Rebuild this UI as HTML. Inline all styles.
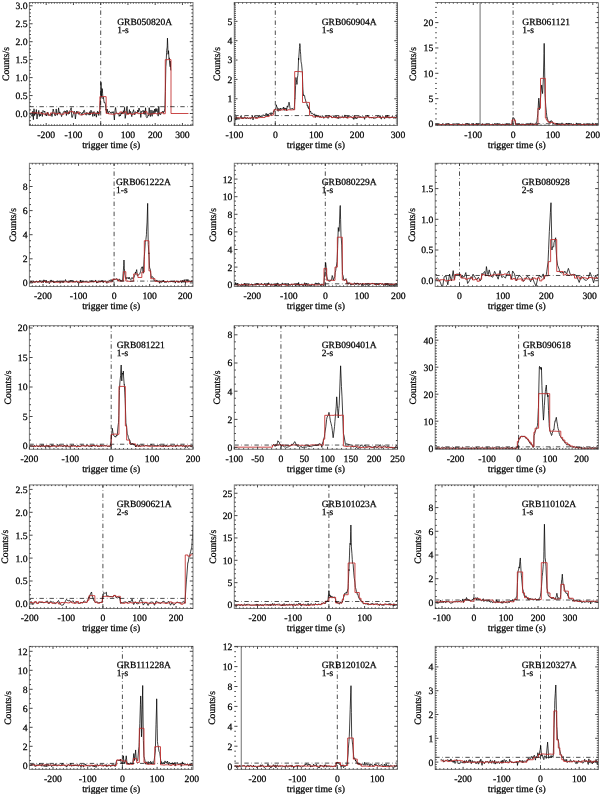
<!DOCTYPE html>
<html><head><meta charset="utf-8"><style>
html,body{margin:0;padding:0;background:#fff;}
svg{display:block;font-family:"Liberation Serif", serif;will-change:transform;}
text{fill:#000;stroke:#000;stroke-width:0.25px;text-rendering:geometricPrecision;}
</style></head><body>
<svg width="600" height="794" viewBox="0 0 600 794">
<rect width="600" height="794" fill="#fff"/>
<clipPath id="cGRB050820A"><rect x="29.4" y="2.5" width="163.6" height="123.0"/></clipPath>
<g clip-path="url(#cGRB050820A)"><path d="M30.40,113.50 L31.00,115.15 L31.59,114.92 L32.19,116.39 L32.79,111.17 L33.39,119.70 L33.99,108.80 L34.59,115.55 L35.19,112.64 L35.79,114.17 L36.39,109.56 L36.99,119.05 L37.59,114.37 L38.19,114.53 L38.79,110.45 L39.39,116.46 L39.99,113.96 L40.59,115.86 L41.19,113.39 L41.79,111.93 L42.39,116.46 L42.99,110.42 L43.59,111.07 L44.19,112.15 L44.79,111.07 L45.39,115.34 L45.99,113.83 L46.59,116.02 L47.19,114.22 L47.79,112.07 L48.39,115.36 L48.99,114.57 L49.59,115.35 L50.19,115.78 L50.79,115.31 L51.39,113.53 L51.99,116.51 L52.59,112.87 L53.19,109.03 L53.79,111.50 L54.39,114.02 L54.99,115.89 L55.59,115.51 L56.19,108.94 L56.79,113.36 L57.39,115.22 L57.99,112.99 L58.59,107.85 L59.19,113.18 L59.79,111.84 L60.39,112.69 L60.99,114.45 L61.59,116.58 L62.19,114.44 L62.79,114.06 L63.39,111.92 L63.99,111.24 L64.59,110.99 L65.19,112.73 L65.79,111.12 L66.39,115.53 L66.99,110.13 L67.59,112.12 L68.19,114.30 L68.79,112.18 L69.39,113.70 L69.99,110.45 L70.59,109.41 L71.19,107.62 L71.79,117.26 L72.39,117.39 L72.99,114.86 L73.59,113.07 L74.19,111.14 L74.79,112.65 L75.39,118.94 L75.99,114.32 L76.59,111.27 L77.19,112.88 L77.79,111.45 L78.39,114.10 L78.99,114.04 L79.59,113.00 L80.19,112.40 L80.79,112.97 L81.39,113.18 L81.99,115.31 L82.59,112.48 L83.19,113.17 L83.79,110.46 L84.39,110.27 L84.99,113.00 L85.59,114.51 L86.19,115.22 L86.79,112.36 L87.39,113.29 L87.99,114.43 L88.59,113.38 L89.19,115.17 L89.79,111.62 L90.39,114.70 L90.99,110.20 L91.59,112.41 L92.19,111.90 L92.79,116.45 L93.39,113.04 L93.99,111.51 L94.59,116.07 L95.19,114.22 L95.79,113.41 L96.39,117.20 L96.99,112.65 L97.59,111.22 L97.97,113.50 L98.19,112.14 L98.79,115.49 L99.39,110.93 L99.88,109.91 L99.99,105.40 L100.59,99.41 L100.70,99.14 L100.97,82.27 L101.19,86.93 L101.38,97.34 L101.79,91.96 L101.79,88.55 L102.39,88.80 L102.61,93.75 L102.99,98.75 L103.43,97.34 L103.59,98.68 L104.19,102.79 L104.51,102.73 L104.79,102.35 L105.39,104.07 L105.99,110.26 L106.15,109.19 L106.59,113.15 L107.19,109.10 L107.79,112.32 L108.33,113.50 L108.39,113.77 L108.99,111.15 L109.59,111.46 L110.19,112.05 L110.79,113.10 L111.39,113.25 L111.99,111.79 L112.59,112.82 L113.19,111.60 L113.79,114.26 L114.39,119.98 L114.99,110.62 L115.59,107.52 L116.19,112.21 L116.79,113.66 L117.39,113.75 L117.99,113.69 L118.59,113.32 L119.19,116.38 L119.79,114.74 L120.39,116.03 L120.99,112.66 L121.59,114.13 L122.19,111.99 L122.79,113.78 L123.39,110.65 L123.99,112.72 L124.59,107.39 L125.19,118.39 L125.79,115.01 L126.39,110.84 L126.99,106.45 L127.59,113.92 L128.19,113.12 L128.79,113.84 L129.39,109.64 L129.99,113.99 L130.59,111.38 L131.19,114.06 L131.79,116.62 L132.39,112.34 L132.99,111.82 L133.59,109.69 L134.19,113.46 L134.79,114.82 L135.39,111.63 L135.99,112.49 L136.59,112.38 L137.19,113.32 L137.79,109.99 L138.39,112.11 L138.99,107.97 L139.59,110.10 L140.19,111.31 L140.79,117.46 L141.39,111.45 L141.99,111.93 L142.59,110.87 L143.19,110.23 L143.79,114.12 L144.39,110.81 L144.99,114.54 L145.59,107.75 L146.19,116.59 L146.79,117.74 L147.39,117.44 L147.99,115.38 L148.59,115.99 L149.19,107.70 L149.79,113.84 L150.39,116.57 L150.99,109.94 L151.59,114.51 L152.19,116.26 L152.79,110.56 L153.39,111.23 L153.99,114.08 L154.59,109.11 L155.19,112.54 L155.79,108.53 L156.39,111.52 L156.99,108.67 L157.59,112.56 L158.19,116.13 L158.79,106.25 L159.39,114.30 L159.99,113.36 L160.59,114.70 L161.19,113.36 L161.79,112.15 L162.39,112.25 L162.99,111.01 L163.38,112.78 L163.59,112.00 L164.19,111.97 L164.79,108.81 L165.01,104.52 L165.39,91.48 L165.83,66.83 L165.99,65.06 L166.59,52.68 L166.65,50.68 L167.19,47.02 L167.46,38.11 L167.79,45.72 L168.01,54.26 L168.39,53.16 L168.55,50.68 L168.99,58.77 L169.37,57.85 L169.59,61.05 L170.19,66.83 L170.19,61.00 L170.73,70.42" fill="none" stroke="#000" stroke-width="0.75" stroke-linejoin="round"/><path d="M30.40,112.84 L32.64,112.84 L32.64,112.99 L34.88,112.99 L34.88,112.77 L37.12,112.77 L37.12,113.09 L39.36,113.09 L39.36,112.97 L41.60,112.97 L41.60,113.76 L43.84,113.76 L43.84,114.19 L46.09,114.19 L46.09,113.01 L48.33,113.01 L48.33,115.13 L50.57,115.13 L50.57,112.90 L52.81,112.90 L52.81,113.07 L55.05,113.07 L55.05,113.98 L57.29,113.98 L57.29,113.35 L59.53,113.35 L59.53,114.11 L61.78,114.11 L61.78,114.25 L64.02,114.25 L64.02,112.73 L66.26,112.73 L66.26,113.35 L68.50,113.35 L68.50,111.90 L70.74,111.90 L70.74,111.40 L72.98,111.40 L72.98,112.95 L75.23,112.95 L75.23,113.26 L77.47,113.26 L77.47,112.13 L79.71,112.13 L79.71,114.88 L81.95,114.88 L81.95,114.44 L84.19,114.44 L84.19,113.61 L86.43,113.61 L86.43,113.18 L88.67,113.18 L88.67,113.37 L90.92,113.37 L90.92,113.35 L93.16,113.35 L93.16,112.85 L95.40,112.85 L95.40,113.44 L97.64,113.44 L97.64,113.35 L99.88,113.35 L99.88,96.63 L106.15,96.63 L106.15,113.42 L108.42,113.42 L108.42,113.90 L110.70,113.90 L110.70,114.11 L112.97,114.11 L112.97,114.26 L115.25,114.26 L115.25,113.11 L117.52,113.11 L117.52,113.59 L119.80,113.59 L119.80,111.96 L122.07,111.96 L122.07,113.31 L124.34,113.31 L124.34,111.89 L126.62,111.89 L126.62,114.30 L128.89,114.30 L128.89,113.34 L131.17,113.34 L131.17,114.42 L133.44,114.42 L133.44,113.50 L135.72,113.50 L135.72,112.67 L137.99,112.67 L137.99,113.63 L140.26,113.63 L140.26,113.53 L142.54,113.53 L142.54,112.98 L144.81,112.98 L144.81,111.76 L147.09,111.76 L147.09,113.99 L149.36,113.99 L149.36,114.11 L151.64,114.11 L151.64,113.78 L153.91,113.78 L153.91,113.38 L156.19,113.38 L156.19,113.89 L158.46,113.89 L158.46,113.05 L160.73,113.05 L160.73,112.67 L163.01,112.67 L163.01,113.72 L165.28,113.72 L165.28,59.65 L171.01,59.65 L171.01,113.50 L188.45,113.50" fill="none" stroke="#c02828" stroke-width="0.85"/><line x1="100.70" y1="125.5" x2="100.70" y2="2.5" stroke="#000" stroke-width="0.7" stroke-dasharray="4.4,2.6,0.6,2.46"/><line x1="29.4" y1="106.68" x2="193.0" y2="106.68" stroke="#000" stroke-width="0.7" stroke-dasharray="4.4,2.6,0.6,2.46"/></g>
<rect x="29.4" y="2.5" width="163.6" height="123.0" stroke="#7a7a7a" stroke-width="1" fill="none"/>
<path d="M29.85,125.5v-1.2M29.85,2.5v1.2M32.58,125.5v-1.2M32.58,2.5v1.2M35.30,125.5v-1.2M35.30,2.5v1.2M38.03,125.5v-1.2M38.03,2.5v1.2M40.75,125.5v-1.2M40.75,2.5v1.2M43.48,125.5v-1.2M43.48,2.5v1.2M46.20,125.5v-2.5M46.20,2.5v2.5M48.92,125.5v-1.2M48.92,2.5v1.2M51.65,125.5v-1.2M51.65,2.5v1.2M54.38,125.5v-1.2M54.38,2.5v1.2M57.10,125.5v-1.2M57.10,2.5v1.2M59.83,125.5v-1.2M59.83,2.5v1.2M62.55,125.5v-1.2M62.55,2.5v1.2M65.28,125.5v-1.2M65.28,2.5v1.2M68.00,125.5v-1.2M68.00,2.5v1.2M70.72,125.5v-1.2M70.72,2.5v1.2M73.45,125.5v-2.5M73.45,2.5v2.5M76.18,125.5v-1.2M76.18,2.5v1.2M78.90,125.5v-1.2M78.90,2.5v1.2M81.62,125.5v-1.2M81.62,2.5v1.2M84.35,125.5v-1.2M84.35,2.5v1.2M87.07,125.5v-1.2M87.07,2.5v1.2M89.80,125.5v-1.2M89.80,2.5v1.2M92.53,125.5v-1.2M92.53,2.5v1.2M95.25,125.5v-1.2M95.25,2.5v1.2M97.97,125.5v-1.2M97.97,2.5v1.2M100.70,125.5v-2.5M100.70,2.5v2.5M103.43,125.5v-1.2M103.43,2.5v1.2M106.15,125.5v-1.2M106.15,2.5v1.2M108.88,125.5v-1.2M108.88,2.5v1.2M111.60,125.5v-1.2M111.60,2.5v1.2M114.32,125.5v-1.2M114.32,2.5v1.2M117.05,125.5v-1.2M117.05,2.5v1.2M119.78,125.5v-1.2M119.78,2.5v1.2M122.50,125.5v-1.2M122.50,2.5v1.2M125.22,125.5v-1.2M125.22,2.5v1.2M127.95,125.5v-2.5M127.95,2.5v2.5M130.68,125.5v-1.2M130.68,2.5v1.2M133.40,125.5v-1.2M133.40,2.5v1.2M136.12,125.5v-1.2M136.12,2.5v1.2M138.85,125.5v-1.2M138.85,2.5v1.2M141.57,125.5v-1.2M141.57,2.5v1.2M144.30,125.5v-1.2M144.30,2.5v1.2M147.03,125.5v-1.2M147.03,2.5v1.2M149.75,125.5v-1.2M149.75,2.5v1.2M152.47,125.5v-1.2M152.47,2.5v1.2M155.20,125.5v-2.5M155.20,2.5v2.5M157.93,125.5v-1.2M157.93,2.5v1.2M160.65,125.5v-1.2M160.65,2.5v1.2M163.38,125.5v-1.2M163.38,2.5v1.2M166.10,125.5v-1.2M166.10,2.5v1.2M168.83,125.5v-1.2M168.83,2.5v1.2M171.55,125.5v-1.2M171.55,2.5v1.2M174.28,125.5v-1.2M174.28,2.5v1.2M177.00,125.5v-1.2M177.00,2.5v1.2M179.73,125.5v-1.2M179.73,2.5v1.2M182.45,125.5v-2.5M182.45,2.5v2.5M185.18,125.5v-1.2M185.18,2.5v1.2M187.90,125.5v-1.2M187.90,2.5v1.2M190.63,125.5v-1.2M190.63,2.5v1.2M29.4,124.27h1.6M193.0,124.27h-1.6M29.4,120.68h1.6M193.0,120.68h-1.6M29.4,117.09h1.6M193.0,117.09h-1.6M29.4,113.50h3.2M193.0,113.50h-3.2M29.4,109.91h1.6M193.0,109.91h-1.6M29.4,106.32h1.6M193.0,106.32h-1.6M29.4,102.73h1.6M193.0,102.73h-1.6M29.4,99.14h1.6M193.0,99.14h-1.6M29.4,95.55h3.2M193.0,95.55h-3.2M29.4,91.96h1.6M193.0,91.96h-1.6M29.4,88.37h1.6M193.0,88.37h-1.6M29.4,84.78h1.6M193.0,84.78h-1.6M29.4,81.19h1.6M193.0,81.19h-1.6M29.4,77.60h3.2M193.0,77.60h-3.2M29.4,74.01h1.6M193.0,74.01h-1.6M29.4,70.42h1.6M193.0,70.42h-1.6M29.4,66.83h1.6M193.0,66.83h-1.6M29.4,63.24h1.6M193.0,63.24h-1.6M29.4,59.65h3.2M193.0,59.65h-3.2M29.4,56.06h1.6M193.0,56.06h-1.6M29.4,52.47h1.6M193.0,52.47h-1.6M29.4,48.88h1.6M193.0,48.88h-1.6M29.4,45.29h1.6M193.0,45.29h-1.6M29.4,41.70h3.2M193.0,41.70h-3.2M29.4,38.11h1.6M193.0,38.11h-1.6M29.4,34.52h1.6M193.0,34.52h-1.6M29.4,30.93h1.6M193.0,30.93h-1.6M29.4,27.34h1.6M193.0,27.34h-1.6M29.4,23.75h3.2M193.0,23.75h-3.2M29.4,20.16h1.6M193.0,20.16h-1.6M29.4,16.57h1.6M193.0,16.57h-1.6M29.4,12.98h1.6M193.0,12.98h-1.6M29.4,9.39h1.6M193.0,9.39h-1.6M29.4,5.80h3.2M193.0,5.80h-3.2" stroke="#333" stroke-width="0.9" fill="none"/>
<g font-size="9.7"><text x="46.20" y="138.30" text-anchor="middle">-200</text><text x="73.45" y="138.30" text-anchor="middle">-100</text><text x="100.70" y="138.30" text-anchor="middle">0</text><text x="127.95" y="138.30" text-anchor="middle">100</text><text x="155.20" y="138.30" text-anchor="middle">200</text><text x="182.45" y="138.30" text-anchor="middle">300</text><text x="27.50" y="116.90" text-anchor="end">0.0</text><text x="27.50" y="98.95" text-anchor="end">0.5</text><text x="27.50" y="81.00" text-anchor="end">1.0</text><text x="27.50" y="63.05" text-anchor="end">1.5</text><text x="27.50" y="45.10" text-anchor="end">2.0</text><text x="27.50" y="27.15" text-anchor="end">2.5</text><text x="27.50" y="9.20" text-anchor="end">3.0</text></g>
<text x="111.20" y="148.20" text-anchor="middle" font-size="9.7">trigger time (s)</text>
<text transform="translate(9.30,64.00) rotate(-90)" text-anchor="middle" font-size="9.7">Counts/s</text>
<text x="117.2" y="24.90" font-size="9.5">GRB050820A</text>
<text x="117.2" y="32.90" font-size="9.5">1-s</text>
<clipPath id="cGRB060904A"><rect x="234.3" y="2.5" width="163.2" height="123.0"/></clipPath>
<g clip-path="url(#cGRB060904A)"><path d="M234.40,118.10 L235.00,118.14 L235.60,120.14 L236.20,116.47 L236.80,119.78 L237.40,118.84 L238.00,117.53 L238.60,119.21 L239.20,119.01 L239.80,118.85 L240.40,117.42 L241.00,115.73 L241.60,117.89 L242.20,119.00 L242.80,117.38 L243.40,118.46 L244.00,117.89 L244.60,116.72 L245.20,118.57 L245.80,117.82 L246.40,118.67 L247.00,117.95 L247.60,117.54 L248.20,118.73 L248.80,118.09 L249.40,117.97 L250.00,118.35 L250.60,118.87 L250.76,117.71 L251.20,117.83 L251.80,117.90 L252.40,115.44 L253.00,119.91 L253.60,117.40 L254.20,117.11 L254.80,116.11 L255.40,116.90 L256.00,118.16 L256.60,117.30 L257.20,116.73 L257.80,117.52 L258.40,116.42 L258.94,117.13 L259.00,115.44 L259.60,115.48 L260.20,117.01 L260.80,115.88 L261.40,116.21 L262.00,116.85 L262.60,115.75 L263.20,114.65 L263.80,115.78 L264.40,115.56 L265.00,115.05 L265.60,114.35 L266.20,113.31 L266.80,114.96 L267.12,114.23 L267.40,113.93 L268.00,115.77 L268.60,114.17 L269.20,113.70 L269.80,113.42 L270.40,112.88 L271.00,115.00 L271.60,112.77 L272.20,113.29 L272.80,113.85 L273.25,112.29 L273.40,111.37 L274.00,111.88 L274.60,109.55 L275.20,109.92 L275.30,109.39 L275.80,109.17 L276.40,104.81 L276.53,106.10 L277.00,106.98 L277.35,107.46 L277.60,110.71 L278.16,111.33 L278.20,111.27 L278.80,108.24 L278.98,108.42 L279.40,109.16 L280.00,110.62 L280.21,109.39 L280.60,108.05 L281.20,109.56 L281.80,108.57 L282.40,108.36 L283.00,108.00 L283.48,108.42 L283.60,107.05 L284.20,110.46 L284.80,107.90 L285.40,108.80 L285.93,109.39 L286.00,108.10 L286.60,110.58 L287.20,105.96 L287.57,106.49 L287.80,107.23 L288.40,104.47 L288.80,104.17 L289.00,102.17 L289.60,105.08 L290.02,108.42 L290.20,109.15 L290.80,109.01 L291.40,108.75 L292.00,108.99 L292.48,108.42 L292.60,109.09 L293.20,109.13 L293.80,109.73 L294.11,109.39 L294.40,106.63 L294.93,98.75 L295.00,98.97 L295.60,85.70 L295.91,77.47 L296.20,79.83 L296.80,82.67 L296.98,84.43 L297.40,77.93 L297.80,75.53 L298.00,73.34 L298.60,58.09 L298.61,60.05 L299.20,51.97 L299.43,48.44 L299.80,46.65 L299.84,43.60 L300.40,51.30 L300.66,54.24 L301.00,61.31 L301.48,63.92 L301.60,64.17 L302.20,70.55 L302.29,71.66 L302.80,86.37 L302.91,89.07 L303.40,95.73 L303.60,94.88 L304.00,94.85 L304.60,95.60 L304.99,98.75 L305.20,98.79 L305.80,101.18 L305.98,102.62 L306.40,103.02 L307.00,103.59 L307.00,105.79 L307.60,105.24 L308.02,107.46 L308.20,106.64 L308.80,109.12 L309.40,108.17 L309.66,110.36 L310.00,112.21 L310.60,111.11 L311.20,113.56 L311.29,113.26 L311.80,113.48 L312.40,113.27 L313.00,114.18 L313.60,114.34 L314.15,115.20 L314.20,114.41 L314.80,113.89 L315.40,117.48 L316.00,115.37 L316.60,115.14 L317.20,116.42 L317.80,117.08 L318.40,116.02 L319.00,116.88 L319.60,117.32 L320.20,115.80 L320.29,116.94 L320.80,116.65 L321.40,117.38 L322.00,116.45 L322.60,116.14 L323.20,116.34 L323.80,118.35 L324.40,117.28 L325.00,116.60 L325.60,116.35 L326.20,116.02 L326.80,116.22 L327.40,118.05 L328.00,117.64 L328.60,118.14 L329.20,115.21 L329.80,116.79 L330.40,116.43 L331.00,115.97 L331.60,117.29 L332.20,118.08 L332.80,117.38 L333.40,117.12 L334.00,115.52 L334.60,116.13 L335.20,118.03 L335.80,116.33 L336.40,116.27 L337.00,118.01 L337.60,117.09 L338.20,118.78 L338.80,116.67 L339.40,117.29 L340.00,118.30 L340.60,117.67 L341.20,116.76 L341.80,117.53 L342.40,116.70 L343.00,116.46 L343.60,117.81 L344.20,117.30 L344.80,114.92 L345.40,116.88 L346.00,117.82 L346.60,116.95 L347.20,118.30 L347.80,115.91 L348.40,116.65 L349.00,115.96 L349.60,116.14 L350.20,116.64 L350.80,116.07 L351.40,116.83 L352.00,117.66 L352.60,118.01 L353.20,117.46 L353.80,119.45 L354.40,115.26 L355.00,118.69 L355.60,117.10 L356.20,118.30 L356.80,118.99 L357.40,117.11 L358.00,117.33 L358.60,117.19 L359.20,116.51 L359.80,117.64 L360.40,116.67 L361.00,116.54 L361.60,117.37 L362.20,117.32 L362.80,116.52 L363.40,116.99 L364.00,116.89 L364.60,119.35 L365.20,116.99 L365.80,116.69 L366.40,117.19 L367.00,116.73 L367.60,115.21 L368.20,116.98 L368.80,116.42 L369.40,117.88 L370.00,117.89 L370.60,117.53 L371.20,118.05 L371.80,117.08 L372.40,117.97 L373.00,117.24 L373.60,118.46 L374.20,118.67 L374.80,117.73 L375.40,118.11 L376.00,117.71 L376.60,117.67 L377.20,117.42 L377.80,116.07 L378.40,115.76 L379.00,116.38 L379.60,117.44 L380.20,115.64 L380.80,118.57 L381.40,119.05 L382.00,116.83 L382.60,117.10 L383.20,117.23 L383.80,117.07 L384.40,118.69 L385.00,118.22 L385.60,115.91 L386.20,116.11 L386.80,117.80 L387.40,115.24 L388.00,118.14 L388.60,117.66 L389.20,116.83 L389.80,118.27 L390.40,117.59 L391.00,117.28 L391.60,117.50 L392.20,116.28 L392.80,116.55 L393.40,118.19 L394.00,117.78 L394.60,116.95 L395.20,117.19 L395.80,117.89 L396.40,116.72 L397.00,116.34 L397.59,117.13" fill="none" stroke="#000" stroke-width="0.75" stroke-linejoin="round"/><path d="M234.40,117.95 L236.74,117.95 L236.74,117.83 L239.07,117.83 L239.07,117.79 L241.41,117.79 L241.41,118.37 L243.75,118.37 L243.75,117.72 L246.09,117.72 L246.09,118.00 L248.42,118.00 L248.42,118.14 L250.76,118.14 L250.76,117.79 L253.11,117.79 L253.11,117.75 L255.46,117.75 L255.46,118.36 L257.82,118.36 L257.82,117.63 L260.17,117.63 L260.17,117.52 L265.07,117.52 L265.07,116.55 L269.17,116.55 L269.17,115.20 L273.25,115.20 L273.25,114.23 L273.83,114.23 L273.83,109.78 L276.15,109.78 L276.15,109.92 L278.46,109.92 L278.46,110.10 L280.78,110.10 L280.78,109.94 L283.10,109.94 L283.10,109.48 L285.42,109.48 L285.42,110.28 L287.73,110.28 L287.73,109.74 L290.05,109.74 L290.05,109.91 L292.37,109.91 L292.37,109.78 L294.69,109.78 L294.69,71.53 L297.29,71.53 L297.29,71.49 L299.89,71.49 L299.89,71.73 L302.50,71.73 L302.50,102.48 L304.83,102.48 L304.83,102.17 L307.16,102.17 L307.16,102.41 L309.49,102.41 L309.49,115.39 L312.93,115.39 L312.93,116.96 L315.38,116.96 L315.38,116.63 L317.84,116.63 L317.84,116.68 L320.29,116.68 L320.29,117.32 L322.50,117.32 L322.50,117.41 L324.71,117.41 L324.71,117.23 L326.92,117.23 L326.92,117.04 L329.12,117.04 L329.12,116.33 L331.33,116.33 L331.33,117.49 L333.54,117.49 L333.54,117.39 L335.75,117.39 L335.75,117.87 L337.96,117.87 L337.96,116.91 L340.17,116.91 L340.17,117.21 L342.38,117.21 L342.38,117.53 L344.58,117.53 L344.58,116.99 L346.79,116.99 L346.79,117.78 L349.00,117.78 L349.00,117.09 L351.21,117.09 L351.21,117.49 L353.42,117.49 L353.42,116.88 L355.63,116.88 L355.63,117.12 L357.84,117.12 L357.84,117.03 L360.04,117.03 L360.04,117.36 L362.25,117.36 L362.25,117.63 L364.46,117.63 L364.46,116.98 L366.67,116.98 L366.67,116.93 L368.88,116.93 L368.88,117.56 L371.09,117.56 L371.09,117.70 L373.30,117.70 L373.30,117.16 L375.50,117.16 L375.50,117.34 L377.71,117.34 L377.71,117.26 L379.92,117.26 L379.92,117.61 L382.13,117.61 L382.13,117.01 L384.34,117.01 L384.34,117.69 L386.55,117.69 L386.55,116.90 L388.76,116.90 L388.76,117.39 L390.97,117.39 L390.97,117.34 L393.17,117.34 L393.17,117.38 L395.38,117.38 L395.38,117.52 L397.59,117.52" fill="none" stroke="#c02828" stroke-width="0.85"/><line x1="275.30" y1="125.5" x2="275.30" y2="2.5" stroke="#000" stroke-width="0.7" stroke-dasharray="4.4,2.6,0.6,2.46"/><line x1="234.3" y1="115.58" x2="397.5" y2="115.58" stroke="#000" stroke-width="0.7" stroke-dasharray="4.4,2.6,0.6,2.46"/></g>
<rect x="234.3" y="2.5" width="163.2" height="123.0" stroke="#7a7a7a" stroke-width="1" fill="none"/>
<path d="M234.40,125.5v-2.5M234.40,2.5v2.5M238.49,125.5v-1.2M238.49,2.5v1.2M242.58,125.5v-1.2M242.58,2.5v1.2M246.67,125.5v-1.2M246.67,2.5v1.2M250.76,125.5v-1.2M250.76,2.5v1.2M254.85,125.5v-1.2M254.85,2.5v1.2M258.94,125.5v-1.2M258.94,2.5v1.2M263.03,125.5v-1.2M263.03,2.5v1.2M267.12,125.5v-1.2M267.12,2.5v1.2M271.21,125.5v-1.2M271.21,2.5v1.2M275.30,125.5v-2.5M275.30,2.5v2.5M279.39,125.5v-1.2M279.39,2.5v1.2M283.48,125.5v-1.2M283.48,2.5v1.2M287.57,125.5v-1.2M287.57,2.5v1.2M291.66,125.5v-1.2M291.66,2.5v1.2M295.75,125.5v-1.2M295.75,2.5v1.2M299.84,125.5v-1.2M299.84,2.5v1.2M303.93,125.5v-1.2M303.93,2.5v1.2M308.02,125.5v-1.2M308.02,2.5v1.2M312.11,125.5v-1.2M312.11,2.5v1.2M316.20,125.5v-2.5M316.20,2.5v2.5M320.29,125.5v-1.2M320.29,2.5v1.2M324.38,125.5v-1.2M324.38,2.5v1.2M328.47,125.5v-1.2M328.47,2.5v1.2M332.56,125.5v-1.2M332.56,2.5v1.2M336.65,125.5v-1.2M336.65,2.5v1.2M340.74,125.5v-1.2M340.74,2.5v1.2M344.83,125.5v-1.2M344.83,2.5v1.2M348.92,125.5v-1.2M348.92,2.5v1.2M353.01,125.5v-1.2M353.01,2.5v1.2M357.10,125.5v-2.5M357.10,2.5v2.5M361.19,125.5v-1.2M361.19,2.5v1.2M365.28,125.5v-1.2M365.28,2.5v1.2M369.37,125.5v-1.2M369.37,2.5v1.2M373.46,125.5v-1.2M373.46,2.5v1.2M377.55,125.5v-1.2M377.55,2.5v1.2M381.64,125.5v-1.2M381.64,2.5v1.2M385.73,125.5v-1.2M385.73,2.5v1.2M389.82,125.5v-1.2M389.82,2.5v1.2M393.91,125.5v-1.2M393.91,2.5v1.2M234.3,123.91h1.6M397.5,123.91h-1.6M234.3,121.97h1.6M397.5,121.97h-1.6M234.3,120.03h1.6M397.5,120.03h-1.6M234.3,118.10h3.2M397.5,118.10h-3.2M234.3,116.16h1.6M397.5,116.16h-1.6M234.3,114.23h1.6M397.5,114.23h-1.6M234.3,112.29h1.6M397.5,112.29h-1.6M234.3,110.36h1.6M397.5,110.36h-1.6M234.3,108.42h1.6M397.5,108.42h-1.6M234.3,106.49h1.6M397.5,106.49h-1.6M234.3,104.55h1.6M397.5,104.55h-1.6M234.3,102.62h1.6M397.5,102.62h-1.6M234.3,100.69h1.6M397.5,100.69h-1.6M234.3,98.75h3.2M397.5,98.75h-3.2M234.3,96.81h1.6M397.5,96.81h-1.6M234.3,94.88h1.6M397.5,94.88h-1.6M234.3,92.94h1.6M397.5,92.94h-1.6M234.3,91.01h1.6M397.5,91.01h-1.6M234.3,89.07h1.6M397.5,89.07h-1.6M234.3,87.14h1.6M397.5,87.14h-1.6M234.3,85.20h1.6M397.5,85.20h-1.6M234.3,83.27h1.6M397.5,83.27h-1.6M234.3,81.33h1.6M397.5,81.33h-1.6M234.3,79.40h3.2M397.5,79.40h-3.2M234.3,77.46h1.6M397.5,77.46h-1.6M234.3,75.53h1.6M397.5,75.53h-1.6M234.3,73.59h1.6M397.5,73.59h-1.6M234.3,71.66h1.6M397.5,71.66h-1.6M234.3,69.72h1.6M397.5,69.72h-1.6M234.3,67.79h1.6M397.5,67.79h-1.6M234.3,65.85h1.6M397.5,65.85h-1.6M234.3,63.92h1.6M397.5,63.92h-1.6M234.3,61.98h1.6M397.5,61.98h-1.6M234.3,60.05h3.2M397.5,60.05h-3.2M234.3,58.11h1.6M397.5,58.11h-1.6M234.3,56.18h1.6M397.5,56.18h-1.6M234.3,54.24h1.6M397.5,54.24h-1.6M234.3,52.31h1.6M397.5,52.31h-1.6M234.3,50.37h1.6M397.5,50.37h-1.6M234.3,48.44h1.6M397.5,48.44h-1.6M234.3,46.50h1.6M397.5,46.50h-1.6M234.3,44.57h1.6M397.5,44.57h-1.6M234.3,42.63h1.6M397.5,42.63h-1.6M234.3,40.70h3.2M397.5,40.70h-3.2M234.3,38.76h1.6M397.5,38.76h-1.6M234.3,36.83h1.6M397.5,36.83h-1.6M234.3,34.89h1.6M397.5,34.89h-1.6M234.3,32.96h1.6M397.5,32.96h-1.6M234.3,31.02h1.6M397.5,31.02h-1.6M234.3,29.09h1.6M397.5,29.09h-1.6M234.3,27.16h1.6M397.5,27.16h-1.6M234.3,25.22h1.6M397.5,25.22h-1.6M234.3,23.29h1.6M397.5,23.29h-1.6M234.3,21.35h3.2M397.5,21.35h-3.2M234.3,19.42h1.6M397.5,19.42h-1.6M234.3,17.48h1.6M397.5,17.48h-1.6M234.3,15.55h1.6M397.5,15.55h-1.6M234.3,13.61h1.6M397.5,13.61h-1.6M234.3,11.68h1.6M397.5,11.68h-1.6M234.3,9.74h1.6M397.5,9.74h-1.6M234.3,7.81h1.6M397.5,7.81h-1.6M234.3,5.87h1.6M397.5,5.87h-1.6M234.3,3.94h1.6M397.5,3.94h-1.6" stroke="#333" stroke-width="0.9" fill="none"/>
<g font-size="9.7"><text x="234.40" y="138.30" text-anchor="middle">-100</text><text x="275.30" y="138.30" text-anchor="middle">0</text><text x="316.20" y="138.30" text-anchor="middle">100</text><text x="357.10" y="138.30" text-anchor="middle">200</text><text x="398.00" y="138.30" text-anchor="middle">300</text><text x="232.40" y="121.50" text-anchor="end">0</text><text x="232.40" y="102.15" text-anchor="end">1</text><text x="232.40" y="82.80" text-anchor="end">2</text><text x="232.40" y="63.45" text-anchor="end">3</text><text x="232.40" y="44.10" text-anchor="end">4</text><text x="232.40" y="24.75" text-anchor="end">5</text></g>
<text x="315.90" y="148.20" text-anchor="middle" font-size="9.7">trigger time (s)</text>
<text transform="translate(220.40,64.00) rotate(-90)" text-anchor="middle" font-size="9.7">Counts/s</text>
<text x="321.7" y="24.90" font-size="9.5">GRB060904A</text>
<text x="321.7" y="32.90" font-size="9.5">1-s</text>
<clipPath id="cGRB061121"><rect x="435.2" y="2.5" width="163.2" height="123.0"/></clipPath>
<g clip-path="url(#cGRB061121)"><path d="M435.39,124.61 L435.99,124.34 L436.59,124.55 L437.19,125.74 L437.79,124.77 L438.39,124.82 L438.99,124.65 L439.59,124.98 L440.19,124.63 L440.79,124.89 L441.39,125.40 L441.99,124.06 L442.59,124.06 L443.19,123.56 L443.79,124.57 L444.39,124.84 L444.99,124.93 L445.59,125.54 L446.19,124.00 L446.79,125.26 L447.39,125.31 L447.99,124.72 L448.59,123.69 L449.19,124.45 L449.79,125.21 L450.39,125.02 L450.99,124.21 L451.59,124.68 L452.19,125.05 L452.79,124.73 L453.39,124.13 L453.99,123.38 L454.59,125.34 L455.19,124.96 L455.79,125.07 L456.39,126.05 L456.99,125.14 L457.59,125.20 L458.19,123.89 L458.79,124.66 L459.39,125.56 L459.99,124.18 L460.59,124.79 L461.19,125.64 L461.79,124.94 L462.39,124.93 L462.99,125.10 L463.59,124.55 L464.19,125.94 L464.79,124.73 L465.39,123.95 L465.99,124.05 L466.59,123.89 L467.19,123.88 L467.79,123.66 L468.39,125.25 L468.99,124.05 L469.59,125.70 L470.19,124.93 L470.79,125.73 L471.39,123.92 L471.99,123.75 L472.59,124.68 L473.19,123.48 L473.79,124.97 L474.39,124.47 L474.99,124.46 L475.59,125.20 L476.19,124.29 L476.79,123.37 L477.39,125.18 L477.99,124.00 L478.59,124.65 L479.19,123.47 L479.79,124.26 L480.39,124.14 L480.99,124.16 L481.59,124.40 L482.19,125.40 L482.79,123.70 L483.39,125.38 L483.99,124.40 L484.59,124.17 L485.19,125.05 L485.79,124.45 L486.39,123.83 L486.99,124.55 L487.59,125.08 L488.19,126.31 L488.79,125.13 L489.39,124.90 L489.99,124.85 L490.59,125.12 L491.19,124.30 L491.79,124.88 L492.39,124.60 L492.99,124.12 L493.59,125.05 L494.19,124.71 L494.79,123.22 L495.39,124.00 L495.99,125.32 L496.59,124.58 L497.19,124.18 L497.79,123.78 L498.39,124.43 L498.99,124.85 L499.59,124.97 L500.19,124.13 L500.79,124.33 L501.39,124.84 L501.99,124.64 L502.59,124.77 L503.19,124.08 L503.79,124.94 L504.39,124.22 L504.99,124.00 L505.59,124.22 L506.19,125.02 L506.79,123.70 L507.39,124.93 L507.99,124.25 L508.59,124.97 L509.19,125.57 L509.79,124.37 L510.39,124.33 L510.99,124.56 L511.59,124.34 L511.90,124.51 L512.19,122.94 L512.70,118.93 L512.79,117.65 L513.39,117.83 L513.90,117.92 L513.99,117.85 L514.59,120.28 L515.09,121.47 L515.19,121.32 L515.79,124.46 L515.89,124.51 L516.39,125.06 L516.99,124.45 L517.59,124.43 L518.19,123.75 L518.79,124.94 L519.39,124.06 L519.99,124.25 L520.59,124.60 L521.19,124.00 L521.79,124.21 L522.39,125.03 L522.99,123.85 L523.59,125.25 L524.19,124.47 L524.79,124.51 L525.39,124.25 L525.99,124.95 L526.59,124.53 L527.19,124.59 L527.79,123.90 L528.39,124.99 L528.99,124.46 L529.59,124.67 L530.19,125.30 L530.79,122.88 L531.39,124.55 L531.99,125.41 L532.59,123.65 L533.19,125.16 L533.79,124.28 L534.39,123.98 L534.99,124.90 L535.02,124.51 L535.59,123.81 L536.19,122.49 L536.79,122.34 L537.01,120.96 L537.39,117.64 L537.81,113.86 L537.99,110.59 L538.59,100.39 L538.84,98.14 L539.19,105.87 L539.40,109.80 L539.79,107.24 L540.20,101.19 L540.39,100.08 L540.99,92.37 L541.59,85.41 L541.71,84.96 L542.19,90.39 L542.59,93.58 L542.79,89.85 L543.39,78.37 L543.39,77.41 L543.99,53.51 L544.18,43.39 L544.59,67.08 L544.98,93.58 L545.19,97.49 L545.78,106.25 L545.79,106.28 L546.39,112.27 L546.97,117.92 L546.99,117.49 L547.59,118.91 L548.17,121.47 L548.19,121.55 L548.79,121.62 L549.39,122.48 L549.76,122.48 L549.99,121.20 L550.59,122.34 L551.19,120.53 L551.75,121.47 L551.79,121.36 L552.39,121.61 L552.99,123.03 L553.59,123.56 L553.75,124.00 L554.19,124.32 L554.79,124.17 L555.39,124.51 L555.99,123.17 L556.59,124.30 L557.19,123.20 L557.79,125.92 L558.39,124.32 L558.99,124.03 L559.59,124.59 L560.19,123.79 L560.79,124.11 L560.92,124.51 L561.39,124.24 L561.99,122.80 L562.59,124.36 L563.19,124.33 L563.79,124.78 L564.39,124.44 L564.99,125.30 L565.59,124.64 L566.19,123.03 L566.79,123.87 L567.39,124.13 L567.99,123.85 L568.59,123.38 L569.19,124.17 L569.79,123.27 L570.39,123.88 L570.99,124.43 L571.59,123.49 L572.19,125.97 L572.79,124.89 L573.39,124.38 L573.99,125.10 L574.59,124.64 L575.19,124.93 L575.79,124.95 L576.39,122.90 L576.99,124.17 L577.59,124.58 L578.19,123.75 L578.79,124.70 L579.39,124.02 L579.99,124.35 L580.59,123.57 L581.19,125.43 L581.79,124.10 L582.39,124.49 L582.99,125.27 L583.59,123.92 L584.19,125.10 L584.79,123.59 L585.39,124.26 L585.99,124.15 L586.59,124.53 L587.19,124.03 L587.79,125.72 L588.39,124.54 L588.99,124.97 L589.59,124.41 L590.19,124.61 L590.79,124.21 L591.39,125.10 L591.99,123.47 L592.59,123.18 L593.19,124.72 L593.79,124.61 L594.39,124.42 L594.99,123.83 L595.59,123.45 L596.19,125.34 L596.79,124.98 L597.39,125.25 L597.99,125.28 L598.38,124.61" fill="none" stroke="#000" stroke-width="0.75" stroke-linejoin="round"/><path d="M435.39,124.68 L437.65,124.68 L437.65,124.66 L439.90,124.66 L439.90,124.54 L442.15,124.54 L442.15,124.68 L444.40,124.68 L444.40,124.81 L446.66,124.81 L446.66,124.18 L448.91,124.18 L448.91,124.53 L451.16,124.53 L451.16,124.53 L453.41,124.53 L453.41,124.79 L455.67,124.79 L455.67,124.72 L457.92,124.72 L457.92,124.50 L460.17,124.50 L460.17,124.63 L462.42,124.63 L462.42,124.43 L464.68,124.43 L464.68,124.32 L466.93,124.32 L466.93,124.83 L469.18,124.83 L469.18,124.86 L471.44,124.86 L471.44,124.42 L473.69,124.42 L473.69,124.62 L475.94,124.62 L475.94,124.48 L478.19,124.48 L478.19,124.37 L480.45,124.37 L480.45,124.37 L482.70,124.37 L482.70,124.93 L484.95,124.93 L484.95,124.50 L487.20,124.50 L487.20,124.33 L489.46,124.33 L489.46,124.64 L491.71,124.64 L491.71,124.76 L493.96,124.76 L493.96,124.78 L496.22,124.78 L496.22,124.57 L498.47,124.57 L498.47,124.72 L500.72,124.72 L500.72,124.64 L502.97,124.64 L502.97,124.83 L505.23,124.83 L505.23,124.55 L507.48,124.55 L507.48,124.78 L509.73,124.78 L509.73,124.71 L511.98,124.71 L511.98,119.94 L515.29,119.94 L515.29,124.46 L517.56,124.46 L517.56,124.64 L519.83,124.64 L519.83,124.59 L522.11,124.59 L522.11,124.50 L524.38,124.50 L524.38,124.55 L526.65,124.55 L526.65,124.48 L528.92,124.48 L528.92,124.39 L531.19,124.39 L531.19,124.20 L533.46,124.20 L533.46,124.31 L535.73,124.31 L535.73,124.49 L538.01,124.49 L538.01,108.28 L540.52,108.28 L540.52,78.37 L545.34,78.37 L545.34,117.92 L546.18,117.92 L546.18,119.44 L546.97,119.44 L546.97,120.96 L548.17,120.96 L548.17,122.23 L549.76,122.23 L549.76,122.99 L550.96,122.99 L550.96,122.23 L552.95,122.23 L552.95,123.24 L555.34,123.24 L555.34,124.25 L557.73,124.25 L557.73,124.55 L559.99,124.55 L559.99,124.49 L562.25,124.49 L562.25,124.46 L564.51,124.46 L564.51,124.19 L566.76,124.19 L566.76,124.58 L569.02,124.58 L569.02,124.89 L571.28,124.89 L571.28,124.62 L573.54,124.62 L573.54,124.60 L575.80,124.60 L575.80,124.91 L578.06,124.91 L578.06,124.58 L580.31,124.58 L580.31,124.56 L582.57,124.56 L582.57,124.46 L584.83,124.46 L584.83,124.59 L587.09,124.59 L587.09,124.42 L589.35,124.42 L589.35,124.69 L591.60,124.69 L591.60,124.48 L593.86,124.48 L593.86,124.40 L596.12,124.40 L596.12,124.52 L598.38,124.52" fill="none" stroke="#c02828" stroke-width="0.85"/><line x1="513.10" y1="125.5" x2="513.10" y2="2.5" stroke="#000" stroke-width="0.7" stroke-dasharray="4.4,2.6,0.6,2.46"/><line x1="435.2" y1="123.75" x2="598.4" y2="123.75" stroke="#000" stroke-width="0.7" stroke-dasharray="4.4,2.6,0.6,2.46"/><line x1="480.10" y1="2.5" x2="480.10" y2="125.5" stroke="#888" stroke-width="1.2"/></g>
<path d="M435.2,2.5 L598.4,2.5 L598.4,125.5 L435.2,125.5" stroke="#7a7a7a" stroke-width="1" fill="none"/>
<path d="M437.39,125.5v-1.2M437.39,2.5v1.2M441.37,125.5v-1.2M441.37,2.5v1.2M445.36,125.5v-1.2M445.36,2.5v1.2M449.34,125.5v-1.2M449.34,2.5v1.2M453.33,125.5v-1.2M453.33,2.5v1.2M457.31,125.5v-1.2M457.31,2.5v1.2M461.30,125.5v-1.2M461.30,2.5v1.2M465.28,125.5v-1.2M465.28,2.5v1.2M469.27,125.5v-1.2M469.27,2.5v1.2M473.25,125.5v-2.5M473.25,2.5v2.5M477.24,125.5v-1.2M477.24,2.5v1.2M481.22,125.5v-1.2M481.22,2.5v1.2M485.21,125.5v-1.2M485.21,2.5v1.2M489.19,125.5v-1.2M489.19,2.5v1.2M493.18,125.5v-1.2M493.18,2.5v1.2M497.16,125.5v-1.2M497.16,2.5v1.2M501.15,125.5v-1.2M501.15,2.5v1.2M505.13,125.5v-1.2M505.13,2.5v1.2M509.12,125.5v-1.2M509.12,2.5v1.2M513.10,125.5v-2.5M513.10,2.5v2.5M517.09,125.5v-1.2M517.09,2.5v1.2M521.07,125.5v-1.2M521.07,2.5v1.2M525.06,125.5v-1.2M525.06,2.5v1.2M529.04,125.5v-1.2M529.04,2.5v1.2M533.03,125.5v-1.2M533.03,2.5v1.2M537.01,125.5v-1.2M537.01,2.5v1.2M541.00,125.5v-1.2M541.00,2.5v1.2M544.98,125.5v-1.2M544.98,2.5v1.2M548.97,125.5v-1.2M548.97,2.5v1.2M552.95,125.5v-2.5M552.95,2.5v2.5M556.94,125.5v-1.2M556.94,2.5v1.2M560.92,125.5v-1.2M560.92,2.5v1.2M564.90,125.5v-1.2M564.90,2.5v1.2M568.89,125.5v-1.2M568.89,2.5v1.2M572.88,125.5v-1.2M572.88,2.5v1.2M576.86,125.5v-1.2M576.86,2.5v1.2M580.85,125.5v-1.2M580.85,2.5v1.2M584.83,125.5v-1.2M584.83,2.5v1.2M588.82,125.5v-1.2M588.82,2.5v1.2M592.80,125.5v-2.5M592.80,2.5v2.5M596.79,125.5v-1.2M596.79,2.5v1.2M435.2,124.00h3.2M598.4,124.00h-3.2M435.2,118.93h1.6M598.4,118.93h-1.6M435.2,113.86h1.6M598.4,113.86h-1.6M435.2,108.79h1.6M598.4,108.79h-1.6M435.2,103.72h1.6M598.4,103.72h-1.6M435.2,98.65h3.2M598.4,98.65h-3.2M435.2,93.58h1.6M598.4,93.58h-1.6M435.2,88.51h1.6M598.4,88.51h-1.6M435.2,83.44h1.6M598.4,83.44h-1.6M435.2,78.37h1.6M598.4,78.37h-1.6M435.2,73.30h3.2M598.4,73.30h-3.2M435.2,68.23h1.6M598.4,68.23h-1.6M435.2,63.16h1.6M598.4,63.16h-1.6M435.2,58.09h1.6M598.4,58.09h-1.6M435.2,53.02h1.6M598.4,53.02h-1.6M435.2,47.95h3.2M598.4,47.95h-3.2M435.2,42.88h1.6M598.4,42.88h-1.6M435.2,37.81h1.6M598.4,37.81h-1.6M435.2,32.74h1.6M598.4,32.74h-1.6M435.2,27.67h1.6M598.4,27.67h-1.6M435.2,22.60h3.2M598.4,22.60h-3.2M435.2,17.53h1.6M598.4,17.53h-1.6M435.2,12.46h1.6M598.4,12.46h-1.6M435.2,7.39h1.6M598.4,7.39h-1.6" stroke="#333" stroke-width="0.9" fill="none"/>
<g font-size="9.7"><text x="473.25" y="138.30" text-anchor="middle">-100</text><text x="513.10" y="138.30" text-anchor="middle">0</text><text x="552.95" y="138.30" text-anchor="middle">100</text><text x="592.80" y="138.30" text-anchor="middle">200</text><text x="433.30" y="127.40" text-anchor="end">0</text><text x="433.30" y="102.05" text-anchor="end">5</text><text x="433.30" y="76.70" text-anchor="end">10</text><text x="433.30" y="51.35" text-anchor="end">15</text><text x="433.30" y="26.00" text-anchor="end">20</text></g>
<text x="516.80" y="148.20" text-anchor="middle" font-size="9.7">trigger time (s)</text>
<text transform="translate(416.20,64.00) rotate(-90)" text-anchor="middle" font-size="9.7">Counts/s</text>
<text x="522.3" y="24.50" font-size="9.5">GRB061121</text>
<text x="522.3" y="32.50" font-size="9.5">1-s</text>
<clipPath id="cGRB061222A"><rect x="29.4" y="163.3" width="163.6" height="123.19999999999999"/></clipPath>
<g clip-path="url(#cGRB061222A)"><path d="M29.49,281.69 L30.09,281.27 L30.69,282.54 L31.29,281.11 L31.89,282.05 L32.49,283.03 L33.09,282.24 L33.69,281.19 L34.29,281.41 L34.89,282.66 L35.49,281.17 L36.09,281.77 L36.69,281.34 L37.29,281.41 L37.89,282.67 L38.49,281.40 L39.09,282.21 L39.69,280.39 L40.29,281.08 L40.89,281.66 L41.49,282.52 L42.09,281.65 L42.69,281.56 L43.29,282.72 L43.89,279.82 L44.49,281.36 L45.09,280.27 L45.69,282.63 L46.29,280.31 L46.89,282.84 L47.49,282.24 L48.09,281.24 L48.69,281.65 L49.29,283.69 L49.89,282.63 L50.49,280.99 L51.09,279.93 L51.69,280.92 L52.29,281.93 L52.89,281.02 L53.49,282.66 L54.09,281.26 L54.69,282.83 L55.29,281.70 L55.89,281.81 L56.49,281.02 L57.09,281.95 L57.69,280.68 L58.29,281.86 L58.89,280.99 L59.49,281.03 L60.09,283.25 L60.69,281.66 L61.29,281.66 L61.89,282.35 L62.49,281.54 L63.09,282.92 L63.69,281.23 L64.29,281.26 L64.89,281.44 L65.49,279.60 L66.09,281.40 L66.69,281.64 L67.29,282.31 L67.89,281.44 L68.49,282.51 L69.09,280.62 L69.69,282.24 L70.29,281.56 L70.89,280.01 L71.49,280.71 L72.09,281.49 L72.69,280.53 L73.29,281.74 L73.89,281.02 L74.49,281.68 L75.09,282.46 L75.69,281.33 L76.29,280.91 L76.89,281.99 L77.49,282.62 L78.09,282.14 L78.69,283.70 L79.29,282.21 L79.89,282.60 L80.49,279.99 L81.09,282.17 L81.69,283.00 L82.29,280.96 L82.89,281.84 L83.49,281.65 L84.09,281.54 L84.69,281.52 L85.29,282.01 L85.89,280.89 L86.49,281.25 L87.09,282.11 L87.69,281.84 L88.29,282.49 L88.89,281.46 L89.49,281.07 L90.09,281.15 L90.69,281.18 L91.29,281.80 L91.89,280.36 L92.49,281.87 L93.09,281.67 L93.69,281.98 L94.29,281.63 L94.89,281.90 L95.49,279.98 L96.09,281.34 L96.69,283.12 L97.29,282.06 L97.89,282.89 L98.49,280.95 L99.09,280.53 L99.69,282.08 L100.29,281.18 L100.89,281.87 L101.49,281.35 L102.09,280.23 L102.69,281.99 L103.29,282.74 L103.89,281.09 L104.49,281.26 L105.09,281.13 L105.69,280.83 L106.29,282.27 L106.89,283.35 L106.99,281.69 L107.49,281.87 L108.09,282.34 L108.69,282.11 L109.29,279.96 L109.89,280.56 L110.49,280.25 L111.09,279.58 L111.69,280.68 L112.29,280.85 L112.32,279.89 L112.89,280.44 L113.49,279.34 L114.09,279.45 L114.10,278.68 L114.69,279.39 L115.29,279.36 L115.89,279.04 L116.49,278.71 L117.09,278.88 L117.66,280.49 L117.69,280.31 L118.29,280.92 L118.89,279.64 L119.49,279.19 L120.09,280.99 L120.69,279.84 L121.29,280.77 L121.89,280.63 L122.49,280.33 L122.63,280.49 L123.09,273.48 L123.34,270.85 L123.69,265.65 L123.98,260.00 L124.29,267.12 L124.41,268.44 L124.89,274.69 L125.12,275.67 L125.49,278.17 L126.09,279.08 L126.19,279.28 L126.69,277.33 L127.29,278.19 L127.89,277.63 L128.49,278.86 L129.09,277.01 L129.69,278.93 L130.29,278.84 L130.89,279.62 L131.49,278.24 L132.09,277.43 L132.69,278.78 L133.29,278.46 L133.65,278.08 L133.89,277.56 L134.49,275.75 L135.09,274.41 L135.43,272.05 L135.69,273.34 L136.29,271.24 L136.67,269.64 L136.89,271.18 L137.21,275.67 L137.49,275.72 L138.09,275.03 L138.69,274.89 L138.98,274.46 L139.29,274.27 L139.89,273.51 L140.49,271.83 L140.76,270.85 L141.09,268.95 L141.69,267.20 L142.29,267.71 L142.54,266.75 L142.89,271.25 L143.25,273.26 L143.49,269.84 L144.09,259.47 L144.32,256.39 L144.69,251.77 L145.29,242.38 L145.38,240.72 L145.89,239.61 L146.45,234.70 L146.49,231.84 L147.09,222.07 L147.66,203.37 L147.69,206.24 L148.23,244.34 L148.29,244.81 L148.89,253.84 L148.94,252.77 L149.49,265.93 L149.65,268.44 L150.09,268.52 L150.69,273.31 L151.29,277.25 L151.43,276.88 L151.89,277.60 L152.49,276.67 L153.09,277.21 L153.69,278.19 L153.92,279.89 L154.29,280.88 L154.89,280.83 L155.49,280.59 L156.09,281.52 L156.69,279.96 L157.29,280.65 L157.89,281.47 L158.49,282.01 L158.54,281.69 L159.09,280.53 L159.69,283.32 L160.29,281.50 L160.89,281.95 L161.49,282.32 L162.09,281.98 L162.69,281.58 L163.29,280.12 L163.89,281.65 L164.49,282.06 L165.09,282.73 L165.69,281.04 L166.29,282.33 L166.89,281.79 L167.49,281.09 L168.09,281.65 L168.69,282.02 L169.29,281.84 L169.89,280.94 L170.49,281.71 L171.09,281.49 L171.69,281.34 L172.29,281.98 L172.89,281.42 L173.49,281.93 L174.09,280.74 L174.69,281.27 L175.29,283.16 L175.89,281.87 L176.49,280.76 L177.09,281.87 L177.69,282.05 L178.29,280.86 L178.89,282.61 L179.49,281.64 L180.09,281.20 L180.69,280.98 L181.29,282.57 L181.89,282.75 L182.49,280.43 L183.09,282.35 L183.69,281.77 L184.29,279.64 L184.89,282.09 L185.49,283.55 L186.09,279.34 L186.69,280.84 L187.29,281.39 L187.89,279.35 L188.49,281.76 L189.09,280.47 L189.69,281.68 L190.29,281.93 L190.89,281.16 L191.49,280.95 L192.09,280.61 L192.69,280.69 L193.02,281.69" fill="none" stroke="#000" stroke-width="0.75" stroke-linejoin="round"/><path d="M29.49,281.97 L31.73,281.97 L31.73,282.07 L33.97,282.07 L33.97,282.09 L36.21,282.09 L36.21,281.70 L38.45,281.70 L38.45,281.79 L40.68,281.79 L40.68,282.10 L42.92,282.10 L42.92,281.39 L45.16,281.39 L45.16,281.99 L47.40,281.99 L47.40,282.02 L49.64,282.02 L49.64,281.92 L51.88,281.92 L51.88,281.68 L54.12,281.68 L54.12,282.07 L56.36,282.07 L56.36,282.32 L58.59,282.32 L58.59,282.02 L60.83,282.02 L60.83,281.76 L63.07,281.76 L63.07,281.97 L65.31,281.97 L65.31,281.81 L67.55,281.81 L67.55,282.10 L69.79,282.10 L69.79,281.85 L72.03,281.85 L72.03,282.14 L74.26,282.14 L74.26,281.68 L76.50,281.68 L76.50,281.61 L78.74,281.61 L78.74,282.35 L80.98,282.35 L80.98,282.06 L83.22,282.06 L83.22,282.10 L85.46,282.10 L85.46,282.10 L87.70,282.10 L87.70,282.18 L89.94,282.18 L89.94,281.92 L92.17,281.92 L92.17,281.62 L94.41,281.62 L94.41,281.53 L96.65,281.53 L96.65,281.98 L98.89,281.98 L98.89,281.86 L101.13,281.86 L101.13,281.54 L103.37,281.54 L103.37,281.64 L105.61,281.64 L105.61,282.07 L107.85,282.07 L107.85,281.99 L110.08,281.99 L110.08,281.88 L112.32,281.88 L112.32,279.28 L118.37,279.28 L118.37,281.09 L123.56,281.09 L123.56,271.69 L125.83,271.69 L125.83,281.06 L128.44,281.06 L128.44,281.35 L131.05,281.35 L131.05,281.15 L133.65,281.15 L133.65,273.98 L137.92,273.98 L137.92,277.48 L141.83,277.48 L141.83,272.05 L144.32,272.05 L144.32,240.72 L148.94,240.72 L148.94,270.85 L150.72,270.85 L150.72,278.68 L154.98,278.68 L154.98,281.38 L157.22,281.38 L157.22,281.64 L159.46,281.64 L159.46,281.63 L161.70,281.63 L161.70,281.49 L163.93,281.49 L163.93,281.53 L166.17,281.53 L166.17,281.68 L168.41,281.68 L168.41,281.60 L170.65,281.60 L170.65,281.51 L172.88,281.51 L172.88,281.63 L175.12,281.63 L175.12,281.35 L177.36,281.35 L177.36,282.02 L179.60,282.02 L179.60,281.31 L181.83,281.31 L181.83,281.22 L184.07,281.22 L184.07,281.31 L186.31,281.31 L186.31,282.01 L188.55,282.01 L188.55,281.63 L190.78,281.63 L190.78,281.45 L193.02,281.45" fill="none" stroke="#c02828" stroke-width="0.85"/><line x1="114.10" y1="286.5" x2="114.10" y2="163.3" stroke="#000" stroke-width="0.7" stroke-dasharray="4.4,2.6,0.6,2.46"/><line x1="29.4" y1="281.09" x2="193.0" y2="281.09" stroke="#000" stroke-width="0.7" stroke-dasharray="4.4,2.6,0.6,2.46"/></g>
<rect x="29.4" y="163.3" width="163.6" height="123.19999999999999" stroke="#7a7a7a" stroke-width="1" fill="none"/>
<path d="M32.33,286.5v-1.2M32.33,163.3v1.2M35.89,286.5v-1.2M35.89,163.3v1.2M39.44,286.5v-1.2M39.44,163.3v1.2M43.00,286.5v-2.5M43.00,163.3v2.5M46.55,286.5v-1.2M46.55,163.3v1.2M50.11,286.5v-1.2M50.11,163.3v1.2M53.66,286.5v-1.2M53.66,163.3v1.2M57.22,286.5v-1.2M57.22,163.3v1.2M60.77,286.5v-1.2M60.77,163.3v1.2M64.33,286.5v-1.2M64.33,163.3v1.2M67.88,286.5v-1.2M67.88,163.3v1.2M71.44,286.5v-1.2M71.44,163.3v1.2M75.00,286.5v-1.2M75.00,163.3v1.2M78.55,286.5v-2.5M78.55,163.3v2.5M82.10,286.5v-1.2M82.10,163.3v1.2M85.66,286.5v-1.2M85.66,163.3v1.2M89.21,286.5v-1.2M89.21,163.3v1.2M92.77,286.5v-1.2M92.77,163.3v1.2M96.32,286.5v-1.2M96.32,163.3v1.2M99.88,286.5v-1.2M99.88,163.3v1.2M103.44,286.5v-1.2M103.44,163.3v1.2M106.99,286.5v-1.2M106.99,163.3v1.2M110.54,286.5v-1.2M110.54,163.3v1.2M114.10,286.5v-2.5M114.10,163.3v2.5M117.66,286.5v-1.2M117.66,163.3v1.2M121.21,286.5v-1.2M121.21,163.3v1.2M124.76,286.5v-1.2M124.76,163.3v1.2M128.32,286.5v-1.2M128.32,163.3v1.2M131.88,286.5v-1.2M131.88,163.3v1.2M135.43,286.5v-1.2M135.43,163.3v1.2M138.98,286.5v-1.2M138.98,163.3v1.2M142.54,286.5v-1.2M142.54,163.3v1.2M146.09,286.5v-1.2M146.09,163.3v1.2M149.65,286.5v-2.5M149.65,163.3v2.5M153.20,286.5v-1.2M153.20,163.3v1.2M156.76,286.5v-1.2M156.76,163.3v1.2M160.31,286.5v-1.2M160.31,163.3v1.2M163.87,286.5v-1.2M163.87,163.3v1.2M167.43,286.5v-1.2M167.43,163.3v1.2M170.98,286.5v-1.2M170.98,163.3v1.2M174.53,286.5v-1.2M174.53,163.3v1.2M178.09,286.5v-1.2M178.09,163.3v1.2M181.64,286.5v-1.2M181.64,163.3v1.2M185.20,286.5v-2.5M185.20,163.3v2.5M188.75,286.5v-1.2M188.75,163.3v1.2M192.31,286.5v-1.2M192.31,163.3v1.2M29.4,282.90h3.2M193.0,282.90h-3.2M29.4,276.88h1.6M193.0,276.88h-1.6M29.4,270.85h1.6M193.0,270.85h-1.6M29.4,264.82h1.6M193.0,264.82h-1.6M29.4,258.80h3.2M193.0,258.80h-3.2M29.4,252.77h1.6M193.0,252.77h-1.6M29.4,246.75h1.6M193.0,246.75h-1.6M29.4,240.72h1.6M193.0,240.72h-1.6M29.4,234.70h3.2M193.0,234.70h-3.2M29.4,228.67h1.6M193.0,228.67h-1.6M29.4,222.65h1.6M193.0,222.65h-1.6M29.4,216.62h1.6M193.0,216.62h-1.6M29.4,210.60h3.2M193.0,210.60h-3.2M29.4,204.57h1.6M193.0,204.57h-1.6M29.4,198.55h1.6M193.0,198.55h-1.6M29.4,192.52h1.6M193.0,192.52h-1.6M29.4,186.50h3.2M193.0,186.50h-3.2M29.4,180.47h1.6M193.0,180.47h-1.6M29.4,174.45h1.6M193.0,174.45h-1.6M29.4,168.42h1.6M193.0,168.42h-1.6" stroke="#333" stroke-width="0.9" fill="none"/>
<g font-size="9.7"><text x="43.00" y="299.30" text-anchor="middle">-200</text><text x="78.55" y="299.30" text-anchor="middle">-100</text><text x="114.10" y="299.30" text-anchor="middle">0</text><text x="149.65" y="299.30" text-anchor="middle">100</text><text x="185.20" y="299.30" text-anchor="middle">200</text><text x="27.50" y="286.30" text-anchor="end">0</text><text x="27.50" y="262.20" text-anchor="end">2</text><text x="27.50" y="238.10" text-anchor="end">4</text><text x="27.50" y="214.00" text-anchor="end">6</text><text x="27.50" y="189.90" text-anchor="end">8</text></g>
<text x="111.20" y="309.20" text-anchor="middle" font-size="9.7">trigger time (s)</text>
<text transform="translate(15.60,224.90) rotate(-90)" text-anchor="middle" font-size="9.7">Counts/s</text>
<text x="116.0" y="185.10" font-size="9.5">GRB061222A</text>
<text x="116.0" y="193.10" font-size="9.5">1-s</text>
<clipPath id="cGRB080229A"><rect x="234.3" y="163.3" width="163.2" height="123.19999999999999"/></clipPath>
<g clip-path="url(#cGRB080229A)"><path d="M234.42,284.70 L235.02,284.99 L235.62,282.56 L236.22,284.92 L236.82,284.60 L237.42,283.31 L238.02,285.50 L238.62,285.22 L239.22,284.53 L239.82,284.99 L240.42,285.75 L241.02,284.88 L241.62,285.02 L242.22,284.17 L242.82,286.17 L243.42,285.32 L244.02,283.69 L244.62,283.07 L245.22,286.03 L245.82,284.13 L246.42,285.56 L247.02,285.45 L247.62,285.47 L248.22,285.07 L248.82,283.82 L249.42,284.07 L250.02,284.65 L250.62,285.02 L251.22,284.70 L251.82,284.79 L252.42,284.00 L253.02,285.26 L253.62,284.71 L254.22,284.79 L254.82,284.75 L255.42,284.48 L256.02,284.53 L256.62,283.53 L257.22,284.78 L257.82,283.33 L258.42,284.97 L259.02,285.12 L259.62,284.61 L260.22,284.39 L260.82,284.46 L261.42,283.56 L262.02,283.70 L262.62,284.26 L263.22,285.00 L263.82,284.79 L264.42,283.46 L265.02,284.51 L265.62,285.85 L266.22,285.31 L266.82,285.21 L267.42,283.69 L268.02,284.79 L268.62,282.71 L269.22,284.12 L269.82,284.59 L270.42,285.08 L271.02,283.84 L271.62,284.91 L272.22,285.43 L272.82,284.20 L273.42,284.69 L274.02,283.65 L274.62,284.76 L275.22,287.22 L275.82,284.01 L276.42,286.35 L277.02,283.35 L277.62,283.10 L278.22,285.08 L278.82,285.72 L279.42,285.93 L280.02,283.93 L280.62,284.88 L281.22,285.23 L281.82,284.91 L282.42,282.86 L283.02,284.39 L283.62,284.04 L284.22,284.02 L284.82,283.80 L285.42,283.77 L286.02,285.33 L286.62,284.89 L287.22,285.37 L287.82,285.33 L288.42,283.70 L289.02,285.14 L289.62,284.77 L290.22,285.31 L290.82,285.22 L291.42,284.01 L292.02,285.09 L292.62,285.12 L293.22,284.27 L293.82,284.26 L294.42,284.00 L295.02,284.55 L295.62,286.24 L296.22,284.15 L296.82,284.26 L297.42,283.80 L298.02,285.44 L298.62,282.48 L299.22,285.78 L299.82,284.06 L300.42,284.66 L301.02,285.13 L301.62,283.98 L302.22,284.95 L302.82,286.76 L303.42,285.73 L304.02,284.30 L304.62,282.73 L305.22,286.00 L305.82,284.71 L306.42,283.42 L307.02,284.17 L307.62,285.03 L308.22,285.95 L308.82,286.27 L309.42,285.36 L310.02,285.02 L310.62,286.68 L311.22,286.19 L311.82,284.43 L312.42,285.06 L313.02,285.36 L313.62,285.06 L314.22,285.42 L314.82,283.88 L315.42,283.26 L316.02,282.88 L316.62,284.08 L317.22,284.04 L317.82,283.41 L318.42,283.17 L319.02,283.41 L319.62,283.63 L320.22,285.26 L320.82,286.11 L321.42,283.93 L322.02,284.78 L322.62,284.75 L323.22,285.48 L323.82,285.84 L323.84,284.70 L324.42,277.35 L324.94,271.50 L325.02,270.15 L325.62,262.97 L325.67,262.70 L326.22,267.79 L326.39,272.38 L326.82,276.27 L327.42,278.91 L327.49,279.42 L328.02,279.56 L328.62,280.59 L328.95,281.18 L329.22,281.58 L329.82,280.47 L330.42,281.04 L331.02,279.89 L331.14,280.30 L331.62,279.40 L332.22,275.52 L332.24,275.90 L332.82,276.93 L333.33,280.30 L333.42,279.68 L334.02,278.56 L334.62,277.26 L334.79,276.78 L335.22,272.56 L335.82,270.17 L335.88,268.86 L336.42,266.12 L336.98,261.82 L337.02,261.27 L337.62,248.76 L337.71,245.10 L338.22,228.99 L338.29,227.50 L338.82,231.46 L339.17,230.14 L339.42,224.13 L340.02,208.40 L340.26,205.50 L340.62,219.66 L341.00,236.30 L341.22,237.47 L341.73,245.10 L341.82,249.01 L342.42,271.68 L342.45,274.14 L343.02,275.57 L343.62,279.09 L344.22,280.62 L344.28,280.30 L344.82,279.87 L345.42,279.73 L346.02,278.63 L346.11,279.42 L346.62,280.98 L347.20,282.06 L347.22,282.98 L347.82,283.54 L348.42,283.18 L349.02,282.47 L349.62,283.53 L350.22,283.90 L350.82,284.79 L350.85,283.82 L351.42,284.38 L352.02,284.79 L352.62,283.96 L353.22,284.58 L353.82,284.08 L354.42,282.71 L355.02,284.29 L355.62,283.95 L356.22,284.25 L356.82,284.10 L357.42,283.22 L358.02,283.49 L358.62,284.27 L359.22,284.80 L359.82,284.11 L360.42,283.27 L361.02,284.03 L361.62,284.14 L362.22,285.63 L362.82,283.17 L363.42,285.37 L364.02,285.20 L364.62,284.41 L365.22,284.06 L365.82,284.06 L366.42,284.79 L367.02,284.40 L367.62,284.67 L368.22,285.74 L368.82,284.39 L369.42,284.78 L370.02,283.81 L370.62,284.32 L371.22,283.36 L371.82,283.61 L372.42,283.44 L373.02,283.18 L373.62,283.64 L374.22,284.41 L374.82,283.08 L375.42,285.10 L376.02,284.33 L376.62,283.55 L377.22,284.57 L377.82,283.70 L378.42,285.05 L379.02,284.83 L379.62,283.89 L380.22,283.75 L380.82,283.34 L381.42,284.46 L382.02,284.15 L382.62,283.87 L383.22,284.02 L383.82,285.59 L384.42,284.96 L385.02,283.20 L385.62,285.57 L386.22,283.94 L386.82,284.88 L387.42,283.63 L388.02,285.21 L388.62,284.49 L389.22,286.33 L389.82,284.60 L390.42,283.63 L391.02,285.90 L391.62,283.55 L392.22,285.23 L392.82,284.66 L393.42,287.07 L394.02,283.69 L394.62,285.42 L395.22,285.14 L395.82,285.80 L396.42,285.56 L397.02,283.69 L397.20,284.70" fill="none" stroke="#000" stroke-width="0.75" stroke-linejoin="round"/><path d="M234.42,284.72 L236.65,284.72 L236.65,284.86 L238.89,284.86 L238.89,284.89 L241.13,284.89 L241.13,284.68 L243.37,284.68 L243.37,284.43 L245.61,284.43 L245.61,284.73 L247.85,284.73 L247.85,285.10 L250.09,285.10 L250.09,284.58 L252.33,284.58 L252.33,284.85 L254.57,284.85 L254.57,284.75 L256.81,284.75 L256.81,284.25 L259.05,284.25 L259.05,284.02 L261.29,284.02 L261.29,284.55 L263.53,284.55 L263.53,284.45 L265.76,284.45 L265.76,285.07 L268.00,285.07 L268.00,284.33 L270.24,284.33 L270.24,285.04 L272.48,285.04 L272.48,284.66 L274.72,284.66 L274.72,284.52 L276.96,284.52 L276.96,284.78 L279.20,284.78 L279.20,285.12 L281.44,285.12 L281.44,284.62 L283.68,284.62 L283.68,284.46 L285.92,284.46 L285.92,285.16 L288.16,285.16 L288.16,284.72 L290.40,284.72 L290.40,284.32 L292.64,284.32 L292.64,284.22 L294.88,284.22 L294.88,284.29 L297.11,284.29 L297.11,284.54 L299.35,284.54 L299.35,284.53 L301.59,284.53 L301.59,284.66 L303.83,284.66 L303.83,284.15 L306.07,284.15 L306.07,285.04 L308.31,285.04 L308.31,284.66 L310.55,284.66 L310.55,284.53 L312.79,284.53 L312.79,284.63 L315.03,284.63 L315.03,285.05 L317.27,285.05 L317.27,284.66 L319.51,284.66 L319.51,284.66 L321.75,284.66 L321.75,284.77 L323.99,284.77 L323.99,268.33 L326.69,268.33 L326.69,280.33 L329.46,280.33 L329.46,280.21 L332.24,280.21 L332.24,280.35 L335.01,280.35 L335.01,267.10 L337.35,267.10 L337.35,237.18 L342.31,237.18 L342.31,280.04 L346.69,280.04 L346.69,283.80 L348.99,283.80 L348.99,283.31 L351.28,283.31 L351.28,284.11 L353.58,284.11 L353.58,283.86 L355.87,283.86 L355.87,283.41 L358.17,283.41 L358.17,284.07 L360.47,284.07 L360.47,284.04 L362.76,284.04 L362.76,283.76 L365.06,283.76 L365.06,283.92 L367.35,283.92 L367.35,283.45 L369.65,283.45 L369.65,283.79 L371.95,283.79 L371.95,283.57 L374.24,283.57 L374.24,284.22 L376.54,284.22 L376.54,284.45 L378.84,284.45 L378.84,283.51 L381.13,283.51 L381.13,283.98 L383.43,283.98 L383.43,284.17 L385.72,284.17 L385.72,283.75 L388.02,283.75 L388.02,284.04 L390.32,284.04 L390.32,284.37 L392.61,284.37 L392.61,284.28 L394.91,284.28 L394.91,283.85 L397.20,283.85" fill="none" stroke="#c02828" stroke-width="0.85"/><line x1="325.30" y1="286.5" x2="325.30" y2="163.3" stroke="#000" stroke-width="0.7" stroke-dasharray="4.4,2.6,0.6,2.46"/><line x1="234.3" y1="283.82" x2="397.5" y2="283.82" stroke="#000" stroke-width="0.7" stroke-dasharray="4.4,2.6,0.6,2.46"/></g>
<rect x="234.3" y="163.3" width="163.2" height="123.19999999999999" stroke="#7a7a7a" stroke-width="1" fill="none"/>
<path d="M237.70,286.5v-1.2M237.70,163.3v1.2M241.35,286.5v-1.2M241.35,163.3v1.2M245.00,286.5v-1.2M245.00,163.3v1.2M248.65,286.5v-1.2M248.65,163.3v1.2M252.30,286.5v-2.5M252.30,163.3v2.5M255.95,286.5v-1.2M255.95,163.3v1.2M259.60,286.5v-1.2M259.60,163.3v1.2M263.25,286.5v-1.2M263.25,163.3v1.2M266.90,286.5v-1.2M266.90,163.3v1.2M270.55,286.5v-1.2M270.55,163.3v1.2M274.20,286.5v-1.2M274.20,163.3v1.2M277.85,286.5v-1.2M277.85,163.3v1.2M281.50,286.5v-1.2M281.50,163.3v1.2M285.15,286.5v-1.2M285.15,163.3v1.2M288.80,286.5v-2.5M288.80,163.3v2.5M292.45,286.5v-1.2M292.45,163.3v1.2M296.10,286.5v-1.2M296.10,163.3v1.2M299.75,286.5v-1.2M299.75,163.3v1.2M303.40,286.5v-1.2M303.40,163.3v1.2M307.05,286.5v-1.2M307.05,163.3v1.2M310.70,286.5v-1.2M310.70,163.3v1.2M314.35,286.5v-1.2M314.35,163.3v1.2M318.00,286.5v-1.2M318.00,163.3v1.2M321.65,286.5v-1.2M321.65,163.3v1.2M325.30,286.5v-2.5M325.30,163.3v2.5M328.95,286.5v-1.2M328.95,163.3v1.2M332.60,286.5v-1.2M332.60,163.3v1.2M336.25,286.5v-1.2M336.25,163.3v1.2M339.90,286.5v-1.2M339.90,163.3v1.2M343.55,286.5v-1.2M343.55,163.3v1.2M347.20,286.5v-1.2M347.20,163.3v1.2M350.85,286.5v-1.2M350.85,163.3v1.2M354.50,286.5v-1.2M354.50,163.3v1.2M358.15,286.5v-1.2M358.15,163.3v1.2M361.80,286.5v-2.5M361.80,163.3v2.5M365.45,286.5v-1.2M365.45,163.3v1.2M369.10,286.5v-1.2M369.10,163.3v1.2M372.75,286.5v-1.2M372.75,163.3v1.2M376.40,286.5v-1.2M376.40,163.3v1.2M380.05,286.5v-1.2M380.05,163.3v1.2M383.70,286.5v-1.2M383.70,163.3v1.2M387.35,286.5v-1.2M387.35,163.3v1.2M391.00,286.5v-1.2M391.00,163.3v1.2M394.65,286.5v-1.2M394.65,163.3v1.2M234.3,284.70h3.2M397.5,284.70h-3.2M234.3,280.30h1.6M397.5,280.30h-1.6M234.3,275.90h1.6M397.5,275.90h-1.6M234.3,271.50h1.6M397.5,271.50h-1.6M234.3,267.10h3.2M397.5,267.10h-3.2M234.3,262.70h1.6M397.5,262.70h-1.6M234.3,258.30h1.6M397.5,258.30h-1.6M234.3,253.90h1.6M397.5,253.90h-1.6M234.3,249.50h3.2M397.5,249.50h-3.2M234.3,245.10h1.6M397.5,245.10h-1.6M234.3,240.70h1.6M397.5,240.70h-1.6M234.3,236.30h1.6M397.5,236.30h-1.6M234.3,231.90h3.2M397.5,231.90h-3.2M234.3,227.50h1.6M397.5,227.50h-1.6M234.3,223.10h1.6M397.5,223.10h-1.6M234.3,218.70h1.6M397.5,218.70h-1.6M234.3,214.30h3.2M397.5,214.30h-3.2M234.3,209.90h1.6M397.5,209.90h-1.6M234.3,205.50h1.6M397.5,205.50h-1.6M234.3,201.10h1.6M397.5,201.10h-1.6M234.3,196.70h3.2M397.5,196.70h-3.2M234.3,192.30h1.6M397.5,192.30h-1.6M234.3,187.90h1.6M397.5,187.90h-1.6M234.3,183.50h1.6M397.5,183.50h-1.6M234.3,179.10h3.2M397.5,179.10h-3.2M234.3,174.70h1.6M397.5,174.70h-1.6M234.3,170.30h1.6M397.5,170.30h-1.6M234.3,165.90h1.6M397.5,165.90h-1.6" stroke="#333" stroke-width="0.9" fill="none"/>
<g font-size="9.7"><text x="252.30" y="299.30" text-anchor="middle">-200</text><text x="288.80" y="299.30" text-anchor="middle">-100</text><text x="325.30" y="299.30" text-anchor="middle">0</text><text x="361.80" y="299.30" text-anchor="middle">100</text><text x="398.30" y="299.30" text-anchor="middle">200</text><text x="232.40" y="288.10" text-anchor="end">0</text><text x="232.40" y="270.50" text-anchor="end">2</text><text x="232.40" y="252.90" text-anchor="end">4</text><text x="232.40" y="235.30" text-anchor="end">6</text><text x="232.40" y="217.70" text-anchor="end">8</text><text x="232.40" y="200.10" text-anchor="end">10</text><text x="232.40" y="182.50" text-anchor="end">12</text></g>
<text x="315.90" y="309.20" text-anchor="middle" font-size="9.7">trigger time (s)</text>
<text transform="translate(216.00,224.90) rotate(-90)" text-anchor="middle" font-size="9.7">Counts/s</text>
<text x="321.7" y="185.10" font-size="9.5">GRB080229A</text>
<text x="321.7" y="193.10" font-size="9.5">1-s</text>
<clipPath id="cGRB080928"><rect x="435.2" y="163.3" width="163.2" height="123.19999999999999"/></clipPath>
<g clip-path="url(#cGRB080928)"><path d="M435.20,280.09 L437.00,277.57 L438.80,279.23 L440.60,282.95 L442.40,288.25 L444.20,276.71 L446.00,275.93 L447.80,284.79 L449.60,274.09 L451.40,281.02 L453.20,270.62 L454.29,279.47 L455.00,276.62 L455.16,274.56 L456.80,274.18 L458.60,274.12 L460.40,274.30 L460.80,274.56 L462.10,278.24 L462.20,275.52 L464.00,277.27 L465.80,272.56 L467.60,283.47 L469.40,280.67 L471.20,276.53 L472.52,279.47 L473.00,274.15 L474.80,276.90 L476.60,279.79 L478.40,277.25 L480.20,280.91 L481.20,278.86 L482.00,273.33 L482.50,274.56 L483.80,272.34 L484.67,271.49 L485.60,276.10 L486.41,266.58 L487.40,272.70 L488.14,274.56 L489.20,269.88 L491.00,276.32 L492.80,277.20 L494.60,271.33 L496.40,274.99 L498.20,279.19 L500.00,270.44 L501.80,277.46 L503.60,276.46 L505.40,278.06 L507.20,273.35 L509.00,270.93 L509.41,274.56 L510.80,275.97 L511.58,278.86 L512.60,270.97 L514.40,273.78 L516.20,280.87 L518.00,277.07 L519.80,275.68 L521.60,277.42 L523.40,281.42 L525.20,279.41 L527.00,276.40 L528.80,277.36 L530.60,281.75 L532.40,277.35 L534.20,282.28 L536.00,286.06 L537.80,278.27 L539.60,275.65 L541.40,277.37 L543.20,273.90 L544.13,278.86 L545.00,275.95 L546.30,274.56 L546.80,271.21 L548.04,262.28 L548.60,249.20 L549.34,231.58 L550.40,212.37 L550.99,202.72 L551.94,250.00 L552.20,246.92 L553.68,246.93 L554.00,242.66 L555.67,237.72 L555.80,243.94 L556.72,259.21 L557.60,265.27 L559.32,269.65 L559.40,271.72 L561.20,272.86 L563.00,272.39 L563.66,273.33 L564.80,271.14 L566.60,273.81 L568.40,268.38 L570.20,274.15 L572.00,275.52 L572.34,274.56 L573.80,274.30 L575.60,274.86 L577.40,277.94 L579.20,282.48 L581.00,276.87 L581.02,276.40 L582.80,277.86 L584.60,279.88 L586.40,280.41 L588.20,278.55 L590.00,272.43 L591.80,276.65 L593.60,282.81 L595.40,275.25 L597.20,279.06 L598.38,277.63" fill="none" stroke="#000" stroke-width="0.75" stroke-linejoin="round"/><path d="M435.20,279.61 L437.64,279.61 L437.64,280.82 L440.08,280.82 L440.08,279.75 L442.52,279.75 L442.52,279.60 L444.96,279.60 L444.96,280.95 L447.40,280.95 L447.40,280.53 L449.84,280.53 L449.84,279.90 L452.28,279.90 L452.28,280.05 L454.73,280.05 L454.73,274.56 L460.80,274.56 L460.80,277.89 L463.15,277.89 L463.15,278.20 L465.49,278.20 L465.49,279.33 L467.83,279.33 L467.83,278.30 L470.18,278.30 L470.18,277.90 L472.52,277.90 L472.52,279.91 L474.80,279.91 L474.80,279.25 L477.08,279.25 L477.08,281.28 L479.36,281.28 L479.36,279.21 L481.63,279.21 L481.63,274.47 L483.87,274.47 L483.87,275.07 L486.11,275.07 L486.11,275.24 L488.34,275.24 L488.34,276.06 L490.58,276.06 L490.58,275.24 L492.82,275.24 L492.82,274.75 L495.05,274.75 L495.05,274.90 L497.29,274.90 L497.29,274.12 L499.53,274.12 L499.53,274.96 L501.76,274.96 L501.76,274.60 L504.00,274.60 L504.00,273.98 L506.24,273.98 L506.24,274.48 L508.48,274.48 L508.48,274.64 L510.71,274.64 L510.71,279.29 L512.94,279.29 L512.94,278.57 L515.17,278.57 L515.17,280.15 L517.40,280.15 L517.40,279.09 L519.62,279.09 L519.62,278.92 L521.85,278.92 L521.85,280.83 L524.08,280.83 L524.08,278.29 L526.31,278.29 L526.31,278.91 L528.53,278.91 L528.53,279.08 L530.76,279.08 L530.76,279.45 L532.99,279.45 L532.99,277.99 L535.22,277.99 L535.22,279.03 L537.45,279.03 L537.45,277.95 L539.67,277.95 L539.67,280.88 L541.90,280.88 L541.90,279.08 L544.13,279.08 L544.13,275.79 L548.30,275.79 L548.30,261.67 L550.64,261.67 L550.64,239.56 L556.72,239.56 L556.72,271.49 L563.23,271.49 L563.23,274.89 L565.48,274.89 L565.48,274.09 L567.74,274.09 L567.74,275.31 L570.00,275.31 L570.00,274.81 L572.25,274.81 L572.25,274.87 L574.51,274.87 L574.51,278.12 L576.90,278.12 L576.90,276.80 L579.28,276.80 L579.28,278.77 L581.67,278.77 L581.67,277.37 L584.06,277.37 L584.06,277.94 L586.44,277.94 L586.44,278.49 L588.83,278.49 L588.83,277.50 L591.22,277.50 L591.22,277.85 L593.61,277.85 L593.61,278.28 L595.99,278.28 L595.99,277.75 L598.38,277.75" fill="none" stroke="#c02828" stroke-width="0.85"/><line x1="459.50" y1="286.5" x2="459.50" y2="163.3" stroke="#000" stroke-width="0.7" stroke-dasharray="4.4,2.6,0.6,2.46"/><line x1="435.2" y1="275.48" x2="598.4" y2="275.48" stroke="#000" stroke-width="0.7" stroke-dasharray="4.4,2.6,0.6,2.46"/></g>
<rect x="435.2" y="163.3" width="163.2" height="123.19999999999999" stroke="#7a7a7a" stroke-width="1" fill="none"/>
<path d="M437.80,286.5v-1.2M437.80,163.3v1.2M442.14,286.5v-1.2M442.14,163.3v1.2M446.48,286.5v-1.2M446.48,163.3v1.2M450.82,286.5v-1.2M450.82,163.3v1.2M455.16,286.5v-1.2M455.16,163.3v1.2M459.50,286.5v-2.5M459.50,163.3v2.5M463.84,286.5v-1.2M463.84,163.3v1.2M468.18,286.5v-1.2M468.18,163.3v1.2M472.52,286.5v-1.2M472.52,163.3v1.2M476.86,286.5v-1.2M476.86,163.3v1.2M481.20,286.5v-1.2M481.20,163.3v1.2M485.54,286.5v-1.2M485.54,163.3v1.2M489.88,286.5v-1.2M489.88,163.3v1.2M494.22,286.5v-1.2M494.22,163.3v1.2M498.56,286.5v-1.2M498.56,163.3v1.2M502.90,286.5v-2.5M502.90,163.3v2.5M507.24,286.5v-1.2M507.24,163.3v1.2M511.58,286.5v-1.2M511.58,163.3v1.2M515.92,286.5v-1.2M515.92,163.3v1.2M520.26,286.5v-1.2M520.26,163.3v1.2M524.60,286.5v-1.2M524.60,163.3v1.2M528.94,286.5v-1.2M528.94,163.3v1.2M533.28,286.5v-1.2M533.28,163.3v1.2M537.62,286.5v-1.2M537.62,163.3v1.2M541.96,286.5v-1.2M541.96,163.3v1.2M546.30,286.5v-2.5M546.30,163.3v2.5M550.64,286.5v-1.2M550.64,163.3v1.2M554.98,286.5v-1.2M554.98,163.3v1.2M559.32,286.5v-1.2M559.32,163.3v1.2M563.66,286.5v-1.2M563.66,163.3v1.2M568.00,286.5v-1.2M568.00,163.3v1.2M572.34,286.5v-1.2M572.34,163.3v1.2M576.68,286.5v-1.2M576.68,163.3v1.2M581.02,286.5v-1.2M581.02,163.3v1.2M585.36,286.5v-1.2M585.36,163.3v1.2M589.70,286.5v-2.5M589.70,163.3v2.5M594.04,286.5v-1.2M594.04,163.3v1.2M598.38,286.5v-1.2M598.38,163.3v1.2M435.2,280.70h3.2M598.4,280.70h-3.2M435.2,274.56h1.6M598.4,274.56h-1.6M435.2,268.42h1.6M598.4,268.42h-1.6M435.2,262.28h1.6M598.4,262.28h-1.6M435.2,256.14h1.6M598.4,256.14h-1.6M435.2,250.00h3.2M598.4,250.00h-3.2M435.2,243.86h1.6M598.4,243.86h-1.6M435.2,237.72h1.6M598.4,237.72h-1.6M435.2,231.58h1.6M598.4,231.58h-1.6M435.2,225.44h1.6M598.4,225.44h-1.6M435.2,219.30h3.2M598.4,219.30h-3.2M435.2,213.16h1.6M598.4,213.16h-1.6M435.2,207.02h1.6M598.4,207.02h-1.6M435.2,200.88h1.6M598.4,200.88h-1.6M435.2,194.74h1.6M598.4,194.74h-1.6M435.2,188.60h3.2M598.4,188.60h-3.2M435.2,182.46h1.6M598.4,182.46h-1.6M435.2,176.32h1.6M598.4,176.32h-1.6M435.2,170.18h1.6M598.4,170.18h-1.6M435.2,164.04h1.6M598.4,164.04h-1.6" stroke="#333" stroke-width="0.9" fill="none"/>
<g font-size="9.7"><text x="459.50" y="299.30" text-anchor="middle">0</text><text x="502.90" y="299.30" text-anchor="middle">100</text><text x="546.30" y="299.30" text-anchor="middle">200</text><text x="589.70" y="299.30" text-anchor="middle">300</text><text x="433.30" y="284.10" text-anchor="end">0.0</text><text x="433.30" y="253.40" text-anchor="end">0.5</text><text x="433.30" y="222.70" text-anchor="end">1.0</text><text x="433.30" y="192.00" text-anchor="end">1.5</text></g>
<text x="516.80" y="309.20" text-anchor="middle" font-size="9.7">trigger time (s)</text>
<text transform="translate(414.70,224.90) rotate(-90)" text-anchor="middle" font-size="9.7">Counts/s</text>
<text x="521.7" y="185.10" font-size="9.5">GRB080928</text>
<text x="521.7" y="193.10" font-size="9.5">2-s</text>
<clipPath id="cGRB081221"><rect x="29.4" y="325.7" width="163.6" height="123.60000000000002"/></clipPath>
<g clip-path="url(#cGRB081221)"><path d="M29.40,446.00 L30.00,446.33 L30.60,445.98 L31.20,445.71 L31.80,446.56 L32.40,446.00 L33.00,446.00 L33.60,447.24 L34.20,445.28 L34.80,445.57 L35.40,446.44 L36.00,446.12 L36.60,445.64 L37.20,446.19 L37.80,446.17 L38.40,447.03 L39.00,445.61 L39.60,445.91 L40.20,445.81 L40.80,447.08 L41.40,444.83 L42.00,445.89 L42.60,446.27 L43.20,444.56 L43.80,446.03 L44.40,447.03 L45.00,446.29 L45.60,447.62 L46.20,445.26 L46.80,446.29 L47.40,446.53 L48.00,445.24 L48.60,447.17 L49.20,445.62 L49.80,447.46 L50.40,446.47 L51.00,446.85 L51.60,444.96 L52.20,444.75 L52.80,446.23 L53.40,445.40 L54.00,446.13 L54.60,445.60 L55.20,446.53 L55.80,447.21 L56.40,447.28 L57.00,445.73 L57.60,444.41 L58.20,445.81 L58.80,446.37 L59.40,444.65 L60.00,445.83 L60.60,445.93 L61.20,445.82 L61.80,446.09 L62.40,446.22 L63.00,447.02 L63.60,445.64 L64.20,446.07 L64.80,445.16 L65.40,446.26 L66.00,447.35 L66.60,446.07 L67.20,444.80 L67.80,446.27 L68.40,446.63 L69.00,446.85 L69.60,446.74 L70.20,446.21 L70.80,446.84 L71.40,444.94 L72.00,446.20 L72.60,445.92 L73.20,444.98 L73.80,444.94 L74.40,446.15 L75.00,445.76 L75.60,445.48 L76.20,446.14 L76.80,447.26 L77.40,445.54 L78.00,445.37 L78.60,445.71 L79.20,446.65 L79.80,446.14 L80.40,446.42 L81.00,446.21 L81.60,445.08 L82.20,444.92 L82.80,445.53 L83.40,445.61 L84.00,445.52 L84.60,446.01 L85.20,446.05 L85.80,446.48 L86.40,446.04 L87.00,444.40 L87.60,445.38 L88.20,446.24 L88.80,446.33 L89.40,446.61 L90.00,445.73 L90.60,445.72 L91.20,447.02 L91.80,445.66 L92.40,446.40 L93.00,444.99 L93.60,445.89 L94.20,444.78 L94.80,446.32 L95.40,446.20 L96.00,445.79 L96.60,445.25 L97.20,445.60 L97.80,446.87 L98.40,445.87 L99.00,445.98 L99.60,446.30 L100.20,446.46 L100.80,444.76 L101.40,446.28 L102.00,446.60 L102.60,445.55 L103.20,445.91 L103.80,446.05 L104.40,445.45 L105.00,445.65 L105.60,445.74 L106.20,445.32 L106.80,445.80 L107.40,446.44 L108.00,446.26 L108.60,446.37 L109.20,445.85 L109.80,446.76 L110.38,446.00 L110.40,445.78 L111.00,441.62 L111.20,438.92 L111.60,434.92 L112.20,430.26 L112.35,428.30 L112.80,431.73 L113.24,434.20 L113.40,435.36 L114.00,435.47 L114.60,435.97 L115.20,437.09 L115.29,436.56 L115.80,437.15 L116.40,435.27 L117.00,436.00 L117.33,434.20 L117.60,431.07 L118.20,424.87 L118.56,422.40 L118.80,415.68 L119.38,392.90 L119.40,390.47 L120.00,381.08 L120.60,375.67 L121.02,366.94 L121.20,364.99 L121.80,380.93 L121.83,378.15 L122.40,373.02 L123.00,374.30 L123.35,371.07 L123.60,376.97 L124.20,384.48 L124.29,384.05 L124.80,392.95 L125.11,398.80 L125.40,405.98 L125.92,422.40 L126.00,423.19 L126.60,427.40 L127.15,433.02 L127.20,434.26 L127.80,434.75 L128.40,437.70 L129.00,439.14 L129.20,440.10 L129.60,439.80 L130.20,441.46 L130.80,443.74 L131.40,444.26 L131.65,443.64 L132.00,443.98 L132.60,443.24 L133.20,444.12 L133.80,445.10 L134.40,444.06 L135.00,445.66 L135.60,446.80 L135.74,445.41 L136.20,446.77 L136.80,444.97 L137.40,444.76 L138.00,445.33 L138.60,446.63 L139.20,444.73 L139.80,446.47 L140.40,446.41 L141.00,445.72 L141.60,444.91 L142.20,445.26 L142.80,444.91 L143.40,445.80 L144.00,445.62 L144.60,446.31 L145.20,445.73 L145.80,445.09 L146.40,445.73 L147.00,445.19 L147.60,445.94 L148.20,445.96 L148.80,445.52 L149.40,445.69 L150.00,445.14 L150.60,445.44 L151.20,444.34 L151.80,445.73 L152.40,445.74 L153.00,446.32 L153.60,445.58 L154.20,445.12 L154.80,446.13 L155.40,445.65 L156.00,445.11 L156.60,445.71 L157.20,446.00 L157.80,444.95 L158.40,445.57 L159.00,445.37 L159.60,444.83 L160.20,444.85 L160.80,445.91 L161.40,446.05 L162.00,445.48 L162.60,445.78 L163.20,447.04 L163.80,444.80 L164.40,445.69 L165.00,445.19 L165.60,446.55 L166.20,444.81 L166.80,446.15 L167.40,445.81 L168.00,446.73 L168.60,445.87 L169.20,445.92 L169.80,445.89 L170.40,445.46 L171.00,445.73 L171.60,445.09 L172.20,446.12 L172.80,446.50 L173.40,445.81 L174.00,445.36 L174.60,444.93 L175.20,445.24 L175.80,447.07 L176.40,445.56 L177.00,444.80 L177.60,445.80 L178.20,446.21 L178.80,445.63 L179.40,446.22 L180.00,445.41 L180.60,445.88 L181.20,444.89 L181.80,445.53 L182.40,446.40 L183.00,445.47 L183.60,445.24 L184.20,446.31 L184.80,446.22 L185.40,447.55 L186.00,445.29 L186.60,446.35 L187.20,447.44 L187.80,447.20 L188.40,446.11 L189.00,445.42 L189.60,446.03 L190.20,445.64 L190.80,446.76 L191.40,446.93 L192.00,445.36 L192.60,445.65 L193.00,446.00" fill="none" stroke="#000" stroke-width="0.75" stroke-linejoin="round"/><path d="M29.40,445.97 L31.61,445.97 L31.61,446.14 L33.82,446.14 L33.82,446.31 L36.03,446.31 L36.03,445.93 L38.24,445.93 L38.24,446.20 L40.45,446.20 L40.45,446.09 L42.66,446.09 L42.66,446.07 L44.88,446.07 L44.88,446.02 L47.09,446.02 L47.09,445.88 L49.30,445.88 L49.30,446.31 L51.51,446.31 L51.51,446.19 L53.72,446.19 L53.72,445.87 L55.93,445.87 L55.93,446.31 L58.14,446.31 L58.14,446.00 L60.35,446.00 L60.35,445.88 L62.56,445.88 L62.56,445.89 L64.77,445.89 L64.77,445.98 L66.98,445.98 L66.98,446.18 L69.19,446.18 L69.19,446.02 L71.41,446.02 L71.41,446.18 L73.62,446.18 L73.62,446.05 L75.83,446.05 L75.83,446.51 L78.04,446.51 L78.04,446.36 L80.25,446.36 L80.25,446.04 L82.46,446.04 L82.46,445.83 L84.67,445.83 L84.67,446.03 L86.88,446.03 L86.88,445.80 L89.09,445.80 L89.09,445.99 L91.30,445.99 L91.30,445.49 L93.51,445.49 L93.51,445.85 L95.72,445.85 L95.72,445.74 L97.94,445.74 L97.94,446.24 L100.15,446.24 L100.15,445.61 L102.36,445.61 L102.36,445.91 L104.57,445.91 L104.57,445.89 L106.78,445.89 L106.78,446.06 L108.99,446.06 L108.99,445.97 L111.20,445.97 L111.20,434.39 L113.79,434.39 L113.79,434.05 L116.38,434.05 L116.38,434.31 L118.97,434.31 L118.97,386.41 L125.35,386.41 L125.35,425.94 L126.66,425.94 L126.66,440.10 L129.60,440.10 L129.60,443.94 L135.74,443.94 L135.74,445.98 L137.94,445.98 L137.94,446.10 L140.14,446.10 L140.14,446.17 L142.35,446.17 L142.35,446.06 L144.55,446.06 L144.55,445.71 L146.75,445.71 L146.75,446.06 L148.95,446.06 L148.95,446.34 L151.16,446.34 L151.16,445.95 L153.36,445.95 L153.36,446.28 L155.56,446.28 L155.56,446.33 L157.76,446.33 L157.76,446.09 L159.97,446.09 L159.97,446.22 L162.17,446.22 L162.17,446.01 L164.37,446.01 L164.37,446.15 L166.57,446.15 L166.57,446.24 L168.77,446.24 L168.77,445.91 L170.98,445.91 L170.98,446.13 L173.18,446.13 L173.18,446.04 L175.38,446.04 L175.38,445.70 L177.58,445.70 L177.58,445.98 L179.79,445.98 L179.79,445.81 L181.99,445.81 L181.99,446.13 L184.19,446.13 L184.19,445.91 L186.39,445.91 L186.39,445.95 L188.60,445.95 L188.60,445.72 L190.80,445.72 L190.80,446.05 L193.00,446.05" fill="none" stroke="#c02828" stroke-width="0.85"/><line x1="111.20" y1="449.3" x2="111.20" y2="325.7" stroke="#000" stroke-width="0.7" stroke-dasharray="4.4,2.6,0.6,2.46"/><line x1="29.4" y1="444.23" x2="193.0" y2="444.23" stroke="#000" stroke-width="0.7" stroke-dasharray="4.4,2.6,0.6,2.46"/></g>
<rect x="29.4" y="325.7" width="163.6" height="123.60000000000002" stroke="#7a7a7a" stroke-width="1" fill="none"/>
<path d="M29.40,449.3v-2.5M29.40,325.7v2.5M33.49,449.3v-1.2M33.49,325.7v1.2M37.58,449.3v-1.2M37.58,325.7v1.2M41.67,449.3v-1.2M41.67,325.7v1.2M45.76,449.3v-1.2M45.76,325.7v1.2M49.85,449.3v-1.2M49.85,325.7v1.2M53.94,449.3v-1.2M53.94,325.7v1.2M58.03,449.3v-1.2M58.03,325.7v1.2M62.12,449.3v-1.2M62.12,325.7v1.2M66.21,449.3v-1.2M66.21,325.7v1.2M70.30,449.3v-2.5M70.30,325.7v2.5M74.39,449.3v-1.2M74.39,325.7v1.2M78.48,449.3v-1.2M78.48,325.7v1.2M82.57,449.3v-1.2M82.57,325.7v1.2M86.66,449.3v-1.2M86.66,325.7v1.2M90.75,449.3v-1.2M90.75,325.7v1.2M94.84,449.3v-1.2M94.84,325.7v1.2M98.93,449.3v-1.2M98.93,325.7v1.2M103.02,449.3v-1.2M103.02,325.7v1.2M107.11,449.3v-1.2M107.11,325.7v1.2M111.20,449.3v-2.5M111.20,325.7v2.5M115.29,449.3v-1.2M115.29,325.7v1.2M119.38,449.3v-1.2M119.38,325.7v1.2M123.47,449.3v-1.2M123.47,325.7v1.2M127.56,449.3v-1.2M127.56,325.7v1.2M131.65,449.3v-1.2M131.65,325.7v1.2M135.74,449.3v-1.2M135.74,325.7v1.2M139.83,449.3v-1.2M139.83,325.7v1.2M143.92,449.3v-1.2M143.92,325.7v1.2M148.01,449.3v-1.2M148.01,325.7v1.2M152.10,449.3v-2.5M152.10,325.7v2.5M156.19,449.3v-1.2M156.19,325.7v1.2M160.28,449.3v-1.2M160.28,325.7v1.2M164.37,449.3v-1.2M164.37,325.7v1.2M168.46,449.3v-1.2M168.46,325.7v1.2M172.55,449.3v-1.2M172.55,325.7v1.2M176.64,449.3v-1.2M176.64,325.7v1.2M180.73,449.3v-1.2M180.73,325.7v1.2M184.82,449.3v-1.2M184.82,325.7v1.2M188.91,449.3v-1.2M188.91,325.7v1.2M193.00,449.3v-2.5M193.00,325.7v2.5M29.4,446.00h3.2M193.0,446.00h-3.2M29.4,440.10h1.6M193.0,440.10h-1.6M29.4,434.20h1.6M193.0,434.20h-1.6M29.4,428.30h1.6M193.0,428.30h-1.6M29.4,422.40h1.6M193.0,422.40h-1.6M29.4,416.50h3.2M193.0,416.50h-3.2M29.4,410.60h1.6M193.0,410.60h-1.6M29.4,404.70h1.6M193.0,404.70h-1.6M29.4,398.80h1.6M193.0,398.80h-1.6M29.4,392.90h1.6M193.0,392.90h-1.6M29.4,387.00h3.2M193.0,387.00h-3.2M29.4,381.10h1.6M193.0,381.10h-1.6M29.4,375.20h1.6M193.0,375.20h-1.6M29.4,369.30h1.6M193.0,369.30h-1.6M29.4,363.40h1.6M193.0,363.40h-1.6M29.4,357.50h3.2M193.0,357.50h-3.2M29.4,351.60h1.6M193.0,351.60h-1.6M29.4,345.70h1.6M193.0,345.70h-1.6M29.4,339.80h1.6M193.0,339.80h-1.6M29.4,333.90h1.6M193.0,333.90h-1.6M29.4,328.00h3.2M193.0,328.00h-3.2" stroke="#333" stroke-width="0.9" fill="none"/>
<g font-size="9.7"><text x="29.40" y="462.10" text-anchor="middle">-200</text><text x="70.30" y="462.10" text-anchor="middle">-100</text><text x="111.20" y="462.10" text-anchor="middle">0</text><text x="152.10" y="462.10" text-anchor="middle">100</text><text x="193.00" y="462.10" text-anchor="middle">200</text><text x="27.50" y="449.40" text-anchor="end">0</text><text x="27.50" y="419.90" text-anchor="end">5</text><text x="27.50" y="390.40" text-anchor="end">10</text><text x="27.50" y="360.90" text-anchor="end">15</text><text x="27.50" y="331.40" text-anchor="end">20</text></g>
<text x="111.20" y="472.00" text-anchor="middle" font-size="9.7">trigger time (s)</text>
<text transform="translate(10.60,387.50) rotate(-90)" text-anchor="middle" font-size="9.7">Counts/s</text>
<text x="116.7" y="348.40" font-size="9.5">GRB081221</text>
<text x="116.7" y="356.40" font-size="9.5">1-s</text>
<clipPath id="cGRB090401A"><rect x="234.3" y="325.7" width="163.2" height="123.60000000000002"/></clipPath>
<g clip-path="url(#cGRB090401A)"><path d="M272.54,445.49 L273.84,444.23 L275.14,446.48 L275.33,444.78 L276.44,445.54 L277.66,442.24 L277.74,440.83 L279.04,441.85 L280.00,444.78 L280.34,444.10 L281.64,446.49 L282.94,444.43 L283.26,446.19 L284.24,446.90 L285.54,446.85 L286.84,447.40 L287.92,446.90 L288.14,446.99 L289.44,446.26 L290.74,445.80 L292.04,443.89 L292.59,444.78 L293.34,443.93 L294.64,441.69 L294.92,441.68 L295.94,444.06 L297.24,445.71 L297.25,446.19 L298.54,446.44 L299.84,447.54 L301.14,446.14 L301.91,447.60 L302.44,447.47 L303.74,447.08 L305.04,447.02 L306.34,447.17 L307.64,446.04 L308.91,446.19 L308.94,446.61 L310.24,446.39 L311.54,446.70 L312.84,445.69 L314.14,445.50 L315.44,445.42 L316.74,445.48 L318.04,444.74 L319.34,443.62 L320.64,444.07 L321.94,447.45 L321.96,444.78 L323.24,441.29 L324.54,436.06 L324.76,433.50 L325.84,426.82 L326.62,419.40 L327.14,417.00 L328.44,414.99 L328.96,412.35 L329.74,416.65 L330.35,420.81 L331.04,423.45 L331.75,426.45 L332.34,430.62 L333.15,437.73 L333.64,434.12 L334.55,426.45 L334.94,421.41 L336.24,406.18 L336.70,396.84 L337.54,408.25 L338.28,417.99 L338.84,408.59 L339.21,405.30 L340.14,378.82 L340.61,365.82 L341.44,386.46 L342.01,396.84 L342.74,415.34 L343.41,433.50 L344.04,435.96 L345.28,443.37 L345.34,444.20 L346.64,443.71 L347.94,444.28 L349.24,444.45 L350.54,444.86 L351.84,445.02 L353.14,447.09 L354.44,446.52 L355.53,446.90 L355.74,446.48 L357.04,448.02 L358.34,448.75 L359.64,447.26 L360.94,444.74 L362.24,445.92 L363.54,446.82 L364.84,444.79 L366.14,447.06 L367.44,447.05 L368.74,446.17 L370.04,446.63 L371.34,446.96 L372.64,447.29 L373.94,446.95 L375.24,446.00 L376.54,448.00 L377.84,447.46 L379.14,445.76 L380.44,444.75 L381.74,448.45 L383.04,446.55 L384.34,445.51 L385.64,447.08 L386.94,447.38 L388.24,445.84 L389.54,447.36 L390.84,447.51 L392.14,447.38 L393.44,448.07 L394.74,448.92 L396.04,445.92 L397.34,445.47 L397.50,446.90" fill="none" stroke="#000" stroke-width="0.75" stroke-linejoin="round"/><path d="M234.30,447.18 L272.54,447.18 L272.54,445.28 L274.75,445.28 L274.75,445.15 L276.96,445.15 L276.96,444.92 L279.16,444.92 L279.16,444.91 L281.37,444.91 L281.37,445.35 L283.58,445.35 L283.58,445.17 L285.79,445.17 L285.79,445.33 L288.00,445.33 L288.00,445.70 L290.21,445.70 L290.21,445.18 L292.42,445.18 L292.42,444.97 L294.63,444.97 L294.63,444.87 L296.84,444.87 L296.84,445.01 L299.05,445.01 L299.05,445.34 L301.26,445.34 L301.26,445.28 L303.47,445.28 L303.47,445.43 L305.68,445.43 L305.68,445.10 L307.89,445.10 L307.89,445.49 L310.10,445.49 L310.10,445.06 L312.31,445.06 L312.31,444.83 L314.52,444.83 L314.52,444.89 L316.73,444.89 L316.73,445.15 L318.94,445.15 L318.94,444.74 L321.15,444.74 L321.15,445.18 L323.36,445.18 L323.36,439.14 L324.76,439.14 L324.76,415.33 L327.09,415.33 L327.09,415.22 L329.42,415.22 L329.42,415.35 L331.75,415.35 L331.75,415.34 L334.09,415.34 L334.09,415.06 L336.42,415.06 L336.42,415.12 L338.75,415.12 L338.75,415.34 L341.08,415.34 L341.08,415.21 L343.41,415.21 L343.41,446.07 L345.82,446.07 L345.82,446.55 L348.23,446.55 L348.23,446.18 L350.64,446.18 L350.64,446.43 L353.05,446.43 L353.05,446.19 L355.46,446.19 L355.46,446.15 L357.87,446.15 L357.87,447.27 L360.07,447.27 L360.07,447.48 L362.27,447.48 L362.27,447.44 L364.47,447.44 L364.47,447.39 L366.67,447.39 L366.67,446.98 L368.88,446.98 L368.88,446.97 L371.08,446.97 L371.08,447.54 L373.28,447.54 L373.28,446.98 L375.48,446.98 L375.48,447.01 L377.68,447.01 L377.68,446.89 L379.88,446.89 L379.88,447.21 L382.09,447.21 L382.09,447.02 L384.29,447.02 L384.29,446.99 L386.49,446.99 L386.49,447.39 L388.69,447.39 L388.69,447.39 L390.89,447.39 L390.89,447.37 L393.10,447.37 L393.10,447.58 L395.30,447.58 L395.30,447.36 L397.50,447.36" fill="none" stroke="#c02828" stroke-width="0.85"/><line x1="280.93" y1="449.3" x2="280.93" y2="325.7" stroke="#000" stroke-width="0.7" stroke-dasharray="4.4,2.6,0.6,2.46"/><line x1="234.3" y1="445.06" x2="397.5" y2="445.06" stroke="#000" stroke-width="0.7" stroke-dasharray="4.4,2.6,0.6,2.46"/></g>
<rect x="234.3" y="325.7" width="163.2" height="123.60000000000002" stroke="#7a7a7a" stroke-width="1" fill="none"/>
<path d="M234.30,449.3v-2.5M234.30,325.7v2.5M238.96,449.3v-1.2M238.96,325.7v1.2M243.63,449.3v-1.2M243.63,325.7v1.2M248.29,449.3v-1.2M248.29,325.7v1.2M252.95,449.3v-1.2M252.95,325.7v1.2M257.61,449.3v-2.5M257.61,325.7v2.5M262.28,449.3v-1.2M262.28,325.7v1.2M266.94,449.3v-1.2M266.94,325.7v1.2M271.60,449.3v-1.2M271.60,325.7v1.2M276.27,449.3v-1.2M276.27,325.7v1.2M280.93,449.3v-2.5M280.93,325.7v2.5M285.59,449.3v-1.2M285.59,325.7v1.2M290.25,449.3v-1.2M290.25,325.7v1.2M294.92,449.3v-1.2M294.92,325.7v1.2M299.58,449.3v-1.2M299.58,325.7v1.2M304.24,449.3v-2.5M304.24,325.7v2.5M308.91,449.3v-1.2M308.91,325.7v1.2M313.57,449.3v-1.2M313.57,325.7v1.2M318.23,449.3v-1.2M318.23,325.7v1.2M322.89,449.3v-1.2M322.89,325.7v1.2M327.56,449.3v-2.5M327.56,325.7v2.5M332.22,449.3v-1.2M332.22,325.7v1.2M336.88,449.3v-1.2M336.88,325.7v1.2M341.55,449.3v-1.2M341.55,325.7v1.2M346.21,449.3v-1.2M346.21,325.7v1.2M350.87,449.3v-2.5M350.87,325.7v2.5M355.53,449.3v-1.2M355.53,325.7v1.2M360.20,449.3v-1.2M360.20,325.7v1.2M364.86,449.3v-1.2M364.86,325.7v1.2M369.52,449.3v-1.2M369.52,325.7v1.2M374.19,449.3v-2.5M374.19,325.7v2.5M378.85,449.3v-1.2M378.85,325.7v1.2M383.51,449.3v-1.2M383.51,325.7v1.2M388.17,449.3v-1.2M388.17,325.7v1.2M392.84,449.3v-1.2M392.84,325.7v1.2M397.50,449.3v-2.5M397.50,325.7v2.5M234.3,447.60h3.2M397.5,447.60h-3.2M234.3,440.55h1.6M397.5,440.55h-1.6M234.3,433.50h1.6M397.5,433.50h-1.6M234.3,426.45h1.6M397.5,426.45h-1.6M234.3,419.40h3.2M397.5,419.40h-3.2M234.3,412.35h1.6M397.5,412.35h-1.6M234.3,405.30h1.6M397.5,405.30h-1.6M234.3,398.25h1.6M397.5,398.25h-1.6M234.3,391.20h3.2M397.5,391.20h-3.2M234.3,384.15h1.6M397.5,384.15h-1.6M234.3,377.10h1.6M397.5,377.10h-1.6M234.3,370.05h1.6M397.5,370.05h-1.6M234.3,363.00h3.2M397.5,363.00h-3.2M234.3,355.95h1.6M397.5,355.95h-1.6M234.3,348.90h1.6M397.5,348.90h-1.6M234.3,341.85h1.6M397.5,341.85h-1.6M234.3,334.80h3.2M397.5,334.80h-3.2M234.3,327.75h1.6M397.5,327.75h-1.6" stroke="#333" stroke-width="0.9" fill="none"/>
<g font-size="9.7"><text x="234.30" y="462.10" text-anchor="middle">-100</text><text x="257.61" y="462.10" text-anchor="middle">-50</text><text x="280.93" y="462.10" text-anchor="middle">0</text><text x="304.24" y="462.10" text-anchor="middle">50</text><text x="327.56" y="462.10" text-anchor="middle">100</text><text x="350.87" y="462.10" text-anchor="middle">150</text><text x="374.19" y="462.10" text-anchor="middle">200</text><text x="397.50" y="462.10" text-anchor="middle">250</text><text x="232.40" y="451.00" text-anchor="end">0</text><text x="232.40" y="422.80" text-anchor="end">2</text><text x="232.40" y="394.60" text-anchor="end">4</text><text x="232.40" y="366.40" text-anchor="end">6</text><text x="232.40" y="338.20" text-anchor="end">8</text></g>
<text x="315.90" y="472.00" text-anchor="middle" font-size="9.7">trigger time (s)</text>
<text transform="translate(220.10,387.50) rotate(-90)" text-anchor="middle" font-size="9.7">Counts/s</text>
<text x="321.7" y="348.40" font-size="9.5">GRB090401A</text>
<text x="321.7" y="356.40" font-size="9.5">2-s</text>
<clipPath id="cGRB090618"><rect x="435.2" y="325.7" width="163.2" height="123.60000000000002"/></clipPath>
<g clip-path="url(#cGRB090618)"><path d="M435.12,448.20 L435.73,448.32 L436.33,448.65 L436.93,448.21 L437.53,448.35 L438.13,448.39 L438.73,448.81 L439.33,448.40 L439.93,448.30 L440.53,448.46 L441.13,447.94 L441.73,447.50 L442.33,448.08 L442.93,447.91 L443.53,447.46 L444.13,448.03 L444.73,447.58 L445.33,448.56 L445.93,448.26 L446.53,447.67 L447.13,447.93 L447.73,448.19 L448.33,447.83 L448.93,448.05 L449.53,447.99 L450.13,448.34 L450.73,448.12 L451.33,448.07 L451.93,448.40 L452.53,449.05 L453.13,448.23 L453.73,447.21 L454.33,449.28 L454.93,448.57 L455.53,448.29 L456.13,448.09 L456.73,447.74 L457.33,447.78 L457.93,447.67 L458.53,447.64 L459.13,448.47 L459.73,448.22 L460.33,448.40 L460.93,448.02 L461.53,448.35 L462.13,448.57 L462.73,447.42 L463.33,448.26 L463.93,448.46 L464.53,447.87 L465.13,448.69 L465.73,448.40 L466.33,448.48 L466.93,449.00 L467.53,449.28 L468.13,448.22 L468.73,448.47 L469.33,448.47 L469.93,447.89 L470.53,448.56 L471.13,447.51 L471.73,448.89 L472.33,449.33 L472.93,448.29 L473.53,448.04 L474.13,447.53 L474.73,448.40 L475.33,448.35 L475.93,448.27 L476.53,447.22 L477.13,448.93 L477.73,448.06 L478.33,448.21 L478.93,448.59 L479.53,448.36 L480.13,448.16 L480.73,448.55 L481.33,448.20 L481.93,447.93 L482.53,447.90 L483.13,448.39 L483.73,448.31 L484.33,448.19 L484.93,447.86 L485.53,448.13 L486.13,447.71 L486.73,448.00 L487.33,448.84 L487.93,447.79 L488.53,448.46 L489.13,447.98 L489.73,448.20 L490.33,447.83 L490.93,448.18 L491.53,448.14 L492.13,448.87 L492.73,447.65 L493.33,448.19 L493.93,448.36 L494.53,447.68 L495.13,447.97 L495.73,448.10 L496.33,448.01 L496.93,448.17 L497.53,448.63 L498.13,448.72 L498.73,447.83 L499.33,447.77 L499.93,447.98 L500.53,448.07 L501.13,447.81 L501.73,447.73 L502.33,448.03 L502.93,447.80 L503.53,447.84 L504.13,448.41 L504.73,447.87 L505.33,448.61 L505.93,449.11 L506.53,447.92 L507.13,448.36 L507.73,447.41 L508.33,448.70 L508.93,447.82 L509.53,448.30 L510.13,448.09 L510.73,448.64 L511.33,447.23 L511.93,448.31 L512.53,447.38 L513.13,448.23 L513.73,448.69 L514.33,448.53 L514.93,447.67 L515.53,448.43 L516.13,448.17 L516.71,448.20 L516.73,447.72 L517.33,446.86 L517.65,445.50 L517.93,443.45 L518.53,441.28 L518.60,440.64 L519.13,439.41 L519.73,438.86 L519.86,437.94 L520.33,437.75 L520.93,436.73 L521.12,436.59 L521.53,436.07 L522.13,436.19 L522.38,436.05 L522.73,436.79 L523.33,436.55 L523.93,436.15 L524.27,436.86 L524.53,436.51 L525.13,437.03 L525.73,438.27 L526.16,438.21 L526.33,438.05 L526.93,438.85 L527.53,439.24 L528.05,440.10 L528.13,439.82 L528.73,441.09 L529.33,442.12 L529.93,443.16 L529.94,442.53 L530.53,443.95 L531.13,444.79 L531.51,444.96 L531.73,444.38 L532.33,445.23 L532.77,446.58 L532.93,447.37 L533.53,447.11 L533.72,446.85 L534.03,436.05 L534.13,435.46 L534.73,433.72 L534.98,432.00 L535.33,431.01 L535.93,429.73 L536.24,429.30 L536.53,428.81 L537.13,426.60 L537.50,425.25 L537.73,422.28 L538.33,408.79 L538.45,407.70 L538.93,384.02 L539.33,367.47 L539.53,366.36 L540.13,368.65 L540.34,367.20 L540.73,367.59 L541.33,369.98 L541.44,367.47 L541.93,385.69 L542.23,394.20 L542.53,402.06 L543.13,414.22 L543.45,420.12 L543.73,416.69 L544.33,405.50 L544.43,405.00 L544.93,396.06 L545.38,391.50 L545.53,389.54 L546.13,386.62 L546.32,385.02 L546.73,391.76 L546.95,394.20 L547.33,393.13 L547.89,396.90 L547.93,395.02 L548.52,410.40 L548.53,410.71 L549.13,423.56 L549.28,426.60 L549.73,429.23 L550.33,432.18 L550.73,433.35 L550.93,433.27 L551.53,435.53 L551.99,434.70 L552.13,433.37 L552.73,431.84 L553.33,429.80 L553.88,429.30 L553.93,429.77 L554.53,423.88 L555.13,420.95 L555.14,421.20 L555.73,419.37 L556.33,417.28 L556.40,417.69 L556.93,421.88 L557.53,424.91 L557.66,426.60 L558.13,428.62 L558.73,430.61 L559.33,434.22 L559.55,434.70 L559.93,435.82 L560.53,436.52 L561.12,437.40 L561.13,437.90 L561.73,438.07 L562.33,439.19 L562.70,440.10 L562.93,439.64 L563.53,440.95 L564.13,441.09 L564.73,442.62 L565.33,442.33 L565.85,443.34 L565.93,443.86 L566.53,444.76 L567.13,444.27 L567.73,444.70 L568.33,444.12 L568.93,444.52 L569.00,445.50 L569.53,445.31 L570.13,446.03 L570.73,446.30 L571.33,447.03 L571.93,446.87 L572.15,446.85 L572.53,447.17 L573.13,446.75 L573.73,447.07 L574.33,446.51 L574.93,447.00 L575.30,447.39 L575.53,447.36 L576.13,447.66 L576.73,447.20 L577.33,447.91 L577.93,447.46 L578.53,447.86 L579.13,447.87 L579.73,447.21 L580.03,448.06 L580.33,447.75 L580.93,448.23 L581.53,448.06 L582.13,448.00 L582.73,448.38 L583.33,448.47 L583.93,447.99 L584.53,447.57 L585.13,448.58 L585.73,448.05 L586.33,448.39 L586.93,447.92 L587.53,447.98 L588.13,448.64 L588.73,448.61 L589.33,447.95 L589.93,448.07 L590.53,448.00 L591.13,447.90 L591.73,447.89 L592.33,447.24 L592.93,448.00 L593.53,448.14 L594.13,448.29 L594.73,447.53 L595.33,447.75 L595.93,448.44 L596.53,448.61 L597.13,448.62 L597.73,447.83 L598.29,448.20" fill="none" stroke="#000" stroke-width="0.75" stroke-linejoin="round"/><path d="M435.12,448.21 L437.35,448.21 L437.35,447.90 L439.57,447.90 L439.57,448.31 L441.79,448.31 L441.79,448.13 L444.01,448.13 L444.01,448.11 L446.24,448.11 L446.24,448.08 L448.46,448.08 L448.46,448.17 L450.68,448.17 L450.68,448.21 L452.90,448.21 L452.90,448.22 L455.12,448.22 L455.12,448.30 L457.35,448.30 L457.35,448.22 L459.57,448.22 L459.57,448.24 L461.79,448.24 L461.79,448.10 L464.01,448.10 L464.01,448.21 L466.23,448.21 L466.23,448.14 L468.46,448.14 L468.46,448.41 L470.68,448.41 L470.68,448.24 L472.90,448.24 L472.90,448.20 L475.12,448.20 L475.12,448.22 L477.34,448.22 L477.34,448.16 L479.57,448.16 L479.57,447.98 L481.79,447.98 L481.79,448.03 L484.01,448.03 L484.01,448.26 L486.23,448.26 L486.23,448.10 L488.45,448.10 L488.45,448.17 L490.68,448.17 L490.68,448.14 L492.90,448.14 L492.90,448.01 L495.12,448.01 L495.12,448.18 L497.34,448.18 L497.34,448.11 L499.56,448.11 L499.56,448.30 L501.79,448.30 L501.79,448.27 L504.01,448.27 L504.01,448.04 L506.23,448.04 L506.23,448.06 L508.45,448.06 L508.45,448.26 L510.67,448.26 L510.67,448.16 L512.90,448.16 L512.90,448.32 L515.12,448.32 L515.12,448.21 L517.34,448.21 L517.34,441.45 L518.60,441.45 L518.60,438.21 L520.18,438.21 L520.18,436.59 L523.33,436.59 L523.33,436.32 L525.22,436.32 L525.22,437.40 L526.79,437.40 L526.79,439.02 L528.37,439.02 L528.37,440.91 L529.94,440.91 L529.94,442.80 L531.51,442.80 L531.51,444.96 L532.77,444.96 L532.77,446.85 L533.91,446.85 L533.91,432.27 L535.11,432.27 L535.11,428.22 L538.60,428.22 L538.60,393.64 L540.82,393.64 L540.82,393.65 L543.04,393.65 L543.04,393.65 L545.26,393.65 L545.26,393.74 L547.47,393.74 L547.47,393.65 L549.69,393.65 L549.69,431.19 L551.91,431.19 L551.91,431.15 L554.14,431.15 L554.14,431.19 L556.36,431.19 L556.36,431.33 L558.59,431.33 L558.59,431.20 L560.81,431.20 L560.81,437.40 L562.70,437.40 L562.70,440.10 L564.90,440.10 L564.90,442.80 L567.42,442.80 L567.42,444.69 L569.95,444.69 L569.95,446.04 L572.78,446.04 L572.78,447.12 L576.88,447.12 L576.88,447.93 L581.60,447.93 L581.60,448.20 L583.99,448.20 L583.99,448.26 L586.37,448.26 L586.37,448.23 L588.75,448.23 L588.75,448.02 L591.14,448.02 L591.14,448.40 L593.52,448.40 L593.52,448.13 L595.91,448.13 L595.91,448.15 L598.29,448.15" fill="none" stroke="#c02828" stroke-width="0.85"/><line x1="518.60" y1="449.3" x2="518.60" y2="325.7" stroke="#000" stroke-width="0.7" stroke-dasharray="4.4,2.6,0.6,2.46"/><line x1="435.2" y1="446.85" x2="598.4" y2="446.85" stroke="#000" stroke-width="0.7" stroke-dasharray="4.4,2.6,0.6,2.46"/></g>
<rect x="435.2" y="325.7" width="163.2" height="123.60000000000002" stroke="#7a7a7a" stroke-width="1" fill="none"/>
<path d="M436.70,449.3v-1.2M436.70,325.7v1.2M439.85,449.3v-1.2M439.85,325.7v1.2M443.00,449.3v-1.2M443.00,325.7v1.2M446.15,449.3v-1.2M446.15,325.7v1.2M449.30,449.3v-1.2M449.30,325.7v1.2M452.45,449.3v-1.2M452.45,325.7v1.2M455.60,449.3v-2.5M455.60,325.7v2.5M458.75,449.3v-1.2M458.75,325.7v1.2M461.90,449.3v-1.2M461.90,325.7v1.2M465.05,449.3v-1.2M465.05,325.7v1.2M468.20,449.3v-1.2M468.20,325.7v1.2M471.35,449.3v-1.2M471.35,325.7v1.2M474.50,449.3v-1.2M474.50,325.7v1.2M477.65,449.3v-1.2M477.65,325.7v1.2M480.80,449.3v-1.2M480.80,325.7v1.2M483.95,449.3v-1.2M483.95,325.7v1.2M487.10,449.3v-2.5M487.10,325.7v2.5M490.25,449.3v-1.2M490.25,325.7v1.2M493.40,449.3v-1.2M493.40,325.7v1.2M496.55,449.3v-1.2M496.55,325.7v1.2M499.70,449.3v-1.2M499.70,325.7v1.2M502.85,449.3v-1.2M502.85,325.7v1.2M506.00,449.3v-1.2M506.00,325.7v1.2M509.15,449.3v-1.2M509.15,325.7v1.2M512.30,449.3v-1.2M512.30,325.7v1.2M515.45,449.3v-1.2M515.45,325.7v1.2M518.60,449.3v-2.5M518.60,325.7v2.5M521.75,449.3v-1.2M521.75,325.7v1.2M524.90,449.3v-1.2M524.90,325.7v1.2M528.05,449.3v-1.2M528.05,325.7v1.2M531.20,449.3v-1.2M531.20,325.7v1.2M534.35,449.3v-1.2M534.35,325.7v1.2M537.50,449.3v-1.2M537.50,325.7v1.2M540.65,449.3v-1.2M540.65,325.7v1.2M543.80,449.3v-1.2M543.80,325.7v1.2M546.95,449.3v-1.2M546.95,325.7v1.2M550.10,449.3v-2.5M550.10,325.7v2.5M553.25,449.3v-1.2M553.25,325.7v1.2M556.40,449.3v-1.2M556.40,325.7v1.2M559.55,449.3v-1.2M559.55,325.7v1.2M562.70,449.3v-1.2M562.70,325.7v1.2M565.85,449.3v-1.2M565.85,325.7v1.2M569.00,449.3v-1.2M569.00,325.7v1.2M572.15,449.3v-1.2M572.15,325.7v1.2M575.30,449.3v-1.2M575.30,325.7v1.2M578.45,449.3v-1.2M578.45,325.7v1.2M581.60,449.3v-2.5M581.60,325.7v2.5M584.75,449.3v-1.2M584.75,325.7v1.2M587.90,449.3v-1.2M587.90,325.7v1.2M591.05,449.3v-1.2M591.05,325.7v1.2M594.20,449.3v-1.2M594.20,325.7v1.2M597.35,449.3v-1.2M597.35,325.7v1.2M435.2,448.20h3.2M598.4,448.20h-3.2M435.2,445.50h1.6M598.4,445.50h-1.6M435.2,442.80h1.6M598.4,442.80h-1.6M435.2,440.10h1.6M598.4,440.10h-1.6M435.2,437.40h1.6M598.4,437.40h-1.6M435.2,434.70h1.6M598.4,434.70h-1.6M435.2,432.00h1.6M598.4,432.00h-1.6M435.2,429.30h1.6M598.4,429.30h-1.6M435.2,426.60h1.6M598.4,426.60h-1.6M435.2,423.90h1.6M598.4,423.90h-1.6M435.2,421.20h3.2M598.4,421.20h-3.2M435.2,418.50h1.6M598.4,418.50h-1.6M435.2,415.80h1.6M598.4,415.80h-1.6M435.2,413.10h1.6M598.4,413.10h-1.6M435.2,410.40h1.6M598.4,410.40h-1.6M435.2,407.70h1.6M598.4,407.70h-1.6M435.2,405.00h1.6M598.4,405.00h-1.6M435.2,402.30h1.6M598.4,402.30h-1.6M435.2,399.60h1.6M598.4,399.60h-1.6M435.2,396.90h1.6M598.4,396.90h-1.6M435.2,394.20h3.2M598.4,394.20h-3.2M435.2,391.50h1.6M598.4,391.50h-1.6M435.2,388.80h1.6M598.4,388.80h-1.6M435.2,386.10h1.6M598.4,386.10h-1.6M435.2,383.40h1.6M598.4,383.40h-1.6M435.2,380.70h1.6M598.4,380.70h-1.6M435.2,378.00h1.6M598.4,378.00h-1.6M435.2,375.30h1.6M598.4,375.30h-1.6M435.2,372.60h1.6M598.4,372.60h-1.6M435.2,369.90h1.6M598.4,369.90h-1.6M435.2,367.20h3.2M598.4,367.20h-3.2M435.2,364.50h1.6M598.4,364.50h-1.6M435.2,361.80h1.6M598.4,361.80h-1.6M435.2,359.10h1.6M598.4,359.10h-1.6M435.2,356.40h1.6M598.4,356.40h-1.6M435.2,353.70h1.6M598.4,353.70h-1.6M435.2,351.00h1.6M598.4,351.00h-1.6M435.2,348.30h1.6M598.4,348.30h-1.6M435.2,345.60h1.6M598.4,345.60h-1.6M435.2,342.90h1.6M598.4,342.90h-1.6M435.2,340.20h3.2M598.4,340.20h-3.2M435.2,337.50h1.6M598.4,337.50h-1.6M435.2,334.80h1.6M598.4,334.80h-1.6M435.2,332.10h1.6M598.4,332.10h-1.6M435.2,329.40h1.6M598.4,329.40h-1.6M435.2,326.70h1.6M598.4,326.70h-1.6" stroke="#333" stroke-width="0.9" fill="none"/>
<g font-size="9.7"><text x="455.60" y="462.10" text-anchor="middle">-200</text><text x="487.10" y="462.10" text-anchor="middle">-100</text><text x="518.60" y="462.10" text-anchor="middle">0</text><text x="550.10" y="462.10" text-anchor="middle">100</text><text x="581.60" y="462.10" text-anchor="middle">200</text><text x="433.30" y="451.60" text-anchor="end">0</text><text x="433.30" y="424.60" text-anchor="end">10</text><text x="433.30" y="397.60" text-anchor="end">20</text><text x="433.30" y="370.60" text-anchor="end">30</text><text x="433.30" y="343.60" text-anchor="end">40</text></g>
<text x="516.80" y="472.00" text-anchor="middle" font-size="9.7">trigger time (s)</text>
<text transform="translate(416.20,387.50) rotate(-90)" text-anchor="middle" font-size="9.7">Counts/s</text>
<text x="522.7" y="347.90" font-size="9.5">GRB090618</text>
<text x="522.7" y="355.90" font-size="9.5">1-s</text>
<clipPath id="cGRB090621A"><rect x="29.4" y="484.9" width="163.6" height="123.60000000000002"/></clipPath>
<g clip-path="url(#cGRB090621A)"><path d="M29.70,602.53 L31.30,601.54 L32.90,604.65 L34.50,602.54 L36.10,601.67 L37.70,603.52 L39.30,602.16 L40.90,602.38 L42.50,602.52 L44.10,602.77 L45.70,601.93 L47.30,600.87 L48.90,603.85 L50.50,601.11 L52.10,602.21 L53.70,601.91 L55.30,604.09 L56.90,602.34 L58.50,600.49 L60.10,604.01 L61.70,605.24 L63.30,604.92 L64.90,602.16 L66.50,599.25 L68.10,600.98 L69.70,600.23 L71.30,602.39 L72.90,600.60 L74.50,602.90 L76.10,601.68 L77.70,602.89 L79.30,603.28 L80.90,602.34 L82.50,603.18 L84.10,600.73 L85.70,602.26 L86.43,602.53 L87.30,601.59 L88.90,596.81 L88.99,598.40 L90.50,593.70 L91.55,591.99 L92.10,595.81 L92.65,597.03 L93.70,600.44 L94.12,600.24 L95.30,602.55 L95.58,602.53 L96.90,601.75 L98.50,602.73 L100.10,602.56 L101.70,602.13 L102.17,602.53 L103.30,593.74 L103.63,592.45 L104.90,593.55 L106.50,592.25 L106.56,595.66 L108.10,595.98 L109.70,596.50 L111.30,596.49 L112.90,597.03 L114.50,594.94 L116.10,597.65 L117.70,596.96 L119.30,597.76 L119.37,597.03 L120.90,603.58 L121.20,602.53 L122.50,602.69 L124.10,602.09 L125.70,601.89 L127.30,602.82 L128.90,601.17 L130.50,602.09 L132.10,599.13 L133.70,604.60 L135.30,601.67 L136.90,603.96 L138.50,603.62 L140.10,599.80 L141.70,600.13 L143.30,605.08 L144.90,602.83 L146.50,602.62 L148.10,605.46 L149.70,602.59 L151.30,601.99 L152.90,602.23 L154.50,605.27 L156.10,601.00 L157.70,602.19 L159.30,602.61 L160.90,603.56 L162.50,601.55 L164.10,601.26 L165.70,603.19 L167.30,602.40 L168.90,601.39 L170.50,605.21 L172.10,602.36 L173.70,605.15 L175.30,603.79 L176.90,601.88 L178.50,602.72 L180.10,603.08 L181.70,602.93 L183.30,601.36 L184.88,602.53 L184.90,603.37 L186.35,581.00 L186.50,579.83 L187.81,562.68 L188.10,562.72 L189.28,555.81 L189.70,555.19 L190.74,551.23 L191.30,548.83 L191.84,547.11 L192.90,530.24 L192.94,525.12" fill="none" stroke="#000" stroke-width="0.75" stroke-linejoin="round"/><path d="M29.70,602.47 L31.92,602.47 L31.92,602.96 L34.13,602.96 L34.13,601.75 L36.35,601.75 L36.35,603.38 L38.56,603.38 L38.56,601.88 L40.78,601.88 L40.78,601.90 L42.99,601.90 L42.99,602.45 L45.21,602.45 L45.21,602.29 L47.43,602.29 L47.43,603.00 L49.64,603.00 L49.64,602.51 L51.86,602.51 L51.86,603.36 L54.07,603.36 L54.07,602.97 L56.29,602.97 L56.29,602.65 L58.50,602.65 L58.50,603.97 L60.72,603.97 L60.72,602.50 L62.94,602.50 L62.94,602.73 L65.15,602.73 L65.15,602.62 L67.37,602.62 L67.37,602.94 L69.58,602.94 L69.58,601.94 L71.80,601.94 L71.80,602.93 L74.01,602.93 L74.01,603.33 L76.23,603.33 L76.23,601.54 L78.45,601.54 L78.45,603.44 L80.66,603.44 L80.66,602.56 L82.88,602.56 L82.88,602.39 L85.09,602.39 L85.09,602.27 L87.31,602.27 L87.31,600.24 L88.99,600.24 L88.99,595.66 L94.85,595.66 L94.85,602.27 L97.34,602.27 L97.34,603.21 L99.83,603.21 L99.83,602.44 L102.31,602.44 L102.31,596.48 L104.57,596.48 L104.57,596.29 L106.82,596.29 L106.82,596.61 L109.07,596.61 L109.07,596.70 L111.32,596.70 L111.32,596.76 L113.57,596.76 L113.57,595.48 L115.82,595.48 L115.82,596.75 L118.07,596.75 L118.07,596.31 L120.32,596.31 L120.32,602.96 L122.56,602.96 L122.56,603.36 L124.80,603.36 L124.80,602.67 L127.04,602.67 L127.04,603.22 L129.28,603.22 L129.28,602.58 L131.52,602.58 L131.52,603.00 L133.76,603.00 L133.76,602.44 L135.99,602.44 L135.99,602.48 L138.23,602.48 L138.23,602.99 L140.47,602.99 L140.47,602.61 L142.71,602.61 L142.71,602.35 L144.95,602.35 L144.95,602.36 L147.19,602.36 L147.19,603.17 L149.43,603.17 L149.43,603.36 L151.67,603.36 L151.67,603.07 L153.91,603.07 L153.91,603.58 L156.14,603.58 L156.14,602.74 L158.38,602.74 L158.38,603.15 L160.62,603.15 L160.62,602.75 L162.86,602.75 L162.86,602.92 L165.10,602.92 L165.10,603.43 L167.34,603.43 L167.34,602.92 L169.58,602.92 L169.58,601.92 L171.82,601.92 L171.82,602.94 L174.06,602.94 L174.06,603.09 L176.29,603.09 L176.29,602.56 L178.53,602.56 L178.53,602.56 L180.77,602.56 L180.77,604.22 L183.01,604.22 L183.01,603.05 L185.25,603.05 L185.25,554.97 L187.81,554.97 L187.81,556.17 L190.37,556.17 L190.37,554.80 L192.94,554.80" fill="none" stroke="#c02828" stroke-width="0.85"/><line x1="102.90" y1="608.5" x2="102.90" y2="484.9" stroke="#000" stroke-width="0.7" stroke-dasharray="4.4,2.6,0.6,2.46"/><line x1="29.4" y1="598.40" x2="193.0" y2="598.40" stroke="#000" stroke-width="0.7" stroke-dasharray="4.4,2.6,0.6,2.46"/></g>
<rect x="29.4" y="484.9" width="163.6" height="123.60000000000002" stroke="#7a7a7a" stroke-width="1" fill="none"/>
<path d="M29.70,608.5v-2.5M29.70,484.9v2.5M33.36,608.5v-1.2M33.36,484.9v1.2M37.02,608.5v-1.2M37.02,484.9v1.2M40.68,608.5v-1.2M40.68,484.9v1.2M44.34,608.5v-1.2M44.34,484.9v1.2M48.00,608.5v-1.2M48.00,484.9v1.2M51.66,608.5v-1.2M51.66,484.9v1.2M55.32,608.5v-1.2M55.32,484.9v1.2M58.98,608.5v-1.2M58.98,484.9v1.2M62.64,608.5v-1.2M62.64,484.9v1.2M66.30,608.5v-2.5M66.30,484.9v2.5M69.96,608.5v-1.2M69.96,484.9v1.2M73.62,608.5v-1.2M73.62,484.9v1.2M77.28,608.5v-1.2M77.28,484.9v1.2M80.94,608.5v-1.2M80.94,484.9v1.2M84.60,608.5v-1.2M84.60,484.9v1.2M88.26,608.5v-1.2M88.26,484.9v1.2M91.92,608.5v-1.2M91.92,484.9v1.2M95.58,608.5v-1.2M95.58,484.9v1.2M99.24,608.5v-1.2M99.24,484.9v1.2M102.90,608.5v-2.5M102.90,484.9v2.5M106.56,608.5v-1.2M106.56,484.9v1.2M110.22,608.5v-1.2M110.22,484.9v1.2M113.88,608.5v-1.2M113.88,484.9v1.2M117.54,608.5v-1.2M117.54,484.9v1.2M121.20,608.5v-1.2M121.20,484.9v1.2M124.86,608.5v-1.2M124.86,484.9v1.2M128.52,608.5v-1.2M128.52,484.9v1.2M132.18,608.5v-1.2M132.18,484.9v1.2M135.84,608.5v-1.2M135.84,484.9v1.2M139.50,608.5v-2.5M139.50,484.9v2.5M143.16,608.5v-1.2M143.16,484.9v1.2M146.82,608.5v-1.2M146.82,484.9v1.2M150.48,608.5v-1.2M150.48,484.9v1.2M154.14,608.5v-1.2M154.14,484.9v1.2M157.80,608.5v-1.2M157.80,484.9v1.2M161.46,608.5v-1.2M161.46,484.9v1.2M165.12,608.5v-1.2M165.12,484.9v1.2M168.78,608.5v-1.2M168.78,484.9v1.2M172.44,608.5v-1.2M172.44,484.9v1.2M176.10,608.5v-2.5M176.10,484.9v2.5M179.76,608.5v-1.2M179.76,484.9v1.2M183.42,608.5v-1.2M183.42,484.9v1.2M187.08,608.5v-1.2M187.08,484.9v1.2M190.74,608.5v-1.2M190.74,484.9v1.2M29.4,608.48h1.6M193.0,608.48h-1.6M29.4,603.90h3.2M193.0,603.90h-3.2M29.4,599.32h1.6M193.0,599.32h-1.6M29.4,594.74h1.6M193.0,594.74h-1.6M29.4,590.16h1.6M193.0,590.16h-1.6M29.4,585.58h1.6M193.0,585.58h-1.6M29.4,581.00h3.2M193.0,581.00h-3.2M29.4,576.42h1.6M193.0,576.42h-1.6M29.4,571.84h1.6M193.0,571.84h-1.6M29.4,567.26h1.6M193.0,567.26h-1.6M29.4,562.68h1.6M193.0,562.68h-1.6M29.4,558.10h3.2M193.0,558.10h-3.2M29.4,553.52h1.6M193.0,553.52h-1.6M29.4,548.94h1.6M193.0,548.94h-1.6M29.4,544.36h1.6M193.0,544.36h-1.6M29.4,539.78h1.6M193.0,539.78h-1.6M29.4,535.20h3.2M193.0,535.20h-3.2M29.4,530.62h1.6M193.0,530.62h-1.6M29.4,526.04h1.6M193.0,526.04h-1.6M29.4,521.46h1.6M193.0,521.46h-1.6M29.4,516.88h1.6M193.0,516.88h-1.6M29.4,512.30h3.2M193.0,512.30h-3.2M29.4,507.72h1.6M193.0,507.72h-1.6M29.4,503.14h1.6M193.0,503.14h-1.6M29.4,498.56h1.6M193.0,498.56h-1.6M29.4,493.98h1.6M193.0,493.98h-1.6M29.4,489.40h3.2M193.0,489.40h-3.2" stroke="#333" stroke-width="0.9" fill="none"/>
<g font-size="9.7"><text x="29.70" y="621.30" text-anchor="middle">-200</text><text x="66.30" y="621.30" text-anchor="middle">-100</text><text x="102.90" y="621.30" text-anchor="middle">0</text><text x="139.50" y="621.30" text-anchor="middle">100</text><text x="176.10" y="621.30" text-anchor="middle">200</text><text x="27.50" y="607.30" text-anchor="end">0.0</text><text x="27.50" y="584.40" text-anchor="end">0.5</text><text x="27.50" y="561.50" text-anchor="end">1.0</text><text x="27.50" y="538.60" text-anchor="end">1.5</text><text x="27.50" y="515.70" text-anchor="end">2.0</text><text x="27.50" y="492.80" text-anchor="end">2.5</text></g>
<text x="111.20" y="631.20" text-anchor="middle" font-size="9.7">trigger time (s)</text>
<text transform="translate(8.20,546.70) rotate(-90)" text-anchor="middle" font-size="9.7">Counts/s</text>
<text x="116.7" y="507.10" font-size="9.5">GRB090621A</text>
<text x="116.7" y="515.10" font-size="9.5">2-s</text>
<clipPath id="cGRB101023A"><rect x="234.3" y="484.9" width="163.2" height="123.60000000000002"/></clipPath>
<g clip-path="url(#cGRB101023A)"><path d="M234.29,605.00 L234.90,605.19 L235.50,605.32 L236.10,606.77 L236.70,604.99 L237.30,605.20 L237.90,605.34 L238.50,604.77 L239.10,604.69 L239.70,605.69 L240.30,605.56 L240.90,605.28 L241.50,604.50 L242.10,604.58 L242.70,605.83 L243.30,605.70 L243.90,604.45 L244.50,603.89 L245.10,604.96 L245.70,605.40 L246.30,604.20 L246.90,605.14 L247.50,604.44 L248.10,603.89 L248.70,604.50 L249.30,604.87 L249.90,604.43 L250.50,605.34 L251.10,605.03 L251.70,605.29 L252.30,605.04 L252.90,605.23 L253.50,605.02 L254.10,605.15 L254.70,604.83 L255.30,604.85 L255.90,604.69 L256.50,603.94 L257.10,605.92 L257.70,604.01 L258.30,605.03 L258.90,605.70 L259.50,604.98 L260.10,604.80 L260.70,604.14 L261.30,605.57 L261.90,604.71 L262.50,604.77 L263.10,605.98 L263.70,605.64 L264.30,604.44 L264.90,604.37 L265.50,604.10 L266.10,604.47 L266.70,604.56 L267.30,604.74 L267.90,604.01 L268.50,605.38 L269.10,604.91 L269.70,604.55 L270.30,605.87 L270.90,603.93 L271.50,605.33 L272.10,604.85 L272.70,603.35 L273.30,605.35 L273.90,605.14 L274.50,603.74 L275.10,605.51 L275.70,605.07 L276.30,604.43 L276.90,604.47 L277.50,604.37 L278.10,604.52 L278.70,603.86 L279.30,604.08 L279.90,604.36 L280.50,605.21 L281.10,605.23 L281.70,606.03 L282.30,604.28 L282.90,605.96 L283.50,604.15 L284.10,603.50 L284.70,605.44 L285.30,605.19 L285.90,605.04 L286.50,604.17 L287.10,605.30 L287.70,604.80 L288.30,605.06 L288.90,604.88 L289.50,603.84 L290.10,605.35 L290.70,604.65 L291.30,604.51 L291.90,604.12 L292.50,605.54 L293.10,603.94 L293.70,604.39 L294.30,604.09 L294.90,604.63 L295.50,605.77 L296.10,605.10 L296.70,604.12 L297.30,604.64 L297.90,604.69 L298.50,603.46 L299.10,603.18 L299.70,604.68 L300.30,603.35 L300.90,605.98 L301.50,606.02 L302.10,604.06 L302.70,604.81 L303.30,604.24 L303.90,604.28 L304.50,604.69 L305.10,604.17 L305.70,604.52 L306.30,605.64 L306.90,604.47 L307.50,604.49 L308.10,603.38 L308.70,605.36 L309.30,604.59 L309.90,604.88 L310.50,604.68 L311.10,603.48 L311.70,604.33 L312.30,604.90 L312.90,604.48 L313.50,604.06 L314.10,605.24 L314.70,604.75 L315.30,603.53 L315.90,603.99 L316.50,604.59 L317.10,604.88 L317.70,604.66 L318.19,604.55 L318.30,603.89 L318.90,604.15 L319.50,604.13 L320.10,604.95 L320.70,604.41 L321.30,603.43 L321.90,603.45 L322.50,603.81 L323.10,602.99 L323.70,602.54 L324.30,603.48 L324.90,603.23 L325.33,602.76 L325.50,603.43 L326.10,601.68 L326.70,601.44 L327.30,601.13 L327.83,600.98 L327.90,601.06 L328.50,594.63 L328.90,590.70 L329.10,592.07 L329.61,596.06 L329.70,595.66 L330.30,595.34 L330.69,596.95 L330.90,595.86 L331.50,597.11 L332.10,596.65 L332.47,597.40 L332.70,596.69 L333.30,597.46 L333.90,597.39 L334.25,596.95 L334.50,596.91 L335.10,598.34 L335.68,599.64 L335.70,600.46 L336.30,601.46 L336.75,602.99 L336.90,602.01 L337.50,603.14 L338.10,602.96 L338.70,603.21 L339.30,604.25 L339.61,603.21 L339.90,603.11 L340.50,601.84 L341.10,603.34 L341.70,602.82 L341.75,602.32 L342.30,601.94 L342.90,600.27 L343.18,598.29 L343.50,597.54 L344.10,596.29 L344.70,593.36 L344.96,593.83 L345.30,593.47 L345.90,592.39 L346.50,592.16 L346.75,593.38 L347.10,592.56 L347.70,589.40 L348.00,589.36 L348.30,583.57 L348.89,569.24 L348.90,570.89 L349.50,555.08 L349.71,547.34 L350.10,543.24 L350.32,544.65 L350.70,531.72 L350.89,524.99 L351.30,542.80 L351.39,546.89 L351.90,553.37 L352.28,559.41 L352.50,563.35 L353.10,563.71 L353.18,564.77 L353.70,572.11 L354.25,578.18 L354.30,578.22 L354.90,582.13 L355.32,587.12 L355.50,587.57 L356.10,589.81 L356.39,591.59 L356.70,591.74 L357.30,594.31 L357.46,593.83 L357.90,594.52 L358.50,597.12 L359.10,598.39 L359.25,598.29 L359.70,599.54 L360.30,599.42 L360.90,601.07 L361.03,601.42 L361.50,601.02 L362.10,602.27 L362.70,602.94 L363.17,603.21 L363.30,603.78 L363.90,603.91 L364.50,603.27 L365.10,604.24 L365.70,603.72 L366.30,603.78 L366.90,604.38 L367.50,604.30 L368.10,603.34 L368.17,604.33 L368.70,604.86 L369.30,604.48 L369.90,604.61 L370.50,604.55 L371.10,603.34 L371.70,603.92 L372.30,603.55 L372.90,603.21 L373.50,604.71 L374.10,604.55 L374.70,604.40 L375.30,603.75 L375.90,604.51 L376.50,604.02 L377.10,603.68 L377.70,603.69 L378.30,604.18 L378.90,605.02 L379.50,605.54 L380.10,603.76 L380.70,604.21 L381.30,605.16 L381.90,604.88 L382.50,604.85 L383.10,605.68 L383.70,604.40 L384.30,605.10 L384.90,604.78 L385.50,604.10 L386.10,604.67 L386.70,604.25 L387.30,604.34 L387.90,604.61 L388.50,604.61 L389.10,603.40 L389.70,604.77 L390.30,603.58 L390.90,605.29 L391.50,604.20 L392.10,604.58 L392.70,605.19 L393.30,606.49 L393.90,603.65 L394.50,605.51 L395.10,605.39 L395.70,604.66 L396.30,604.72 L396.90,604.58 L397.44,604.78" fill="none" stroke="#000" stroke-width="0.75" stroke-linejoin="round"/><path d="M234.29,605.07 L236.53,605.07 L236.53,604.92 L238.76,604.92 L238.76,604.70 L240.99,604.70 L240.99,605.07 L243.22,605.07 L243.22,605.16 L245.45,605.16 L245.45,605.09 L247.68,605.09 L247.68,605.01 L249.91,605.01 L249.91,605.07 L252.14,605.07 L252.14,605.15 L254.38,605.15 L254.38,605.24 L256.61,605.24 L256.61,604.95 L258.84,604.95 L258.84,605.12 L261.07,605.12 L261.07,605.29 L263.30,605.29 L263.30,604.84 L265.53,604.84 L265.53,605.21 L267.76,605.21 L267.76,605.02 L270.00,605.02 L270.00,604.90 L272.23,604.90 L272.23,604.91 L274.46,604.91 L274.46,604.74 L276.69,604.74 L276.69,604.94 L278.92,604.94 L278.92,605.08 L281.15,605.08 L281.15,605.01 L283.38,605.01 L283.38,605.19 L285.61,605.19 L285.61,605.02 L287.84,605.02 L287.84,604.89 L290.08,604.89 L290.08,604.82 L292.31,604.82 L292.31,605.34 L294.54,605.34 L294.54,604.90 L296.77,604.90 L296.77,605.06 L299.00,605.06 L299.00,604.52 L301.23,604.52 L301.23,604.69 L303.46,604.69 L303.46,605.13 L305.69,605.13 L305.69,605.19 L307.93,605.19 L307.93,605.33 L310.16,605.33 L310.16,604.93 L312.39,604.93 L312.39,605.01 L314.62,605.01 L314.62,604.52 L317.00,604.52 L317.00,604.56 L319.38,604.56 L319.38,604.66 L321.76,604.66 L321.76,603.21 L325.33,603.21 L325.33,601.20 L328.90,601.20 L328.90,597.45 L331.14,597.45 L331.14,597.66 L333.37,597.66 L333.37,597.39 L335.61,597.39 L335.61,602.99 L342.11,602.99 L342.11,599.64 L343.54,599.64 L343.54,594.72 L348.18,594.72 L348.18,563.00 L350.44,563.00 L350.44,563.04 L352.70,563.04 L352.70,563.00 L354.96,563.00 L354.96,592.48 L359.25,592.48 L359.25,598.29 L361.03,598.29 L361.03,601.42 L363.17,601.42 L363.17,603.44 L368.17,603.44 L368.17,604.43 L370.42,604.43 L370.42,604.41 L372.67,604.41 L372.67,604.32 L374.93,604.32 L374.93,604.13 L377.18,604.13 L377.18,604.81 L379.43,604.81 L379.43,604.44 L381.68,604.44 L381.68,604.56 L383.93,604.56 L383.93,604.03 L386.18,604.03 L386.18,604.56 L388.44,604.56 L388.44,604.74 L390.69,604.74 L390.69,604.44 L392.94,604.44 L392.94,604.56 L395.19,604.56 L395.19,604.49 L397.44,604.49" fill="none" stroke="#c02828" stroke-width="0.85"/><line x1="328.90" y1="608.5" x2="328.90" y2="484.9" stroke="#000" stroke-width="0.7" stroke-dasharray="4.4,2.6,0.6,2.46"/><line x1="234.3" y1="601.51" x2="397.5" y2="601.51" stroke="#000" stroke-width="0.7" stroke-dasharray="4.4,2.6,0.6,2.46"/></g>
<rect x="234.3" y="484.9" width="163.2" height="123.60000000000002" stroke="#7a7a7a" stroke-width="1" fill="none"/>
<path d="M236.08,608.5v-1.2M236.08,484.9v1.2M239.65,608.5v-1.2M239.65,484.9v1.2M243.22,608.5v-1.2M243.22,484.9v1.2M246.79,608.5v-1.2M246.79,484.9v1.2M250.36,608.5v-1.2M250.36,484.9v1.2M253.93,608.5v-1.2M253.93,484.9v1.2M257.50,608.5v-2.5M257.50,484.9v2.5M261.07,608.5v-1.2M261.07,484.9v1.2M264.64,608.5v-1.2M264.64,484.9v1.2M268.21,608.5v-1.2M268.21,484.9v1.2M271.78,608.5v-1.2M271.78,484.9v1.2M275.35,608.5v-1.2M275.35,484.9v1.2M278.92,608.5v-1.2M278.92,484.9v1.2M282.49,608.5v-1.2M282.49,484.9v1.2M286.06,608.5v-1.2M286.06,484.9v1.2M289.63,608.5v-1.2M289.63,484.9v1.2M293.20,608.5v-2.5M293.20,484.9v2.5M296.77,608.5v-1.2M296.77,484.9v1.2M300.34,608.5v-1.2M300.34,484.9v1.2M303.91,608.5v-1.2M303.91,484.9v1.2M307.48,608.5v-1.2M307.48,484.9v1.2M311.05,608.5v-1.2M311.05,484.9v1.2M314.62,608.5v-1.2M314.62,484.9v1.2M318.19,608.5v-1.2M318.19,484.9v1.2M321.76,608.5v-1.2M321.76,484.9v1.2M325.33,608.5v-1.2M325.33,484.9v1.2M328.90,608.5v-2.5M328.90,484.9v2.5M332.47,608.5v-1.2M332.47,484.9v1.2M336.04,608.5v-1.2M336.04,484.9v1.2M339.61,608.5v-1.2M339.61,484.9v1.2M343.18,608.5v-1.2M343.18,484.9v1.2M346.75,608.5v-1.2M346.75,484.9v1.2M350.32,608.5v-1.2M350.32,484.9v1.2M353.89,608.5v-1.2M353.89,484.9v1.2M357.46,608.5v-1.2M357.46,484.9v1.2M361.03,608.5v-1.2M361.03,484.9v1.2M364.60,608.5v-2.5M364.60,484.9v2.5M368.17,608.5v-1.2M368.17,484.9v1.2M371.74,608.5v-1.2M371.74,484.9v1.2M375.31,608.5v-1.2M375.31,484.9v1.2M378.88,608.5v-1.2M378.88,484.9v1.2M382.45,608.5v-1.2M382.45,484.9v1.2M386.02,608.5v-1.2M386.02,484.9v1.2M389.59,608.5v-1.2M389.59,484.9v1.2M393.16,608.5v-1.2M393.16,484.9v1.2M396.73,608.5v-1.2M396.73,484.9v1.2M234.3,605.00h3.2M397.5,605.00h-3.2M234.3,600.53h1.6M397.5,600.53h-1.6M234.3,596.06h1.6M397.5,596.06h-1.6M234.3,591.59h1.6M397.5,591.59h-1.6M234.3,587.12h1.6M397.5,587.12h-1.6M234.3,582.65h3.2M397.5,582.65h-3.2M234.3,578.18h1.6M397.5,578.18h-1.6M234.3,573.71h1.6M397.5,573.71h-1.6M234.3,569.24h1.6M397.5,569.24h-1.6M234.3,564.77h1.6M397.5,564.77h-1.6M234.3,560.30h3.2M397.5,560.30h-3.2M234.3,555.83h1.6M397.5,555.83h-1.6M234.3,551.36h1.6M397.5,551.36h-1.6M234.3,546.89h1.6M397.5,546.89h-1.6M234.3,542.42h1.6M397.5,542.42h-1.6M234.3,537.95h3.2M397.5,537.95h-3.2M234.3,533.48h1.6M397.5,533.48h-1.6M234.3,529.01h1.6M397.5,529.01h-1.6M234.3,524.54h1.6M397.5,524.54h-1.6M234.3,520.07h1.6M397.5,520.07h-1.6M234.3,515.60h3.2M397.5,515.60h-3.2M234.3,511.13h1.6M397.5,511.13h-1.6M234.3,506.66h1.6M397.5,506.66h-1.6M234.3,502.19h1.6M397.5,502.19h-1.6M234.3,497.72h1.6M397.5,497.72h-1.6M234.3,493.25h3.2M397.5,493.25h-3.2M234.3,488.78h1.6M397.5,488.78h-1.6" stroke="#333" stroke-width="0.9" fill="none"/>
<g font-size="9.7"><text x="257.50" y="621.30" text-anchor="middle">-200</text><text x="293.20" y="621.30" text-anchor="middle">-100</text><text x="328.90" y="621.30" text-anchor="middle">0</text><text x="364.60" y="621.30" text-anchor="middle">100</text><text x="232.40" y="608.40" text-anchor="end">0</text><text x="232.40" y="586.05" text-anchor="end">5</text><text x="232.40" y="563.70" text-anchor="end">10</text><text x="232.40" y="541.35" text-anchor="end">15</text><text x="232.40" y="519.00" text-anchor="end">20</text><text x="232.40" y="496.65" text-anchor="end">25</text></g>
<text x="315.90" y="631.20" text-anchor="middle" font-size="9.7">trigger time (s)</text>
<text transform="translate(215.70,546.70) rotate(-90)" text-anchor="middle" font-size="9.7">Counts/s</text>
<text x="321.7" y="507.10" font-size="9.5">GRB101023A</text>
<text x="321.7" y="515.10" font-size="9.5">1-s</text>
<clipPath id="cGRB110102A"><rect x="435.2" y="484.9" width="163.2" height="123.60000000000002"/></clipPath>
<g clip-path="url(#cGRB110102A)"><path d="M435.28,602.40 L435.88,602.86 L436.48,602.17 L437.08,603.53 L437.68,601.75 L438.28,603.35 L438.88,602.23 L439.48,602.29 L440.08,602.75 L440.68,600.11 L441.28,602.55 L441.88,601.76 L442.48,601.29 L443.08,602.91 L443.68,601.06 L444.28,602.08 L444.88,601.24 L445.48,602.58 L446.08,602.64 L446.68,601.02 L447.28,601.49 L447.88,601.73 L448.48,601.34 L449.08,601.39 L449.68,602.56 L450.28,603.29 L450.88,602.88 L451.48,602.93 L452.08,603.21 L452.68,602.07 L453.28,601.95 L453.88,601.58 L454.48,601.37 L455.08,601.77 L455.68,601.65 L456.28,601.39 L456.88,602.12 L457.48,601.89 L458.08,601.33 L458.68,601.81 L459.28,601.71 L459.88,601.35 L460.48,600.30 L461.08,600.99 L461.20,601.22 L461.68,601.43 L462.28,600.85 L462.88,598.92 L463.48,602.52 L464.08,599.65 L464.68,599.62 L465.28,598.91 L465.88,600.11 L466.48,597.52 L466.96,598.85 L467.08,598.96 L467.68,599.17 L468.28,600.17 L468.88,599.99 L469.48,600.50 L470.08,600.10 L470.68,600.89 L470.80,601.22 L471.28,600.29 L471.88,599.82 L472.48,599.50 L473.08,600.20 L473.68,597.81 L474.00,598.25 L474.28,599.03 L474.88,598.49 L475.48,598.16 L476.08,597.62 L476.68,599.96 L477.28,597.80 L477.88,597.80 L478.48,599.41 L479.08,599.34 L479.68,599.71 L480.28,599.85 L480.88,600.49 L481.48,600.85 L482.08,599.89 L482.68,599.68 L483.28,598.66 L483.60,600.03 L483.88,601.58 L484.48,600.09 L485.08,600.64 L485.68,600.16 L486.28,600.81 L486.88,601.54 L487.48,601.24 L488.08,600.29 L488.68,600.78 L489.28,601.77 L489.88,600.57 L490.48,602.33 L491.08,601.80 L491.68,601.39 L492.28,602.61 L492.88,602.60 L493.20,601.81 L493.48,601.88 L494.08,602.03 L494.68,602.28 L495.28,602.69 L495.88,602.49 L496.48,599.80 L497.08,602.43 L497.68,600.94 L498.28,602.46 L498.88,601.10 L499.48,601.22 L500.08,601.81 L500.68,602.61 L501.28,603.16 L501.88,601.52 L502.48,603.15 L503.08,603.17 L503.68,601.21 L504.28,601.28 L504.88,602.32 L505.48,602.55 L506.00,602.40 L506.08,602.13 L506.68,602.59 L507.28,603.19 L507.88,602.53 L508.48,601.67 L509.08,602.85 L509.68,602.28 L510.28,601.36 L510.88,600.11 L511.48,601.06 L512.08,601.03 L512.68,599.54 L513.28,601.54 L513.88,601.17 L514.00,600.62 L514.48,599.16 L515.08,598.74 L515.68,600.09 L516.28,596.80 L516.88,596.48 L517.48,582.36 L517.84,573.96 L518.08,571.02 L518.68,569.23 L519.12,566.85 L519.28,568.09 L519.88,561.20 L520.34,557.96 L520.48,561.19 L521.08,571.80 L521.36,575.14 L521.68,577.96 L522.28,584.99 L522.64,589.37 L522.88,589.39 L523.48,591.71 L524.08,595.69 L524.56,595.29 L524.68,596.91 L525.28,596.80 L525.88,595.74 L526.48,596.59 L527.08,598.09 L527.68,598.82 L527.76,598.25 L528.28,599.61 L528.88,598.09 L529.48,598.66 L530.08,597.99 L530.68,598.68 L531.28,599.44 L531.88,598.58 L532.48,599.05 L533.08,599.89 L533.68,599.77 L534.28,599.73 L534.88,599.04 L535.48,598.60 L536.08,599.24 L536.68,600.15 L537.28,599.63 L537.88,599.02 L538.00,599.44 L538.48,599.67 L539.08,598.23 L539.68,598.16 L539.92,597.66 L540.28,596.62 L540.88,592.76 L541.20,590.55 L541.48,586.74 L542.08,578.14 L542.16,576.33 L542.68,572.32 L543.12,566.85 L543.28,564.40 L543.76,559.74 L543.88,551.78 L544.40,524.19 L544.48,524.98 L545.04,555.00 L545.08,557.39 L545.68,561.94 L546.00,566.85 L546.28,573.97 L546.88,585.06 L546.96,588.18 L547.48,590.12 L547.92,592.92 L548.08,595.03 L548.68,596.20 L549.20,596.48 L549.28,596.14 L549.88,596.90 L550.48,597.49 L551.08,597.19 L551.68,598.70 L552.28,597.47 L552.88,598.68 L553.48,597.32 L554.08,598.37 L554.68,599.28 L554.96,598.85 L555.28,599.42 L555.88,597.02 L556.24,596.48 L556.48,595.36 L556.88,593.28 L557.08,594.18 L557.68,597.57 L557.84,598.85 L558.28,598.14 L558.88,597.56 L559.48,598.27 L560.08,598.67 L560.40,597.66 L560.68,594.40 L561.04,588.18 L561.28,584.55 L561.68,579.88 L561.88,579.20 L562.32,574.20 L562.48,576.60 L562.96,583.44 L563.08,584.61 L563.68,584.20 L563.92,585.81 L564.28,588.01 L564.88,590.55 L565.48,591.91 L566.08,593.35 L566.68,593.34 L566.80,592.92 L567.28,593.40 L567.88,596.15 L568.48,595.92 L569.08,598.05 L569.36,598.25 L569.68,598.55 L570.28,598.73 L570.88,599.01 L571.48,598.99 L572.08,599.58 L572.68,601.17 L573.28,600.88 L573.88,599.56 L574.48,601.13 L574.80,601.22 L575.08,601.11 L575.68,600.05 L576.28,600.46 L576.88,601.28 L577.48,601.20 L578.08,600.92 L578.68,601.52 L579.28,601.79 L579.88,600.31 L580.48,601.79 L581.08,600.82 L581.68,602.69 L582.28,602.16 L582.88,602.45 L583.48,601.36 L584.08,602.14 L584.68,602.18 L585.28,602.40 L585.88,601.68 L586.48,601.11 L587.08,602.26 L587.68,601.44 L588.28,601.91 L588.88,602.37 L589.48,601.71 L590.08,601.04 L590.68,603.87 L591.28,601.56 L591.88,600.83 L592.48,602.24 L593.08,601.60 L593.68,601.48 L594.28,601.84 L594.88,602.06 L595.48,601.34 L596.08,601.50 L596.68,602.19 L597.28,601.88 L597.88,603.03 L598.16,602.40" fill="none" stroke="#000" stroke-width="0.75" stroke-linejoin="round"/><path d="M435.28,601.71 L437.52,601.71 L437.52,602.09 L439.76,602.09 L439.76,601.68 L442.00,601.68 L442.00,601.70 L444.24,601.70 L444.24,601.73 L446.48,601.73 L446.48,601.68 L448.72,601.68 L448.72,601.96 L450.96,601.96 L450.96,601.87 L453.20,601.87 L453.20,601.92 L455.44,601.92 L455.44,601.58 L457.68,601.58 L457.68,601.54 L459.92,601.54 L459.92,601.92 L462.16,601.92 L462.16,601.80 L464.40,601.80 L464.40,600.03 L470.16,600.03 L470.16,601.22 L474.00,601.22 L474.00,598.85 L480.40,598.85 L480.40,600.08 L482.96,600.08 L482.96,600.14 L485.52,600.14 L485.52,600.20 L488.08,600.20 L488.08,600.06 L490.64,600.06 L490.64,600.05 L493.20,600.05 L493.20,602.12 L495.76,602.12 L495.76,602.06 L498.32,602.06 L498.32,602.35 L500.88,602.35 L500.88,602.04 L503.44,602.04 L503.44,602.16 L506.00,602.16 L506.00,601.80 L508.67,601.80 L508.67,601.47 L511.33,601.47 L511.33,601.81 L514.00,601.81 L514.00,599.44 L517.33,599.44 L517.33,571.95 L522.64,571.95 L522.64,592.92 L524.56,592.92 L524.56,597.66 L528.40,597.66 L528.40,599.36 L530.98,599.36 L530.98,599.24 L533.56,599.24 L533.56,599.29 L536.14,599.29 L536.14,599.60 L538.72,599.60 L538.72,599.43 L541.30,599.43 L541.30,562.70 L547.12,562.70 L547.12,592.92 L550.00,592.92 L550.00,597.66 L554.00,597.66 L554.00,598.89 L556.27,598.89 L556.27,599.16 L558.54,599.16 L558.54,598.87 L560.82,598.87 L560.82,584.39 L564.02,584.39 L564.02,591.14 L568.40,591.14 L568.40,598.25 L573.20,598.25 L573.20,601.07 L575.47,601.07 L575.47,600.92 L577.74,600.92 L577.74,601.47 L580.01,601.47 L580.01,601.18 L582.28,601.18 L582.28,601.39 L584.55,601.39 L584.55,601.15 L586.81,601.15 L586.81,601.22 L589.08,601.22 L589.08,601.43 L591.35,601.43 L591.35,601.17 L593.62,601.17 L593.62,601.23 L595.89,601.23 L595.89,601.23 L598.16,601.23" fill="none" stroke="#c02828" stroke-width="0.85"/><line x1="474.00" y1="608.5" x2="474.00" y2="484.9" stroke="#000" stroke-width="0.7" stroke-dasharray="4.4,2.6,0.6,2.46"/><line x1="435.2" y1="600.03" x2="598.4" y2="600.03" stroke="#000" stroke-width="0.7" stroke-dasharray="4.4,2.6,0.6,2.46"/></g>
<rect x="435.2" y="484.9" width="163.2" height="123.60000000000002" stroke="#7a7a7a" stroke-width="1" fill="none"/>
<path d="M435.60,608.5v-1.2M435.60,484.9v1.2M438.80,608.5v-1.2M438.80,484.9v1.2M442.00,608.5v-2.5M442.00,484.9v2.5M445.20,608.5v-1.2M445.20,484.9v1.2M448.40,608.5v-1.2M448.40,484.9v1.2M451.60,608.5v-1.2M451.60,484.9v1.2M454.80,608.5v-1.2M454.80,484.9v1.2M458.00,608.5v-1.2M458.00,484.9v1.2M461.20,608.5v-1.2M461.20,484.9v1.2M464.40,608.5v-1.2M464.40,484.9v1.2M467.60,608.5v-1.2M467.60,484.9v1.2M470.80,608.5v-1.2M470.80,484.9v1.2M474.00,608.5v-2.5M474.00,484.9v2.5M477.20,608.5v-1.2M477.20,484.9v1.2M480.40,608.5v-1.2M480.40,484.9v1.2M483.60,608.5v-1.2M483.60,484.9v1.2M486.80,608.5v-1.2M486.80,484.9v1.2M490.00,608.5v-1.2M490.00,484.9v1.2M493.20,608.5v-1.2M493.20,484.9v1.2M496.40,608.5v-1.2M496.40,484.9v1.2M499.60,608.5v-1.2M499.60,484.9v1.2M502.80,608.5v-1.2M502.80,484.9v1.2M506.00,608.5v-2.5M506.00,484.9v2.5M509.20,608.5v-1.2M509.20,484.9v1.2M512.40,608.5v-1.2M512.40,484.9v1.2M515.60,608.5v-1.2M515.60,484.9v1.2M518.80,608.5v-1.2M518.80,484.9v1.2M522.00,608.5v-1.2M522.00,484.9v1.2M525.20,608.5v-1.2M525.20,484.9v1.2M528.40,608.5v-1.2M528.40,484.9v1.2M531.60,608.5v-1.2M531.60,484.9v1.2M534.80,608.5v-1.2M534.80,484.9v1.2M538.00,608.5v-2.5M538.00,484.9v2.5M541.20,608.5v-1.2M541.20,484.9v1.2M544.40,608.5v-1.2M544.40,484.9v1.2M547.60,608.5v-1.2M547.60,484.9v1.2M550.80,608.5v-1.2M550.80,484.9v1.2M554.00,608.5v-1.2M554.00,484.9v1.2M557.20,608.5v-1.2M557.20,484.9v1.2M560.40,608.5v-1.2M560.40,484.9v1.2M563.60,608.5v-1.2M563.60,484.9v1.2M566.80,608.5v-1.2M566.80,484.9v1.2M570.00,608.5v-2.5M570.00,484.9v2.5M573.20,608.5v-1.2M573.20,484.9v1.2M576.40,608.5v-1.2M576.40,484.9v1.2M579.60,608.5v-1.2M579.60,484.9v1.2M582.80,608.5v-1.2M582.80,484.9v1.2M586.00,608.5v-1.2M586.00,484.9v1.2M589.20,608.5v-1.2M589.20,484.9v1.2M592.40,608.5v-1.2M592.40,484.9v1.2M595.60,608.5v-1.2M595.60,484.9v1.2M435.2,608.32h1.6M598.4,608.32h-1.6M435.2,602.40h3.2M598.4,602.40h-3.2M435.2,596.48h1.6M598.4,596.48h-1.6M435.2,590.55h1.6M598.4,590.55h-1.6M435.2,584.62h1.6M598.4,584.62h-1.6M435.2,578.70h3.2M598.4,578.70h-3.2M435.2,572.77h1.6M598.4,572.77h-1.6M435.2,566.85h1.6M598.4,566.85h-1.6M435.2,560.92h1.6M598.4,560.92h-1.6M435.2,555.00h3.2M598.4,555.00h-3.2M435.2,549.07h1.6M598.4,549.07h-1.6M435.2,543.15h1.6M598.4,543.15h-1.6M435.2,537.22h1.6M598.4,537.22h-1.6M435.2,531.30h3.2M598.4,531.30h-3.2M435.2,525.38h1.6M598.4,525.38h-1.6M435.2,519.45h1.6M598.4,519.45h-1.6M435.2,513.52h1.6M598.4,513.52h-1.6M435.2,507.60h3.2M598.4,507.60h-3.2M435.2,501.67h1.6M598.4,501.67h-1.6M435.2,495.75h1.6M598.4,495.75h-1.6M435.2,489.82h1.6M598.4,489.82h-1.6" stroke="#333" stroke-width="0.9" fill="none"/>
<g font-size="9.7"><text x="442.00" y="621.30" text-anchor="middle">-100</text><text x="474.00" y="621.30" text-anchor="middle">0</text><text x="506.00" y="621.30" text-anchor="middle">100</text><text x="538.00" y="621.30" text-anchor="middle">200</text><text x="570.00" y="621.30" text-anchor="middle">300</text><text x="433.30" y="605.80" text-anchor="end">0</text><text x="433.30" y="582.10" text-anchor="end">2</text><text x="433.30" y="558.40" text-anchor="end">4</text><text x="433.30" y="534.70" text-anchor="end">6</text><text x="433.30" y="511.00" text-anchor="end">8</text></g>
<text x="516.80" y="631.20" text-anchor="middle" font-size="9.7">trigger time (s)</text>
<text transform="translate(420.60,546.70) rotate(-90)" text-anchor="middle" font-size="9.7">Counts/s</text>
<text x="521.7" y="507.10" font-size="9.5">GRB110102A</text>
<text x="521.7" y="515.10" font-size="9.5">1-s</text>
<clipPath id="cGRB111228A"><rect x="29.4" y="646.4" width="163.6" height="123.0"/></clipPath>
<g clip-path="url(#cGRB111228A)"><path d="M29.40,765.30 L30.00,764.58 L30.60,765.34 L31.20,764.87 L31.80,764.02 L32.40,764.79 L33.00,764.02 L33.60,764.48 L34.20,763.90 L34.80,766.29 L35.40,766.05 L36.00,766.50 L36.60,764.77 L37.20,765.53 L37.80,764.43 L38.40,765.00 L39.00,765.18 L39.60,763.26 L40.20,764.72 L40.80,765.33 L41.40,766.23 L42.00,764.17 L42.60,764.39 L43.20,766.33 L43.80,765.44 L44.40,765.07 L45.00,766.86 L45.60,765.56 L46.20,763.97 L46.80,766.83 L47.40,764.83 L48.00,763.50 L48.60,765.89 L49.20,765.73 L49.80,765.09 L50.40,764.81 L51.00,764.92 L51.60,766.74 L52.20,766.03 L52.80,765.20 L53.40,765.60 L54.00,764.22 L54.60,765.61 L55.20,765.65 L55.80,763.54 L56.40,765.38 L57.00,766.23 L57.60,765.30 L58.20,765.52 L58.80,764.62 L59.40,764.87 L60.00,765.62 L60.60,765.67 L61.20,765.80 L61.80,764.02 L62.40,763.39 L63.00,765.35 L63.60,764.76 L64.20,764.96 L64.80,765.79 L65.40,765.80 L66.00,765.76 L66.60,767.13 L67.20,766.02 L67.80,764.87 L68.40,764.42 L69.00,765.50 L69.60,765.66 L70.20,764.69 L70.80,763.35 L71.40,766.18 L72.00,766.04 L72.60,765.72 L73.20,764.78 L73.80,766.11 L74.40,764.86 L75.00,765.98 L75.60,764.77 L76.20,765.60 L76.80,765.71 L77.40,764.53 L78.00,766.43 L78.60,766.03 L79.20,764.61 L79.80,764.57 L80.40,765.10 L81.00,767.38 L81.60,764.61 L82.20,764.97 L82.80,765.62 L83.40,767.15 L84.00,764.51 L84.60,763.64 L85.20,764.82 L85.80,764.04 L86.40,765.92 L87.00,765.12 L87.60,765.92 L88.20,766.36 L88.80,765.63 L89.40,766.17 L90.00,766.01 L90.60,766.03 L91.20,765.69 L91.80,765.58 L92.40,765.18 L93.00,766.48 L93.60,765.00 L94.20,767.03 L94.80,765.25 L95.40,765.22 L96.00,767.50 L96.60,765.62 L97.20,764.26 L97.80,764.87 L98.40,765.77 L99.00,765.82 L99.60,765.02 L100.20,765.15 L100.80,764.52 L101.40,765.16 L102.00,764.44 L102.60,764.92 L103.20,766.03 L103.80,766.27 L104.40,765.80 L105.00,764.91 L105.60,766.12 L106.20,764.45 L106.80,766.76 L107.40,765.55 L108.00,766.19 L108.60,765.00 L109.20,765.17 L109.80,765.44 L110.40,766.47 L111.00,766.14 L111.60,765.93 L112.20,764.36 L112.80,765.91 L113.40,764.82 L114.00,764.43 L114.60,766.10 L114.77,765.30 L115.20,766.50 L115.80,763.55 L116.40,761.26 L116.85,761.02 L117.00,760.63 L117.60,760.01 L118.20,760.22 L118.80,760.78 L119.40,759.93 L119.62,760.07 L120.00,761.00 L120.60,759.13 L121.20,762.72 L121.36,762.45 L121.80,763.11 L122.40,764.35 L122.40,763.60 L123.00,760.12 L123.44,755.80 L123.60,758.54 L124.13,763.40 L124.20,762.31 L124.80,763.51 L125.18,762.45 L125.40,761.02 L126.00,758.10 L126.22,755.80 L126.60,759.13 L126.91,763.40 L127.20,763.25 L127.80,762.89 L128.30,764.35 L128.40,763.27 L129.00,764.05 L129.60,764.31 L130.20,762.72 L130.80,763.23 L131.40,763.27 L132.00,763.34 L132.60,763.34 L132.81,762.45 L133.20,759.45 L133.80,753.52 L133.85,753.90 L134.40,758.92 L134.54,760.55 L135.00,755.89 L135.59,751.05 L135.60,749.95 L136.20,758.41 L136.28,759.60 L136.80,760.08 L137.40,760.79 L137.67,760.55 L138.00,757.08 L138.60,750.04 L139.06,746.30 L139.20,742.52 L139.80,723.69 L140.40,704.60 L140.69,695.95 L141.00,705.87 L141.48,736.80 L141.60,733.54 L142.20,709.27 L142.70,685.50 L142.80,695.74 L143.22,732.05 L143.40,740.49 L143.91,755.80 L144.00,756.69 L144.60,758.72 L145.20,762.09 L145.30,762.45 L145.80,764.20 L146.40,761.88 L147.00,763.23 L147.60,763.34 L148.20,761.53 L148.80,764.29 L149.40,762.53 L150.00,762.80 L150.60,761.31 L151.20,763.84 L151.80,762.12 L152.40,762.00 L153.00,762.47 L153.60,762.35 L153.63,762.45 L154.20,760.10 L154.80,755.27 L155.37,751.05 L155.40,748.51 L156.00,724.28 L156.60,704.95 L156.68,698.80 L157.20,728.20 L157.45,741.55 L157.80,744.67 L158.40,747.04 L158.49,748.20 L159.00,751.45 L159.60,752.11 L159.88,753.90 L160.20,756.43 L160.80,760.83 L161.26,762.45 L161.40,761.66 L162.00,763.52 L162.60,762.86 L163.20,762.90 L163.80,762.54 L164.40,763.78 L165.00,760.90 L165.60,762.59 L166.20,762.06 L166.80,763.27 L167.40,761.01 L168.00,762.64 L168.60,764.84 L169.20,762.22 L169.80,763.27 L170.40,764.29 L171.00,763.39 L171.60,764.24 L172.20,762.77 L172.80,762.91 L173.40,764.87 L174.00,762.97 L174.60,762.66 L175.20,766.08 L175.80,762.52 L176.40,763.19 L177.00,763.09 L177.60,762.57 L178.20,764.03 L178.80,764.86 L179.40,763.73 L180.00,764.29 L180.60,763.77 L181.20,766.46 L181.80,764.70 L182.40,761.89 L183.00,764.06 L183.60,763.52 L184.20,764.20 L184.80,764.91 L185.40,763.83 L186.00,763.98 L186.60,765.07 L187.20,764.97 L187.80,764.21 L188.40,765.66 L189.00,765.76 L189.60,763.89 L190.20,763.97 L190.80,765.30 L191.40,763.68 L192.00,764.41 L192.60,764.89 L192.84,765.30" fill="none" stroke="#000" stroke-width="0.75" stroke-linejoin="round"/><path d="M29.40,765.31 L31.64,765.31 L31.64,765.03 L33.88,765.03 L33.88,765.24 L36.12,765.24 L36.12,765.59 L38.35,765.59 L38.35,765.36 L40.59,765.36 L40.59,764.96 L42.83,764.96 L42.83,764.99 L45.07,764.99 L45.07,764.97 L47.31,764.97 L47.31,765.02 L49.54,765.02 L49.54,765.10 L51.78,765.10 L51.78,765.20 L54.02,765.20 L54.02,765.27 L56.26,765.27 L56.26,765.25 L58.49,765.25 L58.49,765.36 L60.73,765.36 L60.73,765.45 L62.97,765.45 L62.97,765.09 L65.21,765.09 L65.21,765.27 L67.44,765.27 L67.44,764.95 L69.68,764.95 L69.68,765.57 L71.92,765.57 L71.92,765.29 L74.16,765.29 L74.16,765.23 L76.40,765.23 L76.40,765.13 L78.63,765.13 L78.63,765.44 L80.87,765.44 L80.87,765.47 L83.11,765.47 L83.11,766.01 L85.35,766.01 L85.35,765.66 L87.58,765.66 L87.58,765.37 L89.82,765.37 L89.82,765.20 L92.06,765.20 L92.06,765.75 L94.30,765.75 L94.30,765.12 L96.54,765.12 L96.54,765.78 L98.77,765.78 L98.77,765.25 L101.01,765.25 L101.01,765.85 L103.25,765.85 L103.25,765.21 L105.49,765.21 L105.49,765.75 L107.72,765.75 L107.72,765.22 L109.96,765.22 L109.96,765.60 L112.20,765.60 L112.20,765.57 L114.44,765.57 L114.44,765.26 L116.67,765.26 L116.67,759.98 L122.05,759.98 L122.05,761.02 L126.56,761.02 L126.56,764.24 L128.82,764.24 L128.82,764.08 L131.07,764.08 L131.07,764.32 L133.33,764.32 L133.33,758.65 L136.63,758.65 L136.63,762.45 L139.33,762.45 L139.33,728.25 L143.98,728.25 L143.98,762.45 L146.69,762.45 L146.69,764.27 L149.39,764.27 L149.39,764.13 L152.08,764.13 L152.08,764.35 L154.78,764.35 L154.78,746.68 L160.50,746.68 L160.50,764.79 L162.81,764.79 L162.81,765.06 L165.12,765.06 L165.12,764.80 L167.43,764.80 L167.43,764.83 L169.74,764.83 L169.74,765.39 L172.05,765.39 L172.05,764.64 L174.36,764.64 L174.36,765.12 L176.67,765.12 L176.67,764.69 L178.98,764.69 L178.98,764.66 L181.29,764.66 L181.29,765.07 L183.60,765.07 L183.60,764.94 L185.91,764.94 L185.91,764.67 L188.22,764.67 L188.22,765.01 L190.53,765.01 L190.53,764.81 L192.84,764.81" fill="none" stroke="#c02828" stroke-width="0.85"/><line x1="122.40" y1="769.4" x2="122.40" y2="646.4" stroke="#000" stroke-width="0.7" stroke-dasharray="4.4,2.6,0.6,2.46"/><line x1="29.4" y1="763.40" x2="193.0" y2="763.40" stroke="#000" stroke-width="0.7" stroke-dasharray="4.4,2.6,0.6,2.46"/></g>
<rect x="29.4" y="646.4" width="163.6" height="123.0" stroke="#7a7a7a" stroke-width="1" fill="none"/>
<path d="M32.18,769.4v-1.2M32.18,646.4v1.2M35.65,769.4v-1.2M35.65,646.4v1.2M39.12,769.4v-1.2M39.12,646.4v1.2M42.59,769.4v-1.2M42.59,646.4v1.2M46.06,769.4v-1.2M46.06,646.4v1.2M49.53,769.4v-1.2M49.53,646.4v1.2M53.00,769.4v-2.5M53.00,646.4v2.5M56.47,769.4v-1.2M56.47,646.4v1.2M59.94,769.4v-1.2M59.94,646.4v1.2M63.41,769.4v-1.2M63.41,646.4v1.2M66.88,769.4v-1.2M66.88,646.4v1.2M70.35,769.4v-1.2M70.35,646.4v1.2M73.82,769.4v-1.2M73.82,646.4v1.2M77.29,769.4v-1.2M77.29,646.4v1.2M80.76,769.4v-1.2M80.76,646.4v1.2M84.23,769.4v-1.2M84.23,646.4v1.2M87.70,769.4v-2.5M87.70,646.4v2.5M91.17,769.4v-1.2M91.17,646.4v1.2M94.64,769.4v-1.2M94.64,646.4v1.2M98.11,769.4v-1.2M98.11,646.4v1.2M101.58,769.4v-1.2M101.58,646.4v1.2M105.05,769.4v-1.2M105.05,646.4v1.2M108.52,769.4v-1.2M108.52,646.4v1.2M111.99,769.4v-1.2M111.99,646.4v1.2M115.46,769.4v-1.2M115.46,646.4v1.2M118.93,769.4v-1.2M118.93,646.4v1.2M122.40,769.4v-2.5M122.40,646.4v2.5M125.87,769.4v-1.2M125.87,646.4v1.2M129.34,769.4v-1.2M129.34,646.4v1.2M132.81,769.4v-1.2M132.81,646.4v1.2M136.28,769.4v-1.2M136.28,646.4v1.2M139.75,769.4v-1.2M139.75,646.4v1.2M143.22,769.4v-1.2M143.22,646.4v1.2M146.69,769.4v-1.2M146.69,646.4v1.2M150.16,769.4v-1.2M150.16,646.4v1.2M153.63,769.4v-1.2M153.63,646.4v1.2M157.10,769.4v-2.5M157.10,646.4v2.5M160.57,769.4v-1.2M160.57,646.4v1.2M164.04,769.4v-1.2M164.04,646.4v1.2M167.51,769.4v-1.2M167.51,646.4v1.2M170.98,769.4v-1.2M170.98,646.4v1.2M174.45,769.4v-1.2M174.45,646.4v1.2M177.92,769.4v-1.2M177.92,646.4v1.2M181.39,769.4v-1.2M181.39,646.4v1.2M184.86,769.4v-1.2M184.86,646.4v1.2M188.33,769.4v-1.2M188.33,646.4v1.2M191.80,769.4v-2.5M191.80,646.4v2.5M29.4,765.30h3.2M193.0,765.30h-3.2M29.4,760.55h1.6M193.0,760.55h-1.6M29.4,755.80h1.6M193.0,755.80h-1.6M29.4,751.05h1.6M193.0,751.05h-1.6M29.4,746.30h3.2M193.0,746.30h-3.2M29.4,741.55h1.6M193.0,741.55h-1.6M29.4,736.80h1.6M193.0,736.80h-1.6M29.4,732.05h1.6M193.0,732.05h-1.6M29.4,727.30h3.2M193.0,727.30h-3.2M29.4,722.55h1.6M193.0,722.55h-1.6M29.4,717.80h1.6M193.0,717.80h-1.6M29.4,713.05h1.6M193.0,713.05h-1.6M29.4,708.30h3.2M193.0,708.30h-3.2M29.4,703.55h1.6M193.0,703.55h-1.6M29.4,698.80h1.6M193.0,698.80h-1.6M29.4,694.05h1.6M193.0,694.05h-1.6M29.4,689.30h3.2M193.0,689.30h-3.2M29.4,684.55h1.6M193.0,684.55h-1.6M29.4,679.80h1.6M193.0,679.80h-1.6M29.4,675.05h1.6M193.0,675.05h-1.6M29.4,670.30h3.2M193.0,670.30h-3.2M29.4,665.55h1.6M193.0,665.55h-1.6M29.4,660.80h1.6M193.0,660.80h-1.6M29.4,656.05h1.6M193.0,656.05h-1.6M29.4,651.30h3.2M193.0,651.30h-3.2M29.4,646.55h1.6M193.0,646.55h-1.6" stroke="#333" stroke-width="0.9" fill="none"/>
<g font-size="9.7"><text x="53.00" y="782.20" text-anchor="middle">-200</text><text x="87.70" y="782.20" text-anchor="middle">-100</text><text x="122.40" y="782.20" text-anchor="middle">0</text><text x="157.10" y="782.20" text-anchor="middle">100</text><text x="191.80" y="782.20" text-anchor="middle">200</text><text x="27.50" y="768.70" text-anchor="end">0</text><text x="27.50" y="749.70" text-anchor="end">2</text><text x="27.50" y="730.70" text-anchor="end">4</text><text x="27.50" y="711.70" text-anchor="end">6</text><text x="27.50" y="692.70" text-anchor="end">8</text><text x="27.50" y="673.70" text-anchor="end">10</text><text x="27.50" y="654.70" text-anchor="end">12</text></g>
<text x="111.20" y="792.10" text-anchor="middle" font-size="9.7">trigger time (s)</text>
<text transform="translate(10.80,707.90) rotate(-90)" text-anchor="middle" font-size="9.7">Counts/s</text>
<text x="116.7" y="668.10" font-size="9.5">GRB111228A</text>
<text x="116.7" y="676.10" font-size="9.5">1-s</text>
<clipPath id="cGRB120102A"><rect x="234.3" y="646.4" width="163.2" height="123.0"/></clipPath>
<g clip-path="url(#cGRB120102A)"><path d="M234.36,766.10 L234.96,766.04 L235.56,765.96 L236.16,766.16 L236.76,767.70 L237.36,765.98 L237.96,767.29 L238.56,765.93 L239.16,766.54 L239.76,765.24 L240.36,766.25 L240.96,766.09 L241.56,766.96 L242.16,765.59 L242.76,766.24 L243.36,765.61 L243.96,765.45 L244.56,765.48 L245.16,766.29 L245.76,767.61 L246.36,767.03 L246.96,765.43 L247.56,765.30 L248.16,765.07 L248.76,766.54 L249.36,766.88 L249.96,765.37 L250.56,765.41 L251.16,766.08 L251.76,766.10 L252.36,767.17 L252.96,766.27 L253.56,765.04 L254.16,766.83 L254.76,766.47 L255.36,766.22 L255.96,766.36 L256.56,767.54 L257.16,766.50 L257.76,766.55 L258.36,766.35 L258.96,766.42 L259.56,766.10 L260.16,766.89 L260.76,764.75 L261.36,766.35 L261.96,764.93 L262.56,764.93 L263.16,766.00 L263.76,767.04 L264.36,767.82 L264.96,767.31 L265.56,766.33 L266.16,765.97 L266.76,766.72 L267.36,766.51 L267.96,763.95 L268.56,765.88 L269.16,767.06 L269.76,765.63 L270.36,766.88 L270.96,768.04 L271.56,765.99 L272.16,766.74 L272.76,766.08 L273.36,764.70 L273.96,766.06 L274.56,766.82 L275.16,764.84 L275.76,767.83 L276.36,767.07 L276.96,765.02 L277.56,764.92 L278.16,766.36 L278.76,766.72 L279.36,765.90 L279.96,765.91 L280.56,766.04 L281.16,766.55 L281.76,767.21 L282.36,766.75 L282.96,766.51 L283.56,766.51 L284.16,766.72 L284.76,766.30 L285.36,767.61 L285.96,765.46 L286.56,765.08 L287.16,766.66 L287.76,767.27 L288.36,765.89 L288.96,765.74 L289.56,766.27 L290.16,765.36 L290.76,766.57 L291.36,767.00 L291.96,764.92 L292.56,766.51 L293.16,766.46 L293.76,767.95 L294.36,766.41 L294.96,766.61 L295.56,766.13 L296.16,765.57 L296.76,765.96 L297.36,767.03 L297.96,765.27 L298.56,765.81 L299.16,765.67 L299.76,766.17 L300.36,766.04 L300.96,767.22 L301.56,767.34 L302.16,766.65 L302.76,766.69 L303.36,765.95 L303.38,766.10 L303.96,766.15 L304.56,765.90 L305.16,763.89 L305.76,764.76 L306.18,763.91 L306.36,763.95 L306.96,763.69 L307.56,765.68 L308.16,765.16 L308.57,764.11 L308.76,764.11 L309.36,764.86 L309.96,764.15 L310.56,767.11 L310.97,766.10 L311.16,766.60 L311.76,765.98 L312.36,766.78 L312.96,765.98 L313.56,764.12 L314.16,765.68 L314.76,765.99 L315.36,764.87 L315.96,765.61 L316.56,764.40 L317.16,766.81 L317.76,766.98 L318.36,767.75 L318.96,766.86 L319.56,767.65 L320.16,764.90 L320.76,766.01 L321.36,765.67 L321.96,765.96 L322.56,766.11 L323.16,766.30 L323.76,767.30 L324.36,764.88 L324.96,766.41 L325.56,764.68 L326.16,765.56 L326.76,767.20 L327.36,766.44 L327.96,766.45 L328.56,766.61 L329.16,766.63 L329.76,766.23 L330.36,766.68 L330.96,766.78 L331.56,766.12 L332.16,766.17 L332.76,766.61 L333.36,765.87 L333.96,766.56 L334.56,765.88 L335.16,766.21 L335.31,766.10 L335.76,766.75 L336.36,762.72 L336.96,763.27 L337.30,762.12 L337.56,762.91 L338.16,763.03 L338.76,762.98 L339.30,763.61 L339.36,764.26 L339.96,764.76 L340.56,764.14 L341.16,767.51 L341.29,766.10 L341.76,765.04 L342.36,766.31 L342.96,764.72 L343.56,767.67 L344.16,766.86 L344.76,766.08 L345.36,766.25 L345.96,766.05 L346.56,764.87 L346.88,765.11 L347.16,762.49 L347.76,757.03 L348.07,754.16 L348.36,748.10 L348.96,741.60 L349.27,736.25 L349.56,728.99 L350.16,709.55 L350.76,692.12 L350.99,685.70 L351.36,712.49 L351.66,736.25 L351.96,738.22 L352.46,743.22 L352.56,742.99 L353.16,750.21 L353.66,756.15 L353.76,759.02 L354.36,757.88 L354.96,758.19 L355.56,761.10 L355.65,760.13 L356.16,761.64 L356.76,761.75 L357.36,763.65 L357.96,763.31 L358.56,763.35 L359.16,765.06 L359.25,764.11 L359.76,763.28 L360.36,764.51 L360.96,765.36 L361.56,764.11 L362.16,763.99 L362.76,764.44 L363.36,764.60 L363.96,765.16 L364.56,762.31 L365.16,765.35 L365.76,764.50 L366.36,764.17 L366.96,763.73 L367.56,764.94 L368.16,764.42 L368.76,765.15 L369.36,764.40 L369.96,766.24 L370.56,763.75 L371.16,764.52 L371.76,764.23 L372.36,765.01 L372.96,766.56 L373.56,765.74 L374.16,765.23 L374.76,763.86 L375.36,765.12 L375.96,764.22 L376.56,765.04 L377.16,765.77 L377.76,765.49 L378.36,764.78 L378.96,764.67 L379.56,765.93 L380.16,765.20 L380.76,765.20 L381.36,764.74 L381.96,764.33 L382.56,766.46 L383.16,766.10 L383.76,766.99 L384.36,764.03 L384.96,765.43 L385.56,766.80 L386.16,763.86 L386.76,765.78 L387.36,765.56 L387.96,765.44 L388.56,765.09 L389.16,767.30 L389.76,765.89 L390.36,765.16 L390.96,765.50 L391.56,765.94 L392.16,766.36 L392.76,767.15 L393.36,768.43 L393.96,767.44 L394.56,765.66 L395.16,765.87 L395.76,766.54 L396.36,765.96 L396.96,764.58 L397.55,766.10" fill="none" stroke="#000" stroke-width="0.75" stroke-linejoin="round"/><path d="M234.36,766.10 L236.57,766.10 L236.57,765.91 L238.78,765.91 L238.78,766.26 L240.99,766.26 L240.99,765.80 L243.21,765.80 L243.21,766.08 L245.42,766.08 L245.42,766.36 L247.63,766.36 L247.63,766.31 L249.84,766.31 L249.84,765.94 L252.05,765.94 L252.05,766.41 L254.26,766.41 L254.26,766.40 L256.48,766.40 L256.48,766.27 L258.69,766.27 L258.69,766.06 L260.90,766.06 L260.90,766.04 L263.11,766.04 L263.11,766.24 L265.32,766.24 L265.32,766.43 L267.54,766.43 L267.54,766.17 L269.75,766.17 L269.75,766.14 L271.96,766.14 L271.96,766.03 L274.17,766.03 L274.17,766.09 L276.38,766.09 L276.38,766.13 L278.59,766.13 L278.59,766.15 L280.81,766.15 L280.81,765.81 L283.02,765.81 L283.02,766.20 L285.23,766.20 L285.23,766.10 L287.44,766.10 L287.44,766.18 L289.65,766.18 L289.65,765.83 L291.87,765.83 L291.87,766.52 L294.08,766.52 L294.08,766.31 L296.29,766.31 L296.29,765.67 L298.50,765.67 L298.50,766.18 L300.71,766.18 L300.71,765.94 L302.93,765.94 L302.93,765.90 L305.14,765.90 L305.14,766.13 L307.35,766.13 L307.35,766.14 L309.56,766.14 L309.56,765.85 L311.77,765.85 L311.77,766.19 L313.98,766.19 L313.98,765.87 L316.20,765.87 L316.20,766.42 L318.41,766.42 L318.41,766.27 L320.62,766.27 L320.62,765.89 L322.83,765.89 L322.83,766.28 L325.04,766.28 L325.04,765.82 L327.26,765.82 L327.26,765.78 L329.47,765.78 L329.47,766.10 L331.68,766.10 L331.68,766.63 L333.89,766.63 L333.89,766.10 L336.10,766.10 L336.10,762.62 L340.49,762.62 L340.49,765.46 L342.89,765.46 L342.89,765.57 L345.28,765.57 L345.28,765.44 L347.67,765.44 L347.67,738.04 L353.34,738.04 L353.34,759.13 L357.25,759.13 L357.25,764.11 L361.24,764.11 L361.24,766.23 L363.51,766.23 L363.51,766.14 L365.78,766.14 L365.78,766.05 L368.05,766.05 L368.05,766.38 L370.32,766.38 L370.32,766.13 L372.59,766.13 L372.59,766.31 L374.86,766.31 L374.86,765.49 L377.13,765.49 L377.13,766.16 L379.39,766.16 L379.39,766.10 L381.66,766.10 L381.66,766.44 L383.93,766.44 L383.93,766.49 L386.20,766.49 L386.20,766.63 L388.47,766.63 L388.47,766.37 L390.74,766.37 L390.74,765.94 L393.01,765.94 L393.01,765.91 L395.28,765.91 L395.28,766.14 L397.55,766.14" fill="none" stroke="#c02828" stroke-width="0.85"/><line x1="337.30" y1="769.4" x2="337.30" y2="646.4" stroke="#000" stroke-width="0.7" stroke-dasharray="4.4,2.6,0.6,2.46"/><line x1="234.3" y1="763.12" x2="397.5" y2="763.12" stroke="#000" stroke-width="0.7" stroke-dasharray="4.4,2.6,0.6,2.46"/><line x1="241.30" y1="646.4" x2="241.30" y2="769.4" stroke="#888" stroke-width="1.2"/></g>
<path d="M234.3,646.4 L397.5,646.4 L397.5,769.4 L234.3,769.4" stroke="#7a7a7a" stroke-width="1" fill="none"/>
<path d="M237.55,769.4v-1.2M237.55,646.4v1.2M241.54,769.4v-1.2M241.54,646.4v1.2M245.53,769.4v-1.2M245.53,646.4v1.2M249.52,769.4v-1.2M249.52,646.4v1.2M253.51,769.4v-1.2M253.51,646.4v1.2M257.50,769.4v-2.5M257.50,646.4v2.5M261.49,769.4v-1.2M261.49,646.4v1.2M265.48,769.4v-1.2M265.48,646.4v1.2M269.47,769.4v-1.2M269.47,646.4v1.2M273.46,769.4v-1.2M273.46,646.4v1.2M277.45,769.4v-1.2M277.45,646.4v1.2M281.44,769.4v-1.2M281.44,646.4v1.2M285.43,769.4v-1.2M285.43,646.4v1.2M289.42,769.4v-1.2M289.42,646.4v1.2M293.41,769.4v-1.2M293.41,646.4v1.2M297.40,769.4v-2.5M297.40,646.4v2.5M301.39,769.4v-1.2M301.39,646.4v1.2M305.38,769.4v-1.2M305.38,646.4v1.2M309.37,769.4v-1.2M309.37,646.4v1.2M313.36,769.4v-1.2M313.36,646.4v1.2M317.35,769.4v-1.2M317.35,646.4v1.2M321.34,769.4v-1.2M321.34,646.4v1.2M325.33,769.4v-1.2M325.33,646.4v1.2M329.32,769.4v-1.2M329.32,646.4v1.2M333.31,769.4v-1.2M333.31,646.4v1.2M337.30,769.4v-2.5M337.30,646.4v2.5M341.29,769.4v-1.2M341.29,646.4v1.2M345.28,769.4v-1.2M345.28,646.4v1.2M349.27,769.4v-1.2M349.27,646.4v1.2M353.26,769.4v-1.2M353.26,646.4v1.2M357.25,769.4v-1.2M357.25,646.4v1.2M361.24,769.4v-1.2M361.24,646.4v1.2M365.23,769.4v-1.2M365.23,646.4v1.2M369.22,769.4v-1.2M369.22,646.4v1.2M373.21,769.4v-1.2M373.21,646.4v1.2M377.20,769.4v-2.5M377.20,646.4v2.5M381.19,769.4v-1.2M381.19,646.4v1.2M385.18,769.4v-1.2M385.18,646.4v1.2M389.17,769.4v-1.2M389.17,646.4v1.2M393.16,769.4v-1.2M393.16,646.4v1.2M397.15,769.4v-1.2M397.15,646.4v1.2M234.3,766.10h3.2M397.5,766.10h-3.2M234.3,761.12h1.6M397.5,761.12h-1.6M234.3,756.15h1.6M397.5,756.15h-1.6M234.3,751.18h1.6M397.5,751.18h-1.6M234.3,746.20h3.2M397.5,746.20h-3.2M234.3,741.23h1.6M397.5,741.23h-1.6M234.3,736.25h1.6M397.5,736.25h-1.6M234.3,731.27h1.6M397.5,731.27h-1.6M234.3,726.30h3.2M397.5,726.30h-3.2M234.3,721.33h1.6M397.5,721.33h-1.6M234.3,716.35h1.6M397.5,716.35h-1.6M234.3,711.38h1.6M397.5,711.38h-1.6M234.3,706.40h3.2M397.5,706.40h-3.2M234.3,701.43h1.6M397.5,701.43h-1.6M234.3,696.45h1.6M397.5,696.45h-1.6M234.3,691.48h1.6M397.5,691.48h-1.6M234.3,686.50h3.2M397.5,686.50h-3.2M234.3,681.52h1.6M397.5,681.52h-1.6M234.3,676.55h1.6M397.5,676.55h-1.6M234.3,671.58h1.6M397.5,671.58h-1.6M234.3,666.60h3.2M397.5,666.60h-3.2M234.3,661.62h1.6M397.5,661.62h-1.6M234.3,656.65h1.6M397.5,656.65h-1.6M234.3,651.68h1.6M397.5,651.68h-1.6M234.3,646.70h3.2M397.5,646.70h-3.2" stroke="#333" stroke-width="0.9" fill="none"/>
<g font-size="9.7"><text x="257.50" y="782.20" text-anchor="middle">-200</text><text x="297.40" y="782.20" text-anchor="middle">-100</text><text x="337.30" y="782.20" text-anchor="middle">0</text><text x="377.20" y="782.20" text-anchor="middle">100</text><text x="232.40" y="769.50" text-anchor="end">0</text><text x="232.40" y="749.60" text-anchor="end">2</text><text x="232.40" y="729.70" text-anchor="end">4</text><text x="232.40" y="709.80" text-anchor="end">6</text><text x="232.40" y="689.90" text-anchor="end">8</text><text x="232.40" y="670.00" text-anchor="end">10</text><text x="232.40" y="650.10" text-anchor="end">12</text></g>
<text x="315.90" y="792.10" text-anchor="middle" font-size="9.7">trigger time (s)</text>
<text transform="translate(215.30,707.90) rotate(-90)" text-anchor="middle" font-size="9.7">Counts/s</text>
<text x="321.7" y="668.10" font-size="9.5">GRB120102A</text>
<text x="321.7" y="676.10" font-size="9.5">1-s</text>
<clipPath id="cGRB120327A"><rect x="435.2" y="646.4" width="163.2" height="123.0"/></clipPath>
<g clip-path="url(#cGRB120327A)"><path d="M440.65,759.72 L441.25,759.38 L441.85,760.04 L442.45,760.52 L443.05,759.70 L443.65,762.15 L444.25,761.42 L444.85,761.48 L445.45,760.61 L446.05,760.88 L446.65,760.62 L447.25,760.02 L447.85,759.69 L448.45,760.09 L449.05,761.32 L449.65,759.99 L450.25,760.97 L450.85,758.93 L451.45,760.09 L451.49,760.91 L452.05,761.07 L452.65,762.20 L453.25,760.95 L453.85,762.51 L454.45,760.80 L455.05,763.49 L455.65,762.73 L456.25,759.70 L456.85,759.68 L457.45,759.99 L458.05,763.74 L458.65,763.43 L459.25,763.43 L459.85,763.78 L460.45,761.56 L461.05,762.47 L461.65,761.95 L462.25,762.60 L462.85,763.02 L463.10,762.10 L463.45,761.38 L464.05,763.29 L464.65,760.65 L465.25,762.89 L465.85,762.42 L466.45,760.41 L467.05,763.03 L467.65,762.40 L468.25,762.47 L468.85,760.04 L469.45,759.75 L470.05,761.84 L470.65,759.85 L471.25,763.73 L471.85,762.33 L472.45,760.57 L473.05,762.39 L473.65,761.69 L474.25,761.83 L474.85,761.29 L475.45,761.80 L476.05,763.86 L476.65,762.56 L477.25,762.97 L477.85,761.40 L478.45,764.17 L479.05,763.08 L479.65,760.69 L480.25,761.68 L480.85,759.19 L481.45,762.14 L482.05,765.33 L482.65,760.92 L483.25,761.87 L483.85,762.52 L484.45,763.69 L485.05,762.32 L485.65,761.39 L486.25,761.69 L486.85,762.00 L487.45,761.38 L488.05,761.90 L488.65,763.34 L489.25,761.76 L489.85,761.50 L490.45,759.80 L491.05,762.04 L491.65,763.35 L492.25,760.71 L492.85,761.22 L493.45,762.77 L494.05,763.54 L494.65,760.26 L495.25,764.12 L495.85,762.85 L496.45,761.76 L497.05,763.35 L497.65,762.32 L498.25,761.51 L498.85,762.58 L499.45,763.63 L500.05,762.83 L500.65,762.23 L501.25,760.75 L501.85,763.33 L502.45,760.30 L503.05,763.13 L503.65,760.44 L504.25,759.51 L504.85,760.55 L505.45,762.32 L506.05,760.11 L506.65,760.73 L507.25,761.53 L507.85,762.31 L508.45,762.56 L509.05,762.25 L509.65,759.29 L510.25,761.48 L510.85,761.57 L511.45,762.67 L512.05,761.71 L512.65,762.44 L513.25,762.96 L513.85,761.99 L514.45,762.66 L515.05,761.95 L515.65,762.23 L516.25,762.94 L516.85,761.48 L517.28,762.10 L517.45,765.42 L518.05,762.24 L518.65,762.03 L519.25,762.00 L519.85,760.06 L520.45,761.35 L521.05,761.82 L521.65,762.12 L522.25,760.33 L522.85,762.89 L523.45,761.21 L524.05,761.44 L524.65,761.06 L525.25,760.84 L525.85,761.75 L526.45,761.62 L527.05,760.16 L527.65,760.98 L528.25,758.16 L528.85,759.33 L528.89,759.72 L529.45,758.76 L530.05,759.28 L530.65,758.36 L531.25,756.42 L531.85,756.80 L532.45,758.62 L533.05,756.56 L533.65,757.30 L534.25,755.19 L534.70,756.15 L534.85,758.03 L535.45,760.13 L536.05,756.62 L536.65,756.65 L537.25,756.45 L537.85,752.72 L538.45,755.05 L539.05,753.98 L539.34,754.96 L539.65,752.00 L540.25,749.39 L540.69,745.68 L540.85,747.83 L541.45,753.98 L541.66,756.15 L542.05,754.53 L542.65,756.34 L543.25,758.42 L543.85,759.66 L544.45,755.95 L545.05,756.07 L545.65,756.41 L546.25,758.43 L546.30,757.34 L546.85,750.07 L547.45,744.18 L547.58,742.11 L548.05,748.13 L548.63,757.34 L548.65,758.25 L549.25,757.36 L549.85,756.70 L550.45,757.60 L551.05,755.54 L551.65,757.81 L552.25,755.84 L552.85,756.76 L553.27,756.15 L553.45,748.93 L554.04,726.40 L554.05,726.53 L554.65,708.37 L554.82,700.22 L555.25,693.70 L555.79,684.99 L555.85,686.68 L556.37,709.74 L556.45,714.19 L556.75,726.40 L557.05,729.71 L557.53,739.49 L557.65,739.45 L558.25,739.41 L558.30,740.68 L558.85,743.71 L559.08,747.82 L559.45,749.53 L560.05,751.35 L560.62,753.77 L560.65,753.97 L561.25,755.01 L561.85,757.39 L562.17,757.34 L562.45,757.66 L563.05,756.33 L563.65,759.94 L563.72,759.72 L564.25,760.86 L564.85,759.46 L565.45,759.76 L566.05,761.36 L566.65,759.39 L567.25,762.47 L567.85,761.80 L568.45,761.40 L569.05,761.07 L569.65,762.19 L570.25,759.65 L570.85,760.09 L571.45,761.42 L571.46,761.62 L572.05,761.62 L572.65,761.54 L573.25,760.70 L573.85,760.62 L574.45,761.05 L575.05,762.07 L575.65,763.43 L576.25,763.68 L576.85,761.42 L577.45,763.39 L578.05,762.37 L578.65,760.40 L579.25,761.30 L579.85,761.65 L580.45,761.59 L581.05,760.98 L581.65,761.00 L582.25,762.91 L582.85,763.19 L583.45,762.83 L584.05,761.95 L584.65,759.25 L585.25,761.64 L585.85,761.78 L586.45,760.65 L587.05,760.81 L587.65,762.77 L588.25,764.47 L588.85,758.85 L589.45,762.42 L590.05,762.62 L590.65,760.54 L591.25,763.23 L591.85,762.43 L592.45,763.80 L593.05,760.92 L593.65,762.95 L594.25,761.98 L594.85,761.14 L595.45,762.34 L596.05,759.36 L596.65,762.29 L597.25,764.09 L597.85,761.21 L598.16,762.10" fill="none" stroke="#000" stroke-width="0.75" stroke-linejoin="round"/><path d="M440.65,760.84 L442.90,760.84 L442.90,761.24 L445.14,761.24 L445.14,760.34 L447.39,760.34 L447.39,761.56 L449.63,761.56 L449.63,761.20 L451.88,761.20 L451.88,760.69 L454.12,760.69 L454.12,760.22 L456.37,760.22 L456.37,760.47 L458.61,760.47 L458.61,760.40 L460.86,760.40 L460.86,760.89 L463.10,760.89 L463.10,762.34 L465.30,762.34 L465.30,761.74 L467.50,761.74 L467.50,762.02 L469.71,762.02 L469.71,762.26 L471.91,762.26 L471.91,762.24 L474.11,762.24 L474.11,762.27 L476.31,762.27 L476.31,761.99 L478.51,761.99 L478.51,762.02 L480.72,762.02 L480.72,762.15 L482.92,762.15 L482.92,762.80 L485.12,762.80 L485.12,761.89 L487.32,761.89 L487.32,761.99 L489.52,761.99 L489.52,762.36 L491.72,762.36 L491.72,761.80 L493.93,761.80 L493.93,762.19 L496.13,762.19 L496.13,762.15 L498.33,762.15 L498.33,762.15 L500.53,762.15 L500.53,762.64 L502.73,762.64 L502.73,762.20 L504.94,762.20 L504.94,762.42 L507.14,762.42 L507.14,762.73 L509.34,762.73 L509.34,761.61 L511.54,761.61 L511.54,762.43 L513.74,762.43 L513.74,762.13 L515.95,762.13 L515.95,761.64 L518.15,761.64 L518.15,761.75 L520.35,761.75 L520.35,761.83 L522.55,761.83 L522.55,762.20 L524.75,762.20 L524.75,762.15 L526.96,762.15 L526.96,759.72 L533.30,759.72 L533.30,757.34 L538.57,757.34 L538.57,754.37 L541.12,754.37 L541.12,753.91 L543.67,753.91 L543.67,754.12 L546.23,754.12 L546.23,754.41 L548.78,754.41 L548.78,754.05 L551.34,754.05 L551.34,754.21 L553.89,754.21 L553.89,710.93 L556.75,710.93 L556.75,739.97 L558.30,739.97 L558.30,747.82 L559.85,747.82 L559.85,754.96 L561.78,754.96 L561.78,759.72 L563.72,759.72 L563.72,761.42 L566.02,761.42 L566.02,761.68 L568.31,761.68 L568.31,761.58 L570.61,761.58 L570.61,761.80 L572.90,761.80 L572.90,761.08 L575.20,761.08 L575.20,761.30 L577.50,761.30 L577.50,761.54 L579.79,761.54 L579.79,762.11 L582.09,762.11 L582.09,760.94 L584.39,760.94 L584.39,760.97 L586.68,760.97 L586.68,761.33 L588.98,761.33 L588.98,760.98 L591.27,760.98 L591.27,762.15 L593.57,762.15 L593.57,761.13 L595.87,761.13 L595.87,761.46 L598.16,761.46" fill="none" stroke="#c02828" stroke-width="0.85"/><line x1="540.50" y1="769.4" x2="540.50" y2="646.4" stroke="#000" stroke-width="0.7" stroke-dasharray="4.4,2.6,0.6,2.46"/><line x1="435.2" y1="757.34" x2="598.4" y2="757.34" stroke="#000" stroke-width="0.7" stroke-dasharray="4.4,2.6,0.6,2.46"/></g>
<rect x="435.2" y="646.4" width="163.2" height="123.0" stroke="#7a7a7a" stroke-width="1" fill="none"/>
<path d="M436.01,769.4v-1.2M436.01,646.4v1.2M439.88,769.4v-1.2M439.88,646.4v1.2M443.75,769.4v-1.2M443.75,646.4v1.2M447.62,769.4v-1.2M447.62,646.4v1.2M451.49,769.4v-1.2M451.49,646.4v1.2M455.36,769.4v-1.2M455.36,646.4v1.2M459.23,769.4v-1.2M459.23,646.4v1.2M463.10,769.4v-2.5M463.10,646.4v2.5M466.97,769.4v-1.2M466.97,646.4v1.2M470.84,769.4v-1.2M470.84,646.4v1.2M474.71,769.4v-1.2M474.71,646.4v1.2M478.58,769.4v-1.2M478.58,646.4v1.2M482.45,769.4v-1.2M482.45,646.4v1.2M486.32,769.4v-1.2M486.32,646.4v1.2M490.19,769.4v-1.2M490.19,646.4v1.2M494.06,769.4v-1.2M494.06,646.4v1.2M497.93,769.4v-1.2M497.93,646.4v1.2M501.80,769.4v-2.5M501.80,646.4v2.5M505.67,769.4v-1.2M505.67,646.4v1.2M509.54,769.4v-1.2M509.54,646.4v1.2M513.41,769.4v-1.2M513.41,646.4v1.2M517.28,769.4v-1.2M517.28,646.4v1.2M521.15,769.4v-1.2M521.15,646.4v1.2M525.02,769.4v-1.2M525.02,646.4v1.2M528.89,769.4v-1.2M528.89,646.4v1.2M532.76,769.4v-1.2M532.76,646.4v1.2M536.63,769.4v-1.2M536.63,646.4v1.2M540.50,769.4v-2.5M540.50,646.4v2.5M544.37,769.4v-1.2M544.37,646.4v1.2M548.24,769.4v-1.2M548.24,646.4v1.2M552.11,769.4v-1.2M552.11,646.4v1.2M555.98,769.4v-1.2M555.98,646.4v1.2M559.85,769.4v-1.2M559.85,646.4v1.2M563.72,769.4v-1.2M563.72,646.4v1.2M567.59,769.4v-1.2M567.59,646.4v1.2M571.46,769.4v-1.2M571.46,646.4v1.2M575.33,769.4v-1.2M575.33,646.4v1.2M579.20,769.4v-2.5M579.20,646.4v2.5M583.07,769.4v-1.2M583.07,646.4v1.2M586.94,769.4v-1.2M586.94,646.4v1.2M590.81,769.4v-1.2M590.81,646.4v1.2M594.68,769.4v-1.2M594.68,646.4v1.2M435.2,769.24h1.6M598.4,769.24h-1.6M435.2,766.86h1.6M598.4,766.86h-1.6M435.2,764.48h1.6M598.4,764.48h-1.6M435.2,762.10h3.2M598.4,762.10h-3.2M435.2,759.72h1.6M598.4,759.72h-1.6M435.2,757.34h1.6M598.4,757.34h-1.6M435.2,754.96h1.6M598.4,754.96h-1.6M435.2,752.58h1.6M598.4,752.58h-1.6M435.2,750.20h1.6M598.4,750.20h-1.6M435.2,747.82h1.6M598.4,747.82h-1.6M435.2,745.44h1.6M598.4,745.44h-1.6M435.2,743.06h1.6M598.4,743.06h-1.6M435.2,740.68h1.6M598.4,740.68h-1.6M435.2,738.30h3.2M598.4,738.30h-3.2M435.2,735.92h1.6M598.4,735.92h-1.6M435.2,733.54h1.6M598.4,733.54h-1.6M435.2,731.16h1.6M598.4,731.16h-1.6M435.2,728.78h1.6M598.4,728.78h-1.6M435.2,726.40h1.6M598.4,726.40h-1.6M435.2,724.02h1.6M598.4,724.02h-1.6M435.2,721.64h1.6M598.4,721.64h-1.6M435.2,719.26h1.6M598.4,719.26h-1.6M435.2,716.88h1.6M598.4,716.88h-1.6M435.2,714.50h3.2M598.4,714.50h-3.2M435.2,712.12h1.6M598.4,712.12h-1.6M435.2,709.74h1.6M598.4,709.74h-1.6M435.2,707.36h1.6M598.4,707.36h-1.6M435.2,704.98h1.6M598.4,704.98h-1.6M435.2,702.60h1.6M598.4,702.60h-1.6M435.2,700.22h1.6M598.4,700.22h-1.6M435.2,697.84h1.6M598.4,697.84h-1.6M435.2,695.46h1.6M598.4,695.46h-1.6M435.2,693.08h1.6M598.4,693.08h-1.6M435.2,690.70h3.2M598.4,690.70h-3.2M435.2,688.32h1.6M598.4,688.32h-1.6M435.2,685.94h1.6M598.4,685.94h-1.6M435.2,683.56h1.6M598.4,683.56h-1.6M435.2,681.18h1.6M598.4,681.18h-1.6M435.2,678.80h1.6M598.4,678.80h-1.6M435.2,676.42h1.6M598.4,676.42h-1.6M435.2,674.04h1.6M598.4,674.04h-1.6M435.2,671.66h1.6M598.4,671.66h-1.6M435.2,669.28h1.6M598.4,669.28h-1.6M435.2,666.90h3.2M598.4,666.90h-3.2M435.2,664.52h1.6M598.4,664.52h-1.6M435.2,662.14h1.6M598.4,662.14h-1.6M435.2,659.76h1.6M598.4,659.76h-1.6M435.2,657.38h1.6M598.4,657.38h-1.6M435.2,655.00h1.6M598.4,655.00h-1.6M435.2,652.62h1.6M598.4,652.62h-1.6M435.2,650.24h1.6M598.4,650.24h-1.6M435.2,647.86h1.6M598.4,647.86h-1.6" stroke="#333" stroke-width="0.9" fill="none"/>
<g font-size="9.7"><text x="463.10" y="782.20" text-anchor="middle">-200</text><text x="501.80" y="782.20" text-anchor="middle">-100</text><text x="540.50" y="782.20" text-anchor="middle">0</text><text x="579.20" y="782.20" text-anchor="middle">100</text><text x="433.30" y="765.50" text-anchor="end">0</text><text x="433.30" y="741.70" text-anchor="end">1</text><text x="433.30" y="717.90" text-anchor="end">2</text><text x="433.30" y="694.10" text-anchor="end">3</text><text x="433.30" y="670.30" text-anchor="end">4</text></g>
<text x="516.80" y="792.10" text-anchor="middle" font-size="9.7">trigger time (s)</text>
<text transform="translate(420.70,707.90) rotate(-90)" text-anchor="middle" font-size="9.7">Counts/s</text>
<text x="521.7" y="668.10" font-size="9.5">GRB120327A</text>
<text x="521.7" y="676.10" font-size="9.5">1-s</text>
</svg></body></html>
